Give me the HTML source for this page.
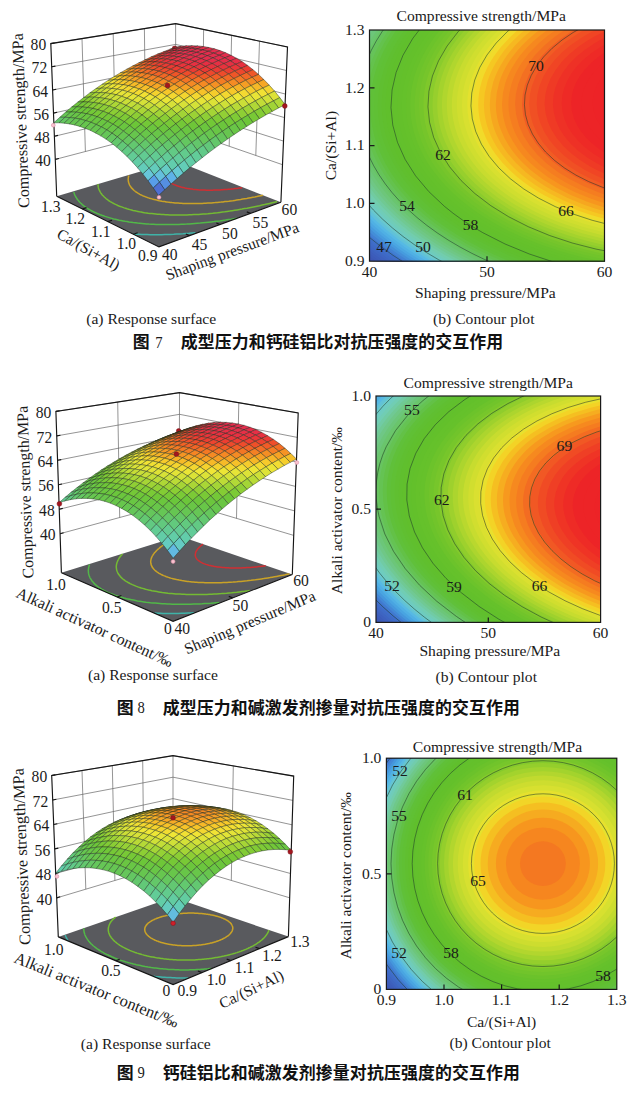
<!DOCTYPE html>
<html><head><meta charset="utf-8"><title>Figures 7-9</title>
<style>html,body{margin:0;padding:0;background:#fff}body{width:636px;height:1096px;overflow:hidden;font-family:"Liberation Serif",serif}svg{display:block;position:absolute;left:0;top:0}text{font-family:"Liberation Serif",serif}</style>
</head><body>
<svg width="636" height="1096" viewBox="0 0 636 1096" font-family="'Liberation Serif', serif" fill="#1a1a1a">
<path d="M56.7,196.3 L159.0,246.9 L280.9,202.2 L176.0,161.0 L56.7,196.3" fill="#595a5e" stroke="none"/>
<path d="M195.4,232.7 L192.2,233.0 L189.1,233.3 L186.0,233.5 L182.9,233.8 L179.8,234.0 L176.7,234.1 L173.7,234.3 L170.6,234.4 L167.6,234.5 L164.7,234.6 L161.7,234.7 L158.8,234.7 L155.9,234.7 L153.0,234.7 L150.2,234.7 L147.3,234.6 L144.6,234.5 L141.8,234.4 L139.1,234.3 L136.3,234.2 L133.7,234.0" fill="none" stroke="#3fb3a8" stroke-width="1.5"/>
<path d="M237.0,218.2 L234.1,218.7 L231.2,219.2 L228.4,219.6 L225.5,220.1 L222.7,220.5 L219.8,220.9 L217.0,221.2 L214.1,221.6 L211.3,221.9 L208.5,222.2 L205.7,222.5 L203.0,222.8 L200.2,223.1 L197.5,223.3 L194.7,223.5 L192.0,223.7 L189.3,223.9 L186.6,224.1 L183.9,224.2 L181.3,224.3 L178.7,224.4 L176.1,224.5 L173.5,224.6 L170.9,224.6 L168.4,224.6 L165.8,224.6 L163.4,224.6 L160.9,224.6 L158.4,224.5 L156.0,224.4 L153.6,224.3 L151.2,224.2 L148.9,224.1 L146.6,223.9 L144.3,223.7 L142.0,223.5 L139.8,223.3 L137.6,223.1 L135.4,222.8 L133.2,222.6 L131.1,222.3 L129.0,222.0 L127.0,221.6 L125.0,221.3 L123.0,220.9 L121.0,220.5 L119.1,220.2 L117.2,219.7 L115.4,219.3 L113.6,218.9 L111.8,218.4 L110.0,217.9 L108.3,217.4 L106.7,216.9 L105.0,216.4 L103.4,215.8 L101.9,215.3 L100.3,214.7 L98.9,214.1 L97.4,213.5 L96.0,212.9 L94.6,212.3 L94.6,212.3 L93.3,211.6 L92.0,211.0 L90.8,210.3 L89.6,209.6 L88.4,209.0 L87.3,208.3 L86.2,207.5 L85.2,206.8 L84.2,206.1 L83.2,205.3 L82.3,204.6 L81.5,203.8 L80.6,203.0 L79.8,202.2 L79.1,201.4 L78.4,200.6 L77.7,199.8 L77.1,199.0 L76.6,198.1 L76.0,197.3 L75.6,196.5 L75.1,195.6 L74.7,194.7 L74.4,193.9 L74.1,193.0 L73.8,192.1" fill="none" stroke="#52b848" stroke-width="1.5"/>
<path d="M277.1,201.6 L274.6,202.2 L272.1,202.8 L269.6,203.4 L267.1,204.0 L264.6,204.6 L262.1,205.1 L259.6,205.7 L257.1,206.2 L254.6,206.7 L252.1,207.2 L249.6,207.7 L247.1,208.2 L244.6,208.6 L242.1,209.1 L239.6,209.5 L237.1,209.9 L234.7,210.3 L232.2,210.7 L229.7,211.1 L227.2,211.4 L224.8,211.8 L222.3,212.1 L219.9,212.4 L217.5,212.7 L215.1,212.9 L212.7,213.2 L210.3,213.4 L207.9,213.7 L205.5,213.9 L203.1,214.0 L200.8,214.2 L198.5,214.4 L196.1,214.5 L193.8,214.6 L191.6,214.7 L189.3,214.8 L187.0,214.9 L184.8,215.0 L182.6,215.0 L180.4,215.0 L178.2,215.0 L176.1,215.0 L173.9,215.0 L171.8,214.9 L169.7,214.9 L167.6,214.8 L165.6,214.7 L163.6,214.6 L161.5,214.5 L159.6,214.3 L157.6,214.2 L155.7,214.0 L153.8,213.8 L151.9,213.6 L150.0,213.4 L148.2,213.2 L146.4,212.9 L144.6,212.7 L142.9,212.4 L141.2,212.1 L139.5,211.8 L137.8,211.4 L136.2,211.1 L134.6,210.7 L133.0,210.4 L131.5,210.0 L130.0,209.6 L128.5,209.2 L127.0,208.8 L125.6,208.3 L124.2,207.9 L122.9,207.4 L121.6,206.9 L120.3,206.5 L119.0,206.0 L117.8,205.5 L116.6,204.9 L116.6,204.9 L115.5,204.4 L114.4,203.8 L113.3,203.3 L112.2,202.7 L111.2,202.1 L110.3,201.6 L109.3,201.0 L108.4,200.4 L107.5,199.7 L106.7,199.1 L105.9,198.5 L105.2,197.8 L104.5,197.2 L103.8,196.5 L103.1,195.8 L102.5,195.2 L101.9,194.5 L101.4,193.8 L100.9,193.1 L100.5,192.4 L100.0,191.7 L99.7,190.9 L99.3,190.2 L99.0,189.5 L98.7,188.7 L98.5,188.0 L98.3,187.2 L98.2,186.5 L98.1,185.7 L98.0,185.0 L97.9,184.2" fill="none" stroke="#74bb33" stroke-width="1.5"/>
<path d="M262.9,195.3 L260.9,195.7 L258.9,196.1 L256.8,196.6 L254.8,197.0 L252.8,197.3 L250.8,197.7 L248.8,198.1 L246.8,198.5 L244.8,198.8 L242.7,199.1 L240.7,199.5 L238.7,199.8 L236.7,200.1 L234.8,200.4 L232.8,200.7 L230.8,200.9 L228.8,201.2 L226.9,201.4 L224.9,201.6 L223.0,201.9 L221.0,202.1 L219.1,202.2 L217.2,202.4 L215.2,202.6 L213.3,202.7 L211.5,202.9 L209.6,203.0 L207.7,203.1 L205.9,203.2 L204.0,203.3 L202.2,203.4 L200.4,203.5 L198.6,203.5 L196.8,203.5 L195.0,203.6 L193.2,203.6 L191.5,203.6 L189.8,203.6 L188.1,203.5 L186.4,203.5 L184.7,203.4 L183.0,203.4 L181.4,203.3 L179.8,203.2 L178.2,203.1 L176.6,203.0 L175.0,202.9 L173.5,202.7 L172.0,202.6 L170.5,202.4 L169.0,202.2 L167.5,202.1 L166.1,201.9 L164.7,201.6 L163.3,201.4 L161.9,201.2 L160.6,200.9 L159.3,200.7 L158.0,200.4 L156.7,200.1 L155.5,199.8 L154.2,199.5 L153.0,199.2 L151.9,198.9 L150.7,198.6 L149.6,198.2 L148.5,197.9 L147.4,197.5 L146.4,197.1 L145.4,196.8 L144.4,196.4 L143.4,196.0 L143.4,196.0 L142.5,195.6 L141.6,195.1 L140.7,194.7 L139.9,194.3 L139.1,193.8 L138.3,193.4 L137.5,192.9 L136.8,192.4 L136.1,192.0 L135.4,191.5 L134.8,191.0 L134.1,190.5 L133.6,190.0 L133.0,189.4 L132.5,188.9 L132.0,188.4 L131.5,187.9 L131.1,187.3 L130.7,186.8 L130.3,186.2 L130.0,185.6 L129.6,185.1 L129.4,184.5 L129.1,183.9 L128.9,183.3 L128.7,182.8 L128.6,182.2 L128.4,181.6 L128.3,181.0 L128.3,180.4 L128.2,179.8 L128.2,179.2 L128.3,178.5 L128.3,177.9 L128.4,177.3 L128.5,176.7 L128.7,176.0 L128.9,175.4" fill="none" stroke="#c9a227" stroke-width="1.5"/>
<path d="M242.1,187.7 L240.7,187.9 L239.3,188.1 L237.9,188.3 L236.5,188.4 L235.1,188.6 L233.7,188.8 L232.3,188.9 L231.0,189.1 L229.6,189.2 L228.2,189.3 L226.9,189.4 L225.5,189.5 L224.2,189.6 L222.8,189.7 L221.5,189.8 L220.2,189.9 L218.9,190.0 L217.6,190.0 L216.3,190.1 L215.0,190.1 L213.7,190.1 L212.5,190.2 L211.2,190.2 L210.0,190.2 L208.7,190.2 L207.5,190.2 L206.3,190.2 L205.1,190.1 L203.9,190.1 L202.8,190.0 L201.6,190.0 L200.5,189.9 L199.3,189.9 L198.2,189.8 L197.1,189.7 L196.0,189.6 L195.0,189.5 L193.9,189.4 L192.9,189.3 L191.9,189.1 L190.8,189.0 L189.9,188.8 L188.9,188.7 L187.9,188.5 L187.0,188.4 L186.1,188.2 L185.1,188.0 L184.3,187.8 L183.4,187.6 L182.5,187.4 L181.7,187.2 L180.9,187.0 L180.1,186.7 L179.3,186.5 L178.5,186.3 L177.8,186.0 L177.1,185.8 L176.3,185.5 L175.7,185.2 L175.7,185.2 L175.0,184.9 L174.3,184.7 L173.7,184.4 L173.1,184.1 L172.5,183.8 L172.0,183.5 L171.4,183.2 L170.9,182.8 L170.4,182.5 L169.9,182.2 L169.4,181.8 L169.0,181.5 L168.6,181.2 L168.2,180.8 L167.8,180.4 L167.4,180.1 L167.1,179.7 L166.8,179.3 L166.5,179.0 L166.2,178.6 L166.0,178.2 L165.8,177.8 L165.6,177.4 L165.4,177.0 L165.2,176.6 L165.1,176.2 L165.0,175.8 L164.9,175.4 L164.8,175.0 L164.8,174.6 L164.7,174.1 L164.7,173.7 L164.7,173.3 L164.8,172.9 L164.8,172.4 L164.9,172.0 L165.0,171.5 L165.2,171.1 L165.3,170.7 L165.5,170.2 L165.7,169.8 L165.9,169.3 L166.1,168.9 L166.4,168.4 L166.7,168.0 L167.0,167.5 L167.3,167.1 L167.7,166.6 L168.0,166.1 L168.4,165.7 L168.8,165.2 L169.2,164.8 L169.7,164.3 L170.2,163.8 L170.7,163.4 L171.2,162.9 L171.7,162.5" fill="none" stroke="#cf2f33" stroke-width="1.5"/>
<g stroke="#666" stroke-width="0.7"><path d="M55.3,159.4 L175.9,127.8 L282.5,164.7" fill="none"/><path d="M54.4,136.3 L175.8,107.0 L283.5,141.1" fill="none"/><path d="M53.5,113.1 L175.8,86.1 L284.5,117.6" fill="none"/><path d="M52.6,90.0 L175.7,65.3 L285.5,94.1" fill="none"/><path d="M51.7,66.8 L175.7,44.4 L286.5,70.5" fill="none"/><path d="M50.8,43.6 L175.6,23.6 L287.5,47.0" fill="none"/><path d="M85.4,151.5 L82.0,38.6" fill="none"/><path d="M115.6,143.6 L113.2,33.6" fill="none"/><path d="M145.7,135.7 L144.4,28.6" fill="none"/><path d="M255.8,155.5 L259.5,41.1" fill="none"/><path d="M229.2,146.2 L231.6,35.3" fill="none"/><path d="M202.6,137.0 L203.6,29.5" fill="none"/><path d="M175.9,127.8 L175.6,23.6" fill="none"/></g>
<g stroke="#151515" stroke-width="1.15" stroke-linejoin="miter"><path d="M56.7,196.3 L50.8,43.6 L175.6,23.6 L287.5,47.0 L280.9,202.2" fill="none"/><path d="M56.7,196.3 L159.0,246.9 L280.9,202.2" fill="none"/><path d="M55.3,159.4 L58.9,158.5" fill="none"/><path d="M54.4,136.3 L58.0,135.4" fill="none"/><path d="M53.5,113.1 L57.1,112.3" fill="none"/><path d="M52.6,90.0 L56.2,89.2" fill="none"/><path d="M51.7,66.8 L55.4,66.1" fill="none"/><path d="M50.8,43.6 L54.5,43.0" fill="none"/><path d="M189.5,235.7 L185.9,234.0" fill="none"/><path d="M219.9,224.6 L216.3,222.9" fill="none"/><path d="M250.4,213.4 L246.8,211.9" fill="none"/><path d="M133.4,234.2 L137.7,232.8" fill="none"/><path d="M107.8,221.6 L112.1,220.2" fill="none"/><path d="M82.3,209.0 L86.5,207.6" fill="none"/></g>
<circle cx="174.6" cy="48.4" r="2.4" fill="#a3161f" stroke="#7a0f15" stroke-width="0.5"/>
<g stroke="#1a2a1a" stroke-opacity="0.68" stroke-width="0.62" stroke-linejoin="round"><path d="M175.0,48.5 L181.2,46.3 L175.7,47.1 L169.5,49.4Z" fill="#e72f43"/><path d="M168.8,51.0 L175.0,48.5 L169.5,49.4 L163.3,51.8Z" fill="#e8313f"/><path d="M180.5,48.1 L186.7,45.8 L181.2,46.3 L175.0,48.5Z" fill="#e62e4a"/><path d="M162.6,53.6 L168.8,51.0 L163.3,51.8 L157.1,54.3Z" fill="#ea3738"/><path d="M174.3,50.5 L180.5,48.1 L175.0,48.5 L168.8,51.0Z" fill="#e72f46"/><path d="M186.1,48.0 L192.3,45.7 L186.7,45.8 L180.5,48.1Z" fill="#e52d4e"/><path d="M156.4,56.3 L162.6,53.6 L157.1,54.3 L150.9,57.0Z" fill="#ed4030"/><path d="M168.1,53.1 L174.3,50.5 L168.8,51.0 L162.6,53.6Z" fill="#e83041"/><path d="M179.8,50.4 L186.1,48.0 L180.5,48.1 L174.3,50.5Z" fill="#e52d4c"/><path d="M191.6,48.2 L197.9,45.9 L192.3,45.7 L186.1,48.0Z" fill="#e52d4e"/><path d="M150.2,59.2 L156.4,56.3 L150.9,57.0 L144.8,59.9Z" fill="#ef4e2a"/><path d="M161.9,55.9 L168.1,53.1 L162.6,53.6 L156.4,56.3Z" fill="#ea353a"/><path d="M173.6,53.1 L179.8,50.4 L174.3,50.5 L168.1,53.1Z" fill="#e62e47"/><path d="M185.3,50.7 L191.6,48.2 L186.1,48.0 L179.8,50.4Z" fill="#e52d4e"/><path d="M197.1,48.9 L203.4,46.5 L197.9,45.9 L191.6,48.2Z" fill="#e52d4e"/><path d="M144.0,62.2 L150.2,59.2 L144.8,59.9 L138.6,62.9Z" fill="#f16227"/><path d="M155.7,58.8 L161.9,55.9 L156.4,56.3 L150.2,59.2Z" fill="#ec3c32"/><path d="M167.3,55.8 L173.6,53.1 L168.1,53.1 L161.9,55.9Z" fill="#e83042"/><path d="M179.1,53.4 L185.3,50.7 L179.8,50.4 L173.6,53.1Z" fill="#e62e4b"/><path d="M190.9,51.4 L197.1,48.9 L191.6,48.2 L185.3,50.7Z" fill="#e52d4e"/><path d="M202.7,49.9 L209.0,47.5 L203.4,46.5 L197.1,48.9Z" fill="#e52d4e"/><path d="M137.9,65.4 L144.0,62.2 L138.6,62.9 L132.5,66.1Z" fill="#f47824"/><path d="M149.5,61.9 L155.7,58.8 L150.2,59.2 L144.0,62.2Z" fill="#ef4c2b"/><path d="M161.1,58.8 L167.3,55.8 L161.9,55.9 L155.7,58.8Z" fill="#ea353a"/><path d="M172.8,56.2 L179.1,53.4 L173.6,53.1 L167.3,55.8Z" fill="#e72f46"/><path d="M184.6,54.1 L190.9,51.4 L185.3,50.7 L179.1,53.4Z" fill="#e52d4e"/><path d="M196.4,52.4 L202.7,49.9 L197.1,48.9 L190.9,51.4Z" fill="#e52d4e"/><path d="M208.2,51.3 L214.5,48.8 L209.0,47.5 L202.7,49.9Z" fill="#e52d4e"/><path d="M131.7,68.8 L137.9,65.4 L132.5,66.1 L126.4,69.4Z" fill="#f58f24"/><path d="M143.3,65.1 L149.5,61.9 L144.0,62.2 L137.9,65.4Z" fill="#f16127"/><path d="M154.9,61.9 L161.1,58.8 L155.7,58.8 L149.5,61.9Z" fill="#ec3e31"/><path d="M166.6,59.1 L172.8,56.2 L167.3,55.8 L161.1,58.8Z" fill="#e83040"/><path d="M178.3,56.9 L184.6,54.1 L179.1,53.4 L172.8,56.2Z" fill="#e62e49"/><path d="M190.1,55.1 L196.4,52.4 L190.9,51.4 L184.6,54.1Z" fill="#e52d4e"/><path d="M201.9,53.9 L208.2,51.3 L202.7,49.9 L196.4,52.4Z" fill="#e52d4e"/><path d="M213.7,53.1 L220.1,50.6 L214.5,48.8 L208.2,51.3Z" fill="#e52d4e"/><path d="M125.6,72.3 L131.7,68.8 L126.4,69.4 L120.2,72.9Z" fill="#f6a725"/><path d="M137.1,68.5 L143.3,65.1 L137.9,65.4 L131.7,68.8Z" fill="#f47924"/><path d="M148.7,65.2 L154.9,61.9 L149.5,61.9 L143.3,65.1Z" fill="#ef4f2a"/><path d="M160.4,62.3 L166.6,59.1 L161.1,58.8 L154.9,61.9Z" fill="#eb3837"/><path d="M172.1,59.9 L178.3,56.9 L172.8,56.2 L166.6,59.1Z" fill="#e72f43"/><path d="M183.8,58.0 L190.1,55.1 L184.6,54.1 L178.3,56.9Z" fill="#e62e4b"/><path d="M195.6,56.6 L201.9,53.9 L196.4,52.4 L190.1,55.1Z" fill="#e52d4e"/><path d="M207.4,55.7 L213.7,53.1 L208.2,51.3 L201.9,53.9Z" fill="#e52d4e"/><path d="M219.3,55.3 L225.6,52.7 L220.1,50.6 L213.7,53.1Z" fill="#e52d4e"/><path d="M119.5,76.0 L125.6,72.3 L120.2,72.9 L114.1,76.6Z" fill="#f6c429"/><path d="M131.0,72.1 L137.1,68.5 L131.7,68.8 L125.6,72.3Z" fill="#f59124"/><path d="M142.5,68.6 L148.7,65.2 L143.3,65.1 L137.1,68.5Z" fill="#f26626"/><path d="M154.1,65.6 L160.4,62.3 L154.9,61.9 L148.7,65.2Z" fill="#ed442e"/><path d="M165.8,63.1 L172.1,59.9 L166.6,59.1 L160.4,62.3Z" fill="#e9343c"/><path d="M177.5,61.0 L183.8,58.0 L178.3,56.9 L172.1,59.9Z" fill="#e72f45"/><path d="M189.3,59.5 L195.6,56.6 L190.1,55.1 L183.8,58.0Z" fill="#e62e4b"/><path d="M201.1,58.5 L207.4,55.7 L201.9,53.9 L195.6,56.6Z" fill="#e52d4e"/><path d="M212.9,57.9 L219.3,55.3 L213.7,53.1 L207.4,55.7Z" fill="#e52d4e"/><path d="M224.8,57.9 L231.1,55.3 L225.6,52.7 L219.3,55.3Z" fill="#e52d4e"/><path d="M113.3,79.9 L119.5,76.0 L114.1,76.6 L108.0,80.4Z" fill="#f2db31"/><path d="M124.8,75.8 L131.0,72.1 L125.6,72.3 L119.5,76.0Z" fill="#f6ac26"/><path d="M136.3,72.2 L142.5,68.6 L137.1,68.5 L131.0,72.1Z" fill="#f48024"/><path d="M147.9,69.1 L154.1,65.6 L148.7,65.2 L142.5,68.6Z" fill="#f05828"/><path d="M159.6,66.4 L165.8,63.1 L160.4,62.3 L154.1,65.6Z" fill="#ec3d32"/><path d="M171.3,64.3 L177.5,61.0 L172.1,59.9 L165.8,63.1Z" fill="#e9323e"/><path d="M183.0,62.6 L189.3,59.5 L183.8,58.0 L177.5,61.0Z" fill="#e72f45"/><path d="M194.8,61.4 L201.1,58.5 L195.6,56.6 L189.3,59.5Z" fill="#e62e4a"/><path d="M206.6,60.8 L212.9,57.9 L207.4,55.7 L201.1,58.5Z" fill="#e52d4d"/><path d="M218.4,60.6 L224.8,57.9 L219.3,55.3 L212.9,57.9Z" fill="#e52d4e"/><path d="M230.3,60.9 L236.6,58.3 L231.1,55.3 L224.8,57.9Z" fill="#e52d4e"/><path d="M107.2,83.9 L113.3,79.9 L108.0,80.4 L101.9,84.4Z" fill="#e6e437"/><path d="M118.7,79.7 L124.8,75.8 L119.5,76.0 L113.3,79.9Z" fill="#f6ca2b"/><path d="M130.2,76.0 L136.3,72.2 L131.0,72.1 L124.8,75.8Z" fill="#f69a24"/><path d="M141.7,72.7 L147.9,69.1 L142.5,68.6 L136.3,72.2Z" fill="#f37225"/><path d="M153.4,69.9 L159.6,66.4 L154.1,65.6 L147.9,69.1Z" fill="#ef502a"/><path d="M165.0,67.6 L171.3,64.3 L165.8,63.1 L159.6,66.4Z" fill="#ec3b34"/><path d="M176.7,65.8 L183.0,62.6 L177.5,61.0 L171.3,64.3Z" fill="#e9323e"/><path d="M188.5,64.5 L194.8,61.4 L189.3,59.5 L183.0,62.6Z" fill="#e72f44"/><path d="M200.3,63.8 L206.6,60.8 L201.1,58.5 L194.8,61.4Z" fill="#e62e47"/><path d="M212.1,63.5 L218.4,60.6 L212.9,57.9 L206.6,60.8Z" fill="#e62e49"/><path d="M223.9,63.6 L230.3,60.9 L224.8,57.9 L218.4,60.6Z" fill="#e62e49"/><path d="M235.8,64.3 L242.1,61.6 L236.6,58.3 L230.3,60.9Z" fill="#e62e47"/><path d="M101.1,88.2 L107.2,83.9 L101.9,84.4 L95.9,88.6Z" fill="#d0e038"/><path d="M112.5,83.8 L118.7,79.7 L113.3,79.9 L107.2,83.9Z" fill="#f1e134"/><path d="M124.0,79.9 L130.2,76.0 L124.8,75.8 L118.7,79.7Z" fill="#f6b828"/><path d="M135.5,76.5 L141.7,72.7 L136.3,72.2 L130.2,76.0Z" fill="#f58d24"/><path d="M147.1,73.6 L153.4,69.9 L147.9,69.1 L141.7,72.7Z" fill="#f26926"/><path d="M158.8,71.2 L165.0,67.6 L159.6,66.4 L153.4,69.9Z" fill="#ef4c2b"/><path d="M170.5,69.3 L176.7,65.8 L171.3,64.3 L165.0,67.6Z" fill="#eb3a34"/><path d="M182.2,67.8 L188.5,64.5 L183.0,62.6 L176.7,65.8Z" fill="#e9333d"/><path d="M194.0,66.9 L200.3,63.8 L194.8,61.4 L188.5,64.5Z" fill="#e83042"/><path d="M205.7,66.5 L212.1,63.5 L206.6,60.8 L200.3,63.8Z" fill="#e72f44"/><path d="M217.6,66.6 L223.9,63.6 L218.4,60.6 L212.1,63.5Z" fill="#e72f44"/><path d="M229.4,67.1 L235.8,64.3 L230.3,60.9 L223.9,63.6Z" fill="#e72f43"/><path d="M241.2,68.2 L247.6,65.4 L242.1,61.6 L235.8,64.3Z" fill="#e83040"/><path d="M95.1,92.6 L101.1,88.2 L95.9,88.6 L89.8,92.9Z" fill="#b3d937"/><path d="M106.4,88.1 L112.5,83.8 L107.2,83.9 L101.1,88.2Z" fill="#dfe337"/><path d="M117.9,84.1 L124.0,79.9 L118.7,79.7 L112.5,83.8Z" fill="#f4d32f"/><path d="M129.4,80.5 L135.5,76.5 L130.2,76.0 L124.0,79.9Z" fill="#f6a925"/><path d="M140.9,77.5 L147.1,73.6 L141.7,72.7 L135.5,76.5Z" fill="#f58424"/><path d="M152.5,74.9 L158.8,71.2 L153.4,69.9 L147.1,73.6Z" fill="#f26426"/><path d="M164.2,72.8 L170.5,69.3 L165.0,67.6 L158.8,71.2Z" fill="#ef4b2c"/><path d="M175.9,71.3 L182.2,67.8 L176.7,65.8 L170.5,69.3Z" fill="#ec3c32"/><path d="M187.6,70.2 L194.0,66.9 L188.5,64.5 L182.2,67.8Z" fill="#ea3639"/><path d="M199.4,69.7 L205.7,66.5 L200.3,63.8 L194.0,66.9Z" fill="#e9333d"/><path d="M211.2,69.7 L217.6,66.6 L212.1,63.5 L205.7,66.5Z" fill="#e9323e"/><path d="M223.0,70.1 L229.4,67.1 L223.9,63.6 L217.6,66.6Z" fill="#e9333d"/><path d="M234.8,71.1 L241.2,68.2 L235.8,64.3 L229.4,67.1Z" fill="#ea3639"/><path d="M246.6,72.5 L253.0,69.7 L247.6,65.4 L241.2,68.2Z" fill="#ec3c32"/><path d="M89.0,97.1 L95.1,92.6 L89.8,92.9 L83.8,97.5Z" fill="#97d135"/><path d="M100.3,92.6 L106.4,88.1 L101.1,88.2 L95.1,92.6Z" fill="#c6dd37"/><path d="M111.7,88.4 L117.9,84.1 L112.5,83.8 L106.4,88.1Z" fill="#ebe536"/><path d="M123.2,84.7 L129.4,80.5 L124.0,79.9 L117.9,84.1Z" fill="#f6c92b"/><path d="M134.7,81.5 L140.9,77.5 L135.5,76.5 L129.4,80.5Z" fill="#f69f24"/><path d="M146.3,78.8 L152.5,74.9 L147.1,73.6 L140.9,77.5Z" fill="#f47f24"/><path d="M158.0,76.6 L164.2,72.8 L158.8,71.2 L152.5,74.9Z" fill="#f26326"/><path d="M169.6,74.9 L175.9,71.3 L170.5,69.3 L164.2,72.8Z" fill="#ef4e2a"/><path d="M181.3,73.7 L187.6,70.2 L182.2,67.8 L175.9,71.3Z" fill="#ed4230"/><path d="M193.1,73.1 L199.4,69.7 L194.0,66.9 L187.6,70.2Z" fill="#ec3b33"/><path d="M204.9,72.9 L211.2,69.7 L205.7,66.5 L199.4,69.7Z" fill="#eb3935"/><path d="M216.7,73.3 L223.0,70.1 L217.6,66.6 L211.2,69.7Z" fill="#eb3a34"/><path d="M228.5,74.1 L234.8,71.1 L229.4,67.1 L223.0,70.1Z" fill="#ec3e31"/><path d="M240.3,75.5 L246.6,72.5 L241.2,68.2 L234.8,71.1Z" fill="#ee482d"/><path d="M252.1,77.3 L258.5,74.4 L253.0,69.7 L246.6,72.5Z" fill="#f05728"/><path d="M83.0,101.9 L89.0,97.1 L83.8,97.5 L77.7,102.2Z" fill="#7ecb35"/><path d="M94.3,97.2 L100.3,92.6 L95.1,92.6 L89.0,97.1Z" fill="#a8d636"/><path d="M105.6,92.9 L111.7,88.4 L106.4,88.1 L100.3,92.6Z" fill="#d4e138"/><path d="M117.1,89.1 L123.2,84.7 L117.9,84.1 L111.7,88.4Z" fill="#f1e134"/><path d="M128.6,85.7 L134.7,81.5 L129.4,80.5 L123.2,84.7Z" fill="#f6c029"/><path d="M140.1,82.9 L146.3,78.8 L140.9,77.5 L134.7,81.5Z" fill="#f69b24"/><path d="M151.7,80.6 L158.0,76.6 L152.5,74.9 L146.3,78.8Z" fill="#f47f24"/><path d="M163.4,78.7 L169.6,74.9 L164.2,72.8 L158.0,76.6Z" fill="#f26726"/><path d="M175.1,77.4 L181.3,73.7 L175.9,71.3 L169.6,74.9Z" fill="#f05528"/><path d="M186.8,76.6 L193.1,73.1 L187.6,70.2 L181.3,73.7Z" fill="#ef4c2b"/><path d="M198.5,76.3 L204.9,72.9 L199.4,69.7 L193.1,73.1Z" fill="#ee472d"/><path d="M210.3,76.6 L216.7,73.3 L211.2,69.7 L204.9,72.9Z" fill="#ee482d"/><path d="M222.1,77.3 L228.5,74.1 L223.0,70.1 L216.7,73.3Z" fill="#ef4c2b"/><path d="M233.9,78.6 L240.3,75.5 L234.8,71.1 L228.5,74.1Z" fill="#f05628"/><path d="M245.7,80.3 L252.1,77.3 L246.6,72.5 L240.3,75.5Z" fill="#f26726"/><path d="M257.4,82.5 L263.8,79.5 L258.5,74.4 L252.1,77.3Z" fill="#f47e24"/><path d="M76.9,106.8 L83.0,101.9 L77.7,102.2 L71.7,107.0Z" fill="#6cc639"/><path d="M88.2,102.0 L94.3,97.2 L89.0,97.1 L83.0,101.9Z" fill="#8bce34"/><path d="M99.5,97.6 L105.6,92.9 L100.3,92.6 L94.3,97.2Z" fill="#b6da37"/><path d="M110.9,93.6 L117.1,89.1 L111.7,88.4 L105.6,92.9Z" fill="#dde237"/><path d="M122.4,90.2 L128.6,85.7 L123.2,84.7 L117.1,89.1Z" fill="#f2db32"/><path d="M133.9,87.2 L140.1,82.9 L134.7,81.5 L128.6,85.7Z" fill="#f6bb28"/><path d="M145.5,84.7 L151.7,80.6 L146.3,78.8 L140.1,82.9Z" fill="#f69a24"/><path d="M157.1,82.7 L163.4,78.7 L158.0,76.6 L151.7,80.6Z" fill="#f48324"/><path d="M168.8,81.3 L175.1,77.4 L169.6,74.9 L163.4,78.7Z" fill="#f37025"/><path d="M180.5,80.3 L186.8,76.6 L181.3,73.7 L175.1,77.4Z" fill="#f16227"/><path d="M192.2,79.9 L198.5,76.3 L193.1,73.1 L186.8,76.6Z" fill="#f15b27"/><path d="M204.0,80.0 L210.3,76.6 L204.9,72.9 L198.5,76.3Z" fill="#f15927"/><path d="M215.7,80.7 L222.1,77.3 L216.7,73.3 L210.3,76.6Z" fill="#f15e27"/><path d="M227.5,81.8 L233.9,78.6 L228.5,74.1 L222.1,77.3Z" fill="#f26926"/><path d="M239.3,83.5 L245.7,80.3 L240.3,75.5 L233.9,78.6Z" fill="#f47924"/><path d="M251.0,85.6 L257.4,82.5 L252.1,77.3 L245.7,80.3Z" fill="#f58d24"/><path d="M262.8,88.1 L269.2,85.1 L263.8,79.5 L257.4,82.5Z" fill="#f6a725"/><path d="M70.9,112.0 L76.9,106.8 L71.7,107.0 L65.7,112.1Z" fill="#69c646"/><path d="M82.2,107.0 L88.2,102.0 L83.0,101.9 L76.9,106.8Z" fill="#75c836"/><path d="M93.4,102.5 L99.5,97.6 L94.3,97.2 L88.2,102.0Z" fill="#98d235"/><path d="M104.8,98.4 L110.9,93.6 L105.6,92.9 L99.5,97.6Z" fill="#c2dc37"/><path d="M116.2,94.7 L122.4,90.2 L117.1,89.1 L110.9,93.6Z" fill="#e3e437"/><path d="M127.7,91.6 L133.9,87.2 L128.6,85.7 L122.4,90.2Z" fill="#f3d730"/><path d="M139.3,89.0 L145.5,84.7 L140.1,82.9 L133.9,87.2Z" fill="#f6bb28"/><path d="M150.9,86.9 L157.1,82.7 L151.7,80.6 L145.5,84.7Z" fill="#f69e24"/><path d="M162.5,85.3 L168.8,81.3 L163.4,78.7 L157.1,82.7Z" fill="#f58b24"/><path d="M174.2,84.2 L180.5,80.3 L175.1,77.4 L168.8,81.3Z" fill="#f47d24"/><path d="M185.9,83.7 L192.2,79.9 L186.8,76.6 L180.5,80.3Z" fill="#f37425"/><path d="M197.6,83.7 L204.0,80.0 L198.5,76.3 L192.2,79.9Z" fill="#f37125"/><path d="M209.4,84.2 L215.7,80.7 L210.3,76.6 L204.0,80.0Z" fill="#f37425"/><path d="M221.1,85.2 L227.5,81.8 L222.1,77.3 L215.7,80.7Z" fill="#f47d24"/><path d="M232.9,86.8 L239.3,83.5 L233.9,78.6 L227.5,81.8Z" fill="#f58b24"/><path d="M244.6,88.8 L251.0,85.6 L245.7,80.3 L239.3,83.5Z" fill="#f69e24"/><path d="M256.4,91.3 L262.8,88.1 L257.4,82.5 L251.0,85.6Z" fill="#f6b928"/><path d="M268.1,94.3 L274.5,91.1 L269.2,85.1 L262.8,88.1Z" fill="#f4d42f"/><path d="M64.9,117.3 L70.9,112.0 L65.7,112.1 L59.8,117.3Z" fill="#66c654"/><path d="M76.1,112.2 L82.2,107.0 L76.9,106.8 L70.9,112.0Z" fill="#6ac63f"/><path d="M87.4,107.5 L93.4,102.5 L88.2,102.0 L82.2,107.0Z" fill="#7eca35"/><path d="M98.7,103.3 L104.8,98.4 L99.5,97.6 L93.4,102.5Z" fill="#a2d436"/><path d="M110.1,99.5 L116.2,94.7 L110.9,93.6 L104.8,98.4Z" fill="#c9de38"/><path d="M121.6,96.3 L127.7,91.6 L122.4,90.2 L116.2,94.7Z" fill="#e6e437"/><path d="M133.1,93.5 L139.3,89.0 L133.9,87.2 L127.7,91.6Z" fill="#f3d730"/><path d="M144.6,91.2 L150.9,86.9 L145.5,84.7 L139.3,89.0Z" fill="#f6bf29"/><path d="M156.2,89.5 L162.5,85.3 L157.1,82.7 L150.9,86.9Z" fill="#f6a725"/><path d="M167.9,88.3 L174.2,84.2 L168.8,81.3 L162.5,85.3Z" fill="#f69724"/><path d="M179.6,87.6 L185.9,83.7 L180.5,80.3 L174.2,84.2Z" fill="#f58d24"/><path d="M191.3,87.5 L197.6,83.7 L192.2,79.9 L185.9,83.7Z" fill="#f58924"/><path d="M203.0,87.9 L209.4,84.2 L204.0,80.0 L197.6,83.7Z" fill="#f58a24"/><path d="M214.8,88.8 L221.1,85.2 L215.7,80.7 L209.4,84.2Z" fill="#f59124"/><path d="M226.5,90.3 L232.9,86.8 L227.5,81.8 L221.1,85.2Z" fill="#f69e24"/><path d="M238.2,92.2 L244.6,88.8 L239.3,83.5 L232.9,86.8Z" fill="#f6b227"/><path d="M250.0,94.6 L256.4,91.3 L251.0,85.6 L244.6,88.8Z" fill="#f5cb2b"/><path d="M261.7,97.5 L268.1,94.3 L262.8,88.1 L256.4,91.3Z" fill="#f1e134"/><path d="M273.4,100.9 L279.8,97.6 L274.5,91.1 L268.1,94.3Z" fill="#dde237"/><path d="M59.0,122.8 L64.9,117.3 L59.8,117.3 L53.8,122.8Z" fill="#63c76c"/><path d="M70.1,117.6 L76.1,112.2 L70.9,112.0 L64.9,117.3Z" fill="#67c64d"/><path d="M81.3,112.8 L87.4,107.5 L82.2,107.0 L76.1,112.2Z" fill="#6cc63a"/><path d="M92.6,108.4 L98.7,103.3 L93.4,102.5 L87.4,107.5Z" fill="#84cc34"/><path d="M104.0,104.5 L110.1,99.5 L104.8,98.4 L98.7,103.3Z" fill="#a9d636"/><path d="M115.4,101.1 L121.6,96.3 L116.2,94.7 L110.1,99.5Z" fill="#cddf38"/><path d="M126.9,98.2 L133.1,93.5 L127.7,91.6 L121.6,96.3Z" fill="#e6e437"/><path d="M138.4,95.7 L144.6,91.2 L139.3,89.0 L133.1,93.5Z" fill="#f2da31"/><path d="M150.0,93.9 L156.2,89.5 L150.9,86.9 L144.6,91.2Z" fill="#f6c82a"/><path d="M161.6,92.5 L167.9,88.3 L162.5,85.3 L156.2,89.5Z" fill="#f6b527"/><path d="M173.3,91.7 L179.6,87.6 L174.2,84.2 L167.9,88.3Z" fill="#f6a825"/><path d="M185.0,91.4 L191.3,87.5 L185.9,83.7 L179.6,87.6Z" fill="#f6a124"/><path d="M196.7,91.7 L203.0,87.9 L197.6,83.7 L191.3,87.5Z" fill="#f6a124"/><path d="M208.4,92.5 L214.8,88.8 L209.4,84.2 L203.0,87.9Z" fill="#f6a825"/><path d="M220.1,93.9 L226.5,90.3 L221.1,85.2 L214.8,88.8Z" fill="#f6b527"/><path d="M231.9,95.7 L238.2,92.2 L232.9,86.8 L226.5,90.3Z" fill="#f6c82a"/><path d="M243.6,98.1 L250.0,94.6 L244.6,88.8 L238.2,92.2Z" fill="#f3d931"/><path d="M255.3,100.9 L261.7,97.5 L256.4,91.3 L250.0,94.6Z" fill="#e8e437"/><path d="M267.0,104.2 L273.4,100.9 L268.1,94.3 L261.7,97.5Z" fill="#d1e038"/><path d="M278.6,108.0 L285.1,104.6 L279.8,97.6 L273.4,100.9Z" fill="#afd836"/><path d="M64.1,123.2 L70.1,117.6 L64.9,117.3 L59.0,122.8Z" fill="#64c761"/><path d="M75.3,118.2 L81.3,112.8 L76.1,112.2 L70.1,117.6Z" fill="#68c647"/><path d="M86.6,113.7 L92.6,108.4 L87.4,107.5 L81.3,112.8Z" fill="#6fc737"/><path d="M97.9,109.7 L104.0,104.5 L98.7,103.3 L92.6,108.4Z" fill="#8bce34"/><path d="M109.3,106.1 L115.4,101.1 L110.1,99.5 L104.0,104.5Z" fill="#add736"/><path d="M120.7,103.0 L126.9,98.2 L121.6,96.3 L115.4,101.1Z" fill="#cddf38"/><path d="M132.2,100.5 L138.4,95.7 L133.1,93.5 L126.9,98.2Z" fill="#e4e437"/><path d="M143.8,98.4 L150.0,93.9 L144.6,91.2 L138.4,95.7Z" fill="#f1e034"/><path d="M155.4,96.9 L161.6,92.5 L156.2,89.5 L150.0,93.9Z" fill="#f4d22e"/><path d="M167.0,96.0 L173.3,91.7 L167.9,88.3 L161.6,92.5Z" fill="#f6c72a"/><path d="M178.7,95.6 L185.0,91.4 L179.6,87.6 L173.3,91.7Z" fill="#f6bf29"/><path d="M190.4,95.7 L196.7,91.7 L191.3,87.5 L185.0,91.4Z" fill="#f6bd28"/><path d="M202.1,96.4 L208.4,92.5 L203.0,87.9 L196.7,91.7Z" fill="#f6c229"/><path d="M213.8,97.7 L220.1,93.9 L214.8,88.8 L208.4,92.5Z" fill="#f5cc2c"/><path d="M225.5,99.4 L231.9,95.7 L226.5,90.3 L220.1,93.9Z" fill="#f3d830"/><path d="M237.2,101.7 L243.6,98.1 L238.2,92.2 L231.9,95.7Z" fill="#eee636"/><path d="M248.9,104.5 L255.3,100.9 L250.0,94.6 L243.6,98.1Z" fill="#dbe237"/><path d="M260.6,107.7 L267.0,104.2 L261.7,97.5 L255.3,100.9Z" fill="#c1dc37"/><path d="M272.2,111.4 L278.6,108.0 L273.4,100.9 L267.0,104.2Z" fill="#a1d436"/><path d="M69.3,123.9 L75.3,118.2 L70.1,117.6 L64.1,123.2Z" fill="#65c658"/><path d="M80.5,119.2 L86.6,113.7 L81.3,112.8 L75.3,118.2Z" fill="#69c644"/><path d="M91.8,115.0 L97.9,109.7 L92.6,108.4 L86.6,113.7Z" fill="#73c837"/><path d="M103.2,111.3 L109.3,106.1 L104.0,104.5 L97.9,109.7Z" fill="#8ecf35"/><path d="M114.6,108.1 L120.7,103.0 L115.4,101.1 L109.3,106.1Z" fill="#add736"/><path d="M126.0,105.4 L132.2,100.5 L126.9,98.2 L120.7,103.0Z" fill="#cade38"/><path d="M137.6,103.2 L143.8,98.4 L138.4,95.7 L132.2,100.5Z" fill="#dee337"/><path d="M149.1,101.5 L155.4,96.9 L150.0,93.9 L143.8,98.4Z" fill="#ede536"/><path d="M160.7,100.4 L167.0,96.0 L161.6,92.5 L155.4,96.9Z" fill="#f2de33"/><path d="M172.4,99.9 L178.7,95.6 L173.3,91.7 L167.0,96.0Z" fill="#f3d730"/><path d="M184.0,99.9 L190.4,95.7 L185.0,91.4 L178.7,95.6Z" fill="#f3d52f"/><path d="M195.7,100.5 L202.1,96.4 L196.7,91.7 L190.4,95.7Z" fill="#f3d730"/><path d="M207.4,101.6 L213.8,97.7 L208.4,92.5 L202.1,96.4Z" fill="#f2de33"/><path d="M219.1,103.3 L225.5,99.4 L220.1,93.9 L213.8,97.7Z" fill="#ede536"/><path d="M230.8,105.4 L237.2,101.7 L231.9,95.7 L225.5,99.4Z" fill="#dfe337"/><path d="M242.5,108.1 L248.9,104.5 L243.6,98.1 L237.2,101.7Z" fill="#cbdf38"/><path d="M254.2,111.3 L260.6,107.7 L255.3,100.9 L248.9,104.5Z" fill="#b0d836"/><path d="M265.8,115.0 L272.2,111.4 L267.0,104.2 L260.6,107.7Z" fill="#92d035"/><path d="M74.5,124.9 L80.5,119.2 L75.3,118.2 L69.3,123.9Z" fill="#66c652"/><path d="M85.8,120.6 L91.8,115.0 L86.6,113.7 L80.5,119.2Z" fill="#6ac641"/><path d="M97.1,116.7 L103.2,111.3 L97.9,109.7 L91.8,115.0Z" fill="#76c836"/><path d="M108.4,113.4 L114.6,108.1 L109.3,106.1 L103.2,111.3Z" fill="#8ecf35"/><path d="M119.9,110.5 L126.0,105.4 L120.7,103.0 L114.6,108.1Z" fill="#aad636"/><path d="M131.4,108.1 L137.6,103.2 L132.2,100.5 L126.0,105.4Z" fill="#c3dd37"/><path d="M142.9,106.3 L149.1,101.5 L143.8,98.4 L137.6,103.2Z" fill="#d5e138"/><path d="M154.5,105.1 L160.7,100.4 L155.4,96.9 L149.1,101.5Z" fill="#e1e337"/><path d="M166.1,104.4 L172.4,99.9 L167.0,96.0 L160.7,100.4Z" fill="#e8e536"/><path d="M177.7,104.3 L184.0,99.9 L178.7,95.6 L172.4,99.9Z" fill="#ece536"/><path d="M189.4,104.7 L195.7,100.5 L190.4,95.7 L184.0,99.9Z" fill="#ebe536"/><path d="M201.1,105.7 L207.4,101.6 L202.1,96.4 L195.7,100.5Z" fill="#e5e437"/><path d="M212.8,107.3 L219.1,103.3 L213.8,97.7 L207.4,101.6Z" fill="#dce237"/><path d="M224.4,109.3 L230.8,105.4 L225.5,99.4 L219.1,103.3Z" fill="#cee038"/><path d="M236.1,112.0 L242.5,108.1 L237.2,101.7 L230.8,105.4Z" fill="#b9da37"/><path d="M247.8,115.1 L254.2,111.3 L248.9,104.5 L242.5,108.1Z" fill="#9fd335"/><path d="M259.4,118.7 L265.8,115.0 L260.6,107.7 L254.2,111.3Z" fill="#83cc34"/><path d="M79.7,126.4 L85.8,120.6 L80.5,119.2 L74.5,124.9Z" fill="#67c64f"/><path d="M91.0,122.3 L97.1,116.7 L91.8,115.0 L85.8,120.6Z" fill="#6ac640"/><path d="M102.3,118.8 L108.4,113.4 L103.2,111.3 L97.1,116.7Z" fill="#76c836"/><path d="M113.7,115.8 L119.9,110.5 L114.6,108.1 L108.4,113.4Z" fill="#8bce34"/><path d="M125.2,113.3 L131.4,108.1 L126.0,105.4 L119.9,110.5Z" fill="#a3d536"/><path d="M136.7,111.3 L142.9,106.3 L137.6,103.2 L131.4,108.1Z" fill="#b8da37"/><path d="M148.2,109.9 L154.5,105.1 L149.1,101.5 L142.9,106.3Z" fill="#c8de38"/><path d="M159.8,109.1 L166.1,104.4 L160.7,100.4 L154.5,105.1Z" fill="#d2e038"/><path d="M171.4,108.8 L177.7,104.3 L172.4,99.9 L166.1,104.4Z" fill="#d7e138"/><path d="M183.1,109.1 L189.4,104.7 L184.0,99.9 L177.7,104.3Z" fill="#d7e138"/><path d="M194.7,110.0 L201.1,105.7 L195.7,100.5 L189.4,104.7Z" fill="#d3e138"/><path d="M206.4,111.4 L212.8,107.3 L207.4,101.6 L201.1,105.7Z" fill="#c9de38"/><path d="M218.1,113.4 L224.4,109.3 L219.1,103.3 L212.8,107.3Z" fill="#b9da37"/><path d="M229.7,115.9 L236.1,112.0 L230.8,105.4 L224.4,109.3Z" fill="#a5d536"/><path d="M241.4,119.0 L247.8,115.1 L242.5,108.1 L236.1,112.0Z" fill="#8ecf35"/><path d="M253.0,122.5 L259.4,118.7 L254.2,111.3 L247.8,115.1Z" fill="#78c936"/><path d="M84.9,128.2 L91.0,122.3 L85.8,120.6 L79.7,126.4Z" fill="#67c64e"/><path d="M96.2,124.5 L102.3,118.8 L97.1,116.7 L91.0,122.3Z" fill="#6ac640"/><path d="M107.6,121.3 L113.7,115.8 L108.4,113.4 L102.3,118.8Z" fill="#74c837"/><path d="M119.0,118.6 L125.2,113.3 L119.9,110.5 L113.7,115.8Z" fill="#85cc34"/><path d="M130.5,116.5 L136.7,111.3 L131.4,108.1 L125.2,113.3Z" fill="#9ad235"/><path d="M142.0,114.9 L148.2,109.9 L142.9,106.3 L136.7,111.3Z" fill="#aad636"/><path d="M153.6,113.9 L159.8,109.1 L154.5,105.1 L148.2,109.9Z" fill="#b6da37"/><path d="M165.2,113.5 L171.4,108.8 L166.1,104.4 L159.8,109.1Z" fill="#bddb37"/><path d="M176.8,113.7 L183.1,109.1 L177.7,104.3 L171.4,108.8Z" fill="#bfdc37"/><path d="M188.4,114.4 L194.7,110.0 L189.4,104.7 L183.1,109.1Z" fill="#bbdb37"/><path d="M200.1,115.7 L206.4,111.4 L201.1,105.7 L194.7,110.0Z" fill="#b2d836"/><path d="M211.7,117.6 L218.1,113.4 L212.8,107.3 L206.4,111.4Z" fill="#a4d536"/><path d="M223.4,120.0 L229.7,115.9 L224.4,109.3 L218.1,113.4Z" fill="#92d035"/><path d="M235.0,123.0 L241.4,119.0 L236.1,112.0 L229.7,115.9Z" fill="#7fcb35"/><path d="M246.6,126.5 L253.0,122.5 L247.8,115.1 L241.4,119.0Z" fill="#6dc638"/><path d="M90.2,130.3 L96.2,124.5 L91.0,122.3 L84.9,128.2Z" fill="#67c64e"/><path d="M101.5,127.0 L107.6,121.3 L102.3,118.8 L96.2,124.5Z" fill="#6ac641"/><path d="M112.9,124.1 L119.0,118.6 L113.7,115.8 L107.6,121.3Z" fill="#70c737"/><path d="M124.3,121.8 L130.5,116.5 L125.2,113.3 L119.0,118.6Z" fill="#7ecb35"/><path d="M135.8,120.1 L142.0,114.9 L136.7,111.3 L130.5,116.5Z" fill="#8dce34"/><path d="M147.3,119.0 L153.6,113.9 L148.2,109.9 L142.0,114.9Z" fill="#99d235"/><path d="M158.9,118.4 L165.2,113.5 L159.8,109.1 L153.6,113.9Z" fill="#a1d436"/><path d="M170.5,118.4 L176.8,113.7 L171.4,108.8 L165.2,113.5Z" fill="#a4d536"/><path d="M182.1,119.0 L188.4,114.4 L183.1,109.1 L176.8,113.7Z" fill="#a2d436"/><path d="M193.7,120.2 L200.1,115.7 L194.7,110.0 L188.4,114.4Z" fill="#9bd235"/><path d="M205.4,121.9 L211.7,117.6 L206.4,111.4 L200.1,115.7Z" fill="#8fcf35"/><path d="M217.0,124.2 L223.4,120.0 L218.1,113.4 L211.7,117.6Z" fill="#80cb35"/><path d="M228.6,127.1 L235.0,123.0 L229.7,115.9 L223.4,120.0Z" fill="#72c837"/><path d="M240.2,130.5 L246.6,126.5 L241.4,119.0 L235.0,123.0Z" fill="#6ac63f"/><path d="M95.4,132.9 L101.5,127.0 L96.2,124.5 L90.2,130.3Z" fill="#67c64f"/><path d="M106.8,129.9 L112.9,124.1 L107.6,121.3 L101.5,127.0Z" fill="#69c643"/><path d="M118.2,127.4 L124.3,121.8 L119.0,118.6 L112.9,124.1Z" fill="#6cc639"/><path d="M129.6,125.5 L135.8,120.1 L130.5,116.5 L124.3,121.8Z" fill="#76c936"/><path d="M141.1,124.2 L147.3,119.0 L142.0,114.9 L135.8,120.1Z" fill="#7fcb35"/><path d="M152.7,123.4 L158.9,118.4 L153.6,113.9 L147.3,119.0Z" fill="#86cd34"/><path d="M164.2,123.3 L170.5,118.4 L165.2,113.5 L158.9,118.4Z" fill="#8ace34"/><path d="M175.8,123.7 L182.1,119.0 L176.8,113.7 L170.5,118.4Z" fill="#89cd34"/><path d="M187.4,124.8 L193.7,120.2 L188.4,114.4 L182.1,119.0Z" fill="#84cc34"/><path d="M199.1,126.4 L205.4,121.9 L200.1,115.7 L193.7,120.2Z" fill="#7dca35"/><path d="M210.7,128.6 L217.0,124.2 L211.7,117.6 L205.4,121.9Z" fill="#72c837"/><path d="M222.3,131.4 L228.6,127.1 L223.4,120.0 L217.0,124.2Z" fill="#6bc63c"/><path d="M233.9,134.7 L240.2,130.5 L235.0,123.0 L228.6,127.1Z" fill="#69c647"/><path d="M100.7,135.8 L106.8,129.9 L101.5,127.0 L95.4,132.9Z" fill="#66c651"/><path d="M112.0,133.2 L118.2,127.4 L112.9,124.1 L106.8,129.9Z" fill="#69c647"/><path d="M123.5,131.1 L129.6,125.5 L124.3,121.8 L118.2,127.4Z" fill="#6ac63f"/><path d="M134.9,129.6 L141.1,124.2 L135.8,120.1 L129.6,125.5Z" fill="#6cc638"/><path d="M146.4,128.7 L152.7,123.4 L147.3,119.0 L141.1,124.2Z" fill="#73c837"/><path d="M158.0,128.4 L164.2,123.3 L158.9,118.4 L152.7,123.4Z" fill="#76c936"/><path d="M169.5,128.7 L175.8,123.7 L170.5,118.4 L164.2,123.3Z" fill="#77c936"/><path d="M181.1,129.6 L187.4,124.8 L182.1,119.0 L175.8,123.7Z" fill="#74c837"/><path d="M192.7,131.0 L199.1,126.4 L193.7,120.2 L187.4,124.8Z" fill="#6ec638"/><path d="M204.3,133.1 L210.7,128.6 L205.4,121.9 L199.1,126.4Z" fill="#6bc63d"/><path d="M215.9,135.8 L222.3,131.4 L217.0,124.2 L210.7,128.6Z" fill="#69c645"/><path d="M227.5,139.1 L233.9,134.7 L228.6,127.1 L222.3,131.4Z" fill="#67c64f"/><path d="M105.9,139.1 L112.0,133.2 L106.8,129.9 L100.7,135.8Z" fill="#65c657"/><path d="M117.3,136.9 L123.5,131.1 L118.2,127.4 L112.0,133.2Z" fill="#67c64c"/><path d="M128.8,135.2 L134.9,129.6 L129.6,125.5 L123.5,131.1Z" fill="#69c645"/><path d="M140.2,134.1 L146.4,128.7 L141.1,124.2 L134.9,129.6Z" fill="#6ac640"/><path d="M151.7,133.6 L158.0,128.4 L152.7,123.4 L146.4,128.7Z" fill="#6bc63d"/><path d="M163.3,133.8 L169.5,128.7 L164.2,123.3 L158.0,128.4Z" fill="#6bc63c"/><path d="M174.9,134.5 L181.1,129.6 L175.8,123.7 L169.5,128.7Z" fill="#6bc63e"/><path d="M186.4,135.8 L192.7,131.0 L187.4,124.8 L181.1,129.6Z" fill="#6ac641"/><path d="M198.0,137.8 L204.3,133.1 L199.1,126.4 L192.7,131.0Z" fill="#69c646"/><path d="M209.6,140.4 L215.9,135.8 L210.7,128.6 L204.3,133.1Z" fill="#67c64e"/><path d="M221.2,143.5 L227.5,139.1 L222.3,131.4 L215.9,135.8Z" fill="#65c65b"/><path d="M111.2,142.8 L117.3,136.9 L112.0,133.2 L105.9,139.1Z" fill="#65c760"/><path d="M122.6,141.0 L128.8,135.2 L123.5,131.1 L117.3,136.9Z" fill="#66c653"/><path d="M134.0,139.7 L140.2,134.1 L134.9,129.6 L128.8,135.2Z" fill="#67c64d"/><path d="M145.5,139.1 L151.7,133.6 L146.4,128.7 L140.2,134.1Z" fill="#68c649"/><path d="M157.0,139.0 L163.3,133.8 L158.0,128.4 L151.7,133.6Z" fill="#68c648"/><path d="M168.6,139.6 L174.9,134.5 L169.5,128.7 L163.3,133.8Z" fill="#68c649"/><path d="M180.1,140.8 L186.4,135.8 L181.1,129.6 L174.9,134.5Z" fill="#68c64b"/><path d="M191.7,142.6 L198.0,137.8 L192.7,131.0 L186.4,135.8Z" fill="#66c650"/><path d="M203.3,145.1 L209.6,140.4 L204.3,133.1 L198.0,137.8Z" fill="#65c65b"/><path d="M214.8,148.1 L221.2,143.5 L215.9,135.8 L209.6,140.4Z" fill="#63c76a"/><path d="M116.5,147.0 L122.6,141.0 L117.3,136.9 L111.2,142.8Z" fill="#63c76b"/><path d="M127.9,145.5 L134.0,139.7 L128.8,135.2 L122.6,141.0Z" fill="#65c760"/><path d="M139.3,144.7 L145.5,139.1 L140.2,134.1 L134.0,139.7Z" fill="#65c659"/><path d="M150.8,144.5 L157.0,139.0 L151.7,133.6 L145.5,139.1Z" fill="#66c655"/><path d="M162.3,144.9 L168.6,139.6 L163.3,133.8 L157.0,139.0Z" fill="#66c655"/><path d="M173.9,145.9 L180.1,140.8 L174.9,134.5 L168.6,139.6Z" fill="#65c659"/><path d="M185.4,147.6 L191.7,142.6 L186.4,135.8 L180.1,140.8Z" fill="#64c760"/><path d="M197.0,149.9 L203.3,145.1 L198.0,137.8 L191.7,142.6Z" fill="#63c76b"/><path d="M208.5,152.8 L214.8,148.1 L209.6,140.4 L203.3,145.1Z" fill="#62c87a"/><path d="M121.7,151.5 L127.9,145.5 L122.6,141.0 L116.5,147.0Z" fill="#62c877"/><path d="M133.1,150.5 L139.3,144.7 L134.0,139.7 L127.9,145.5Z" fill="#63c86f"/><path d="M144.6,150.1 L150.8,144.5 L145.5,139.1 L139.3,144.7Z" fill="#63c76a"/><path d="M156.1,150.3 L162.3,144.9 L157.0,139.0 L150.8,144.5Z" fill="#64c76a"/><path d="M167.6,151.2 L173.9,145.9 L168.6,139.6 L162.3,144.9Z" fill="#63c76c"/><path d="M179.1,152.7 L185.4,147.6 L180.1,140.8 L173.9,145.9Z" fill="#63c873"/><path d="M190.7,154.9 L197.0,149.9 L191.7,142.6 L185.4,147.6Z" fill="#62c97c"/><path d="M202.2,157.7 L208.5,152.8 L203.3,145.1 L197.0,149.9Z" fill="#62ca89"/><path d="M127.0,156.5 L133.1,150.5 L127.9,145.5 L121.7,151.5Z" fill="#62ca85"/><path d="M138.4,155.9 L144.6,150.1 L139.3,144.7 L133.1,150.5Z" fill="#62c980"/><path d="M149.9,156.0 L156.1,150.3 L150.8,144.5 L144.6,150.1Z" fill="#62c97e"/><path d="M161.4,156.7 L167.6,151.2 L162.3,144.9 L156.1,150.3Z" fill="#62c980"/><path d="M172.9,158.0 L179.1,152.7 L173.9,145.9 L167.6,151.2Z" fill="#62ca85"/><path d="M184.4,160.0 L190.7,154.9 L185.4,147.6 L179.1,152.7Z" fill="#62cb8d"/><path d="M195.9,162.7 L202.2,157.7 L197.0,149.9 L190.7,154.9Z" fill="#62cc99"/><path d="M132.3,161.9 L138.4,155.9 L133.1,150.5 L127.0,156.5Z" fill="#62cc95"/><path d="M143.7,161.8 L149.9,156.0 L144.6,150.1 L138.4,155.9Z" fill="#62cb92"/><path d="M155.2,162.3 L161.4,156.7 L156.1,150.3 L149.9,156.0Z" fill="#62cb93"/><path d="M166.6,163.5 L172.9,158.0 L167.6,151.2 L161.4,156.7Z" fill="#62cc97"/><path d="M178.1,165.3 L184.4,160.0 L179.1,152.7 L172.9,158.0Z" fill="#62cc9d"/><path d="M189.6,167.8 L195.9,162.7 L190.7,154.9 L184.4,160.0Z" fill="#62cda7"/><path d="M137.5,167.7 L143.7,161.8 L138.4,155.9 L132.3,161.9Z" fill="#62cca5"/><path d="M149.0,168.1 L155.2,162.3 L149.9,156.0 L143.7,161.8Z" fill="#62cca5"/><path d="M160.4,169.1 L166.6,163.5 L161.4,156.7 L155.2,162.3Z" fill="#62cda7"/><path d="M171.9,170.7 L178.1,165.3 L172.9,158.0 L166.6,163.5Z" fill="#62cdad"/><path d="M183.4,173.1 L189.6,167.8 L184.4,160.0 L178.1,165.3Z" fill="#63cdb7"/><path d="M142.8,174.0 L149.0,168.1 L143.7,161.8 L137.5,167.7Z" fill="#63ccb9"/><path d="M154.2,174.8 L160.4,169.1 L155.2,162.3 L149.0,168.1Z" fill="#63ccbb"/><path d="M165.7,176.3 L171.9,170.7 L166.6,163.5 L160.4,169.1Z" fill="#65cbc4"/><path d="M177.1,178.5 L183.4,173.1 L178.1,165.3 L171.9,170.7Z" fill="#67c9d1"/><path d="M148.0,180.8 L154.2,174.8 L149.0,168.1 L142.8,174.0Z" fill="#67c6d9"/><path d="M159.5,182.1 L165.7,176.3 L160.4,169.1 L154.2,174.8Z" fill="#64bfde"/><path d="M170.9,184.1 L177.1,178.5 L171.9,170.7 L165.7,176.3Z" fill="#5eb2e7"/><path d="M153.3,188.0 L159.5,182.1 L154.2,174.8 L148.0,180.8Z" fill="#589de9"/><path d="M164.7,189.8 L170.9,184.1 L165.7,176.3 L159.5,182.1Z" fill="#558fe2"/><path d="M158.5,195.6 L164.7,189.8 L159.5,182.1 L153.3,188.0Z" fill="#4e6fd2"/></g>
<text transform="translate(50.8 166.0) scale(1 1.10)" font-size="15.6" text-anchor="end">40</text>
<text transform="translate(49.9 142.9) scale(1 1.10)" font-size="15.6" text-anchor="end">48</text>
<text transform="translate(49.0 119.7) scale(1 1.10)" font-size="15.6" text-anchor="end">56</text>
<text transform="translate(48.1 96.6) scale(1 1.10)" font-size="15.6" text-anchor="end">64</text>
<text transform="translate(47.2 73.4) scale(1 1.10)" font-size="15.6" text-anchor="end">72</text>
<text transform="translate(46.2 50.2) scale(1 1.10)" font-size="15.6" text-anchor="end">80</text>
<text transform="translate(169.7 260.4) scale(1 1.10)" font-size="15.6" text-anchor="middle">40</text>
<text transform="translate(199.5 250.1) scale(1 1.10)" font-size="15.6" text-anchor="middle">45</text>
<text transform="translate(229.9 239.0) scale(1 1.10)" font-size="15.6" text-anchor="middle">50</text>
<text transform="translate(260.4 227.8) scale(1 1.10)" font-size="15.6" text-anchor="middle">55</text>
<text transform="translate(289.4 215.4) scale(1 1.10)" font-size="15.6" text-anchor="middle">60</text>
<text transform="translate(147.7 260.7) scale(1 1.10)" font-size="15.6" text-anchor="middle">0.9</text>
<text transform="translate(126.4 249.2) scale(1 1.10)" font-size="15.6" text-anchor="middle">1.0</text>
<text transform="translate(100.8 236.5) scale(1 1.10)" font-size="15.6" text-anchor="middle">1.1</text>
<text transform="translate(75.3 223.9) scale(1 1.10)" font-size="15.6" text-anchor="middle">1.2</text>
<text transform="translate(50.8 211.6) scale(1 1.10)" font-size="15.6" text-anchor="middle">1.3</text>
<text x="234.0" y="256.0" font-size="15.6" text-anchor="middle" transform="rotate(-20.3 234.0 256.0)">Shaping pressure/MPa</text>
<text x="86.0" y="254.0" font-size="15.6" text-anchor="middle" transform="rotate(29.0 86.0 254.0)">Ca/(Si+Al)</text>
<text x="26.0" y="120.5" font-size="16.1" text-anchor="middle" transform="rotate(-92.2 26.0 120.5)">Compressive strength/MPa</text>
<circle cx="53.3" cy="125.2" r="1.9" fill="#f9c3d0" stroke="#dc8fa6" stroke-width="0.6"/><circle cx="167.5" cy="85.4" r="2.4" fill="#a3161f" stroke="#7a0f15" stroke-width="0.5"/><circle cx="284.8" cy="106.0" r="2.4" fill="#a3161f" stroke="#7a0f15" stroke-width="0.5"/><circle cx="159.0" cy="197.3" r="1.9" fill="#f9c3d0" stroke="#dc8fa6" stroke-width="0.6"/>
<clipPath id="cp1"><rect x="369.5" y="30.0" width="235.0" height="231.2"/></clipPath>
<g clip-path="url(#cp1)">
<rect x="369.5" y="30.0" width="235.0" height="231.2" fill="#3b52b0"/>
<g transform="translate(695.60 101.34) rotate(178.82)">
<ellipse rx="417.5" ry="245.9" fill="#3c56b4"/>
<ellipse rx="414.5" ry="244.2" fill="#3c5ab8"/>
<ellipse rx="411.6" ry="242.5" fill="#3d5dbb"/>
<ellipse rx="408.6" ry="240.7" fill="#3d61bf"/>
<ellipse rx="405.6" ry="238.9" fill="#3e65c2"/>
<ellipse rx="402.6" ry="237.2" fill="#3e69c6"/>
<ellipse rx="399.5" ry="235.4" fill="#3f6dc9"/>
<ellipse rx="396.5" ry="233.5" fill="#4074cd"/>
<ellipse rx="393.4" ry="231.7" fill="#4281d3"/>
<ellipse rx="390.3" ry="229.9" fill="#448ed8"/>
<ellipse rx="387.1" ry="228.0" fill="#469bde"/>
<ellipse rx="383.9" ry="226.2" fill="#4ba6e2"/>
<ellipse rx="380.7" ry="224.3" fill="#50b0e4"/>
<ellipse rx="377.5" ry="222.4" fill="#56b9e4"/>
<ellipse rx="374.3" ry="220.5" fill="#60c1d9"/>
<ellipse rx="371.0" ry="218.5" fill="#69c8cd"/>
<ellipse rx="367.7" ry="216.6" fill="#6ecbc2"/>
<ellipse rx="364.4" ry="214.6" fill="#70ccb8"/>
<ellipse rx="361.0" ry="212.6" fill="#72cdae"/>
<ellipse rx="357.6" ry="210.6" fill="#71cba0"/>
<ellipse rx="354.2" ry="208.6" fill="#70c992"/>
<ellipse rx="350.7" ry="206.6" fill="#6fc785"/>
<ellipse rx="347.2" ry="204.5" fill="#6dc67a"/>
<ellipse rx="343.6" ry="202.4" fill="#6ac56f"/>
<ellipse rx="340.1" ry="200.3" fill="#68c464"/>
<ellipse rx="336.5" ry="198.2" fill="#66c359"/>
<ellipse rx="332.8" ry="196.1" fill="#64c24d"/>
<ellipse rx="329.1" ry="193.9" fill="#62c142"/>
<ellipse rx="325.4" ry="191.7" fill="#60c038"/>
<ellipse rx="321.6" ry="189.5" fill="#60c035"/>
<ellipse rx="317.8" ry="187.2" fill="#60bf31"/>
<ellipse rx="313.9" ry="184.9" fill="#60bf2e"/>
<ellipse rx="310.0" ry="182.6" fill="#60bf2c"/>
<ellipse rx="306.0" ry="180.3" fill="#62c02c"/>
<ellipse rx="302.0" ry="177.9" fill="#63c02c"/>
<ellipse rx="298.0" ry="175.5" fill="#64c02b"/>
<ellipse rx="293.8" ry="173.1" fill="#65c12b"/>
<ellipse rx="289.6" ry="170.6" fill="#67c12b"/>
<ellipse rx="285.4" ry="168.1" fill="#6cc32b"/>
<ellipse rx="281.1" ry="165.6" fill="#71c42b"/>
<ellipse rx="276.7" ry="163.0" fill="#76c52b"/>
<ellipse rx="272.2" ry="160.4" fill="#7fc82b"/>
<ellipse rx="267.7" ry="157.7" fill="#8bcc2c"/>
<ellipse rx="263.1" ry="155.0" fill="#97cf2d"/>
<ellipse rx="258.4" ry="152.2" fill="#a4d32d"/>
<ellipse rx="253.7" ry="149.4" fill="#b0d62e"/>
<ellipse rx="248.8" ry="146.6" fill="#bcd92e"/>
<ellipse rx="243.8" ry="143.6" fill="#c8dc2f"/>
<ellipse rx="238.8" ry="140.7" fill="#d0de2f"/>
<ellipse rx="233.6" ry="137.6" fill="#d8e030"/>
<ellipse rx="228.3" ry="134.5" fill="#e4e12e"/>
<ellipse rx="222.9" ry="131.3" fill="#f1db2a"/>
<ellipse rx="217.4" ry="128.0" fill="#f5c822"/>
<ellipse rx="211.7" ry="124.7" fill="#f6b821"/>
<ellipse rx="205.8" ry="121.2" fill="#f6a71f"/>
<ellipse rx="199.8" ry="117.7" fill="#f7961e"/>
<ellipse rx="193.6" ry="114.0" fill="#f6881f"/>
<ellipse rx="187.2" ry="110.2" fill="#f57d20"/>
<ellipse rx="180.5" ry="106.3" fill="#f37022"/>
<ellipse rx="173.6" ry="102.3" fill="#f15c24"/>
<ellipse rx="166.4" ry="98.0" fill="#f05024"/>
<ellipse rx="158.9" ry="93.6" fill="#f04524"/>
<ellipse rx="151.0" ry="89.0" fill="#ef3a25"/>
<ellipse rx="142.7" ry="84.1" fill="#ee3126"/>
<ellipse rx="133.9" ry="78.9" fill="#ee2a26"/>
<ellipse rx="124.4" ry="73.3" fill="#ed2427"/>
<ellipse rx="114.2" ry="67.3" fill="#ed2427"/>
<ellipse rx="102.9" ry="60.6" fill="#ed2327"/>
<ellipse rx="90.3" ry="53.2" fill="#ed2327"/>
<ellipse rx="75.6" ry="44.5" fill="#ed2227"/>
<ellipse rx="57.1" ry="33.7" fill="#ed2227"/>
<ellipse rx="28.7" ry="16.9" fill="#ec2227"/>
<g fill="none" stroke="#1f3a2a" stroke-opacity="0.7" stroke-width="0.75">
<ellipse rx="395.4" ry="232.9"/>
<ellipse rx="367.7" ry="216.6"/>
<ellipse rx="337.7" ry="198.9"/>
<ellipse rx="304.7" ry="179.5"/>
<ellipse rx="267.7" ry="157.7"/>
<ellipse rx="224.7" ry="132.4"/>
<ellipse rx="171.2" ry="100.9"/>
</g></g></g>
<text x="536.0" y="71.4" font-size="15.6" text-anchor="middle">70</text>
<text x="443.0" y="160.4" font-size="15.6" text-anchor="middle">62</text>
<text x="407.0" y="211.4" font-size="15.6" text-anchor="middle">54</text>
<text x="470.5" y="230.4" font-size="15.6" text-anchor="middle">58</text>
<text x="566.0" y="216.4" font-size="15.6" text-anchor="middle">66</text>
<text x="384.0" y="252.4" font-size="15.6" text-anchor="middle">47</text>
<text x="423.0" y="252.4" font-size="15.6" text-anchor="middle">50</text>
<rect x="369.5" y="30.0" width="235.0" height="231.2" fill="none" stroke="#1a1a1a" stroke-width="1.2"/>
<text x="369.5" y="276.9" font-size="15.6" text-anchor="middle">40</text>
<text x="487.0" y="276.9" font-size="15.6" text-anchor="middle">50</text>
<text x="604.5" y="276.9" font-size="15.6" text-anchor="middle">60</text>
<text x="364.5" y="265.9" font-size="15.6" text-anchor="end">0.9</text>
<text x="364.5" y="208.1" font-size="15.6" text-anchor="end">1.0</text>
<text x="364.5" y="150.3" font-size="15.6" text-anchor="end">1.1</text>
<text x="364.5" y="92.5" font-size="15.6" text-anchor="end">1.2</text>
<text x="364.5" y="34.7" font-size="15.6" text-anchor="end">1.3</text>
<path d="M487.0,261.2 v-5 M369.5,203.4 h5 M369.5,145.6 h5 M369.5,87.8 h5" stroke="#1a1a1a" stroke-width="1.2" fill="none"/>
<text x="481.2" y="21.0" font-size="15.6" text-anchor="middle">Compressive strength/MPa</text>
<text x="485.4" y="297.7" font-size="15.6" text-anchor="middle">Shaping pressure/MPa</text>
<text x="336.0" y="145.6" font-size="15.6" text-anchor="middle" transform="rotate(-90.0 336.0 145.6)">Ca/(Si+Al)</text>
<path d="M61.4,572.7 L173.1,621.3 L292.3,574.5 L179.3,536.0 L61.4,572.7" fill="#595a5e" stroke="none"/>
<path d="M194.1,612.8 L190.9,613.0 L187.7,613.1 L184.5,613.2 L181.4,613.3 L178.3,613.4 L175.2,613.4 L172.1,613.5 L169.1,613.5 L166.1,613.4 L163.1,613.4 L160.2,613.3 L157.3,613.2 L154.4,613.1" fill="none" stroke="#3fb3a8" stroke-width="1.5"/>
<path d="M219.5,602.6 L216.5,602.8 L213.6,603.0 L210.7,603.3 L207.8,603.5 L204.9,603.6 L202.1,603.8 L199.3,603.9 L196.4,604.0 L193.7,604.1 L190.9,604.2 L188.2,604.3 L185.5,604.3 L182.8,604.3 L180.1,604.3 L177.5,604.3 L174.9,604.2 L172.3,604.2 L169.8,604.1 L167.3,604.0 L164.8,603.8 L162.3,603.7 L159.9,603.5 L157.5,603.3 L155.2,603.1 L152.8,602.9 L150.5,602.7 L148.3,602.4 L146.1,602.2 L143.9,601.9 L141.7,601.6 L139.6,601.2 L137.5,600.9 L135.5,600.5 L133.5,600.1 L131.5,599.7 L129.6,599.3 L127.7,598.9 L125.9,598.5 L124.0,598.0 L122.3,597.5 L120.6,597.0 L118.9,596.5 L117.2,596.0 L115.6,595.5 L114.1,594.9 L112.6,594.3 L111.1,593.8 L109.7,593.2 L108.3,592.6 L106.9,592.0 L105.6,591.3 L104.4,590.7 L104.4,590.7 L103.2,590.0 L102.0,589.4 L100.9,588.7 L99.8,588.0 L98.8,587.3 L97.8,586.6 L96.9,585.9 L96.0,585.1 L95.2,584.4 L94.4,583.6 L93.7,582.9 L93.0,582.1 L92.3,581.3 L91.7,580.5 L91.2,579.7 L90.7,578.9 L90.2,578.1 L89.8,577.3 L89.5,576.5 L89.2,575.7 L88.9,574.8 L88.7,574.0 L88.5,573.2 L88.4,572.3 L88.4,571.4 L88.3,570.6 L88.4,569.7 L88.5,568.8 L88.6,568.0 L88.8,567.1 L89.0,566.2 L89.3,565.3 L89.6,564.4" fill="none" stroke="#52b848" stroke-width="1.5"/>
<path d="M249.8,590.6 L247.2,590.9 L244.5,591.3 L241.9,591.6 L239.3,591.9 L236.8,592.2 L234.2,592.4 L231.6,592.7 L229.1,592.9 L226.6,593.2 L224.0,593.4 L221.5,593.6 L219.1,593.7 L216.6,593.9 L214.1,594.0 L211.7,594.2 L209.3,594.3 L206.9,594.4 L204.5,594.4 L202.2,594.5 L199.9,594.5 L197.6,594.5 L195.3,594.5 L193.0,594.5 L190.8,594.5 L188.6,594.5 L186.4,594.4 L184.2,594.3 L182.1,594.2 L180.0,594.1 L177.9,594.0 L175.8,593.9 L173.8,593.7 L171.8,593.5 L169.9,593.4 L167.9,593.2 L166.0,592.9 L164.1,592.7 L162.3,592.5 L160.5,592.2 L158.7,591.9 L156.9,591.6 L155.2,591.3 L153.5,591.0 L151.8,590.7 L150.2,590.3 L148.6,590.0 L147.1,589.6 L145.5,589.2 L144.1,588.8 L142.6,588.4 L141.2,588.0 L139.8,587.5 L138.5,587.1 L137.2,586.6 L135.9,586.1 L134.7,585.6 L133.5,585.1 L132.3,584.6 L131.2,584.1 L130.1,583.6 L130.1,583.6 L129.1,583.0 L128.1,582.5 L127.1,581.9 L126.2,581.4 L125.3,580.8 L124.5,580.2 L123.7,579.6 L122.9,579.0 L122.2,578.4 L121.5,577.7 L120.9,577.1 L120.3,576.5 L119.8,575.8 L119.2,575.1 L118.8,574.5 L118.3,573.8 L117.9,573.1 L117.6,572.4 L117.3,571.8 L117.0,571.1 L116.8,570.4 L116.6,569.6 L116.5,568.9 L116.4,568.2 L116.3,567.5 L116.3,566.8 L116.3,566.0 L116.4,565.3 L116.5,564.6 L116.7,563.8 L116.9,563.1 L117.1,562.3 L117.4,561.6 L117.7,560.8 L118.1,560.0 L118.5,559.3 L118.9,558.5 L119.4,557.7 L119.9,557.0 L120.5,556.2 L121.1,555.4 L121.8,554.7 L122.5,553.9" fill="none" stroke="#74bb33" stroke-width="1.5"/>
<path d="M289.5,573.9 L287.3,574.3 L285.2,574.8 L283.0,575.2 L280.9,575.6 L278.7,576.0 L276.6,576.4 L274.4,576.8 L272.3,577.2 L270.1,577.6 L268.0,577.9 L265.9,578.2 L263.7,578.6 L261.6,578.9 L259.5,579.2 L257.4,579.5 L255.3,579.8 L253.2,580.0 L251.1,580.3 L249.0,580.5 L247.0,580.8 L244.9,581.0 L242.9,581.2 L240.9,581.4 L238.8,581.6 L236.8,581.8 L234.8,581.9 L232.9,582.1 L230.9,582.2 L228.9,582.3 L227.0,582.4 L225.1,582.5 L223.2,582.6 L221.3,582.7 L219.4,582.7 L217.5,582.8 L215.7,582.8 L213.9,582.8 L212.1,582.8 L210.3,582.8 L208.5,582.8 L206.8,582.7 L205.0,582.7 L203.3,582.6 L201.7,582.6 L200.0,582.5 L198.4,582.4 L196.7,582.3 L195.1,582.2 L193.6,582.0 L192.0,581.9 L190.5,581.7 L189.0,581.6 L187.5,581.4 L186.0,581.2 L184.6,581.0 L183.2,580.8 L181.8,580.6 L180.5,580.3 L179.2,580.1 L177.9,579.8 L176.6,579.6 L175.3,579.3 L174.1,579.0 L172.9,578.7 L171.8,578.4 L170.7,578.1 L169.5,577.7 L168.5,577.4 L167.4,577.0 L166.4,576.7 L165.4,576.3 L164.5,575.9 L163.6,575.6 L162.7,575.2 L161.8,574.8 L161.8,574.8 L161.0,574.3 L160.2,573.9 L159.4,573.5 L158.7,573.1 L158.0,572.6 L157.3,572.2 L156.6,571.7 L156.0,571.2 L155.5,570.8 L154.9,570.3 L154.4,569.8 L153.9,569.3 L153.5,568.8 L153.1,568.3 L152.7,567.8 L152.3,567.3 L152.0,566.7 L151.8,566.2 L151.5,565.7 L151.3,565.1 L151.1,564.6 L151.0,564.0 L150.9,563.5 L150.8,562.9 L150.7,562.3 L150.7,561.8 L150.7,561.2 L150.8,560.6 L150.9,560.0 L151.0,559.4 L151.2,558.9 L151.3,558.3 L151.6,557.7 L151.8,557.1 L152.1,556.5 L152.4,555.9 L152.8,555.3 L153.2,554.6 L153.6,554.0 L154.1,553.4 L154.5,552.8 L155.1,552.2 L155.6,551.6 L156.2,551.0 L156.8,550.3 L157.5,549.7 L158.1,549.1 L158.9,548.5 L159.6,547.9 L160.4,547.2 L161.2,546.6 L162.0,546.0 L162.9,545.4 L163.8,544.7 L164.7,544.1 L165.7,543.5 L166.7,542.9 L167.7,542.2 L168.7,541.6 L169.8,541.0 L170.9,540.4 L172.1,539.8 L173.2,539.2 L174.4,538.5 L175.6,537.9 L176.9,537.3 L178.1,536.7 L179.4,536.1" fill="none" stroke="#c9a227" stroke-width="1.5"/>
<path d="M265.7,565.8 L264.3,566.0 L262.9,566.2 L261.5,566.3 L260.2,566.5 L258.8,566.6 L257.4,566.8 L256.0,566.9 L254.7,567.0 L253.3,567.2 L252.0,567.3 L250.7,567.4 L249.3,567.5 L248.0,567.6 L246.7,567.6 L245.4,567.7 L244.1,567.8 L242.9,567.8 L241.6,567.9 L240.3,567.9 L239.1,567.9 L237.9,568.0 L236.7,568.0 L235.5,568.0 L234.3,568.0 L233.1,568.0 L231.9,567.9 L230.8,567.9 L229.6,567.9 L228.5,567.8 L227.4,567.8 L226.3,567.7 L225.3,567.7 L224.2,567.6 L223.1,567.5 L222.1,567.4 L221.1,567.3 L220.1,567.2 L219.1,567.1 L218.2,567.0 L217.2,566.9 L216.3,566.7 L215.4,566.6 L214.5,566.4 L213.6,566.3 L212.8,566.1 L211.9,566.0 L211.1,565.8 L210.3,565.6 L209.5,565.4 L208.7,565.2 L208.0,565.0 L207.3,564.8 L206.6,564.6 L205.9,564.4 L205.2,564.1 L204.6,563.9 L204.0,563.7 L203.4,563.4 L202.8,563.2 L202.8,563.2 L202.2,562.9 L201.7,562.6 L201.2,562.4 L200.7,562.1 L200.2,561.8 L199.7,561.5 L199.3,561.2 L198.9,560.9 L198.5,560.6 L198.1,560.3 L197.8,560.0 L197.5,559.7 L197.1,559.4 L196.9,559.0 L196.6,558.7 L196.4,558.4 L196.2,558.0 L196.0,557.7 L195.8,557.3 L195.7,557.0 L195.5,556.6 L195.4,556.3 L195.4,555.9 L195.3,555.5 L195.3,555.2 L195.3,554.8 L195.3,554.4 L195.3,554.0 L195.4,553.7 L195.5,553.3 L195.6,552.9 L195.7,552.5 L195.8,552.1 L196.0,551.7 L196.2,551.3 L196.4,550.9 L196.7,550.5 L196.9,550.1 L197.2,549.7 L197.5,549.3 L197.8,548.8 L198.2,548.4 L198.6,548.0 L198.9,547.6 L199.4,547.2 L199.8,546.8 L200.3,546.3 L200.7,545.9 L201.2,545.5 L201.8,545.1 L202.3,544.7 L202.9,544.2" fill="none" stroke="#cf2f33" stroke-width="1.5"/>
<g stroke="#666" stroke-width="0.7"><path d="M60.1,533.7 L179.3,501.3 L293.7,535.4" fill="none"/><path d="M59.2,509.3 L179.4,479.6 L294.6,510.9" fill="none"/><path d="M58.4,484.8 L179.4,457.8 L295.5,486.4" fill="none"/><path d="M57.6,460.3 L179.4,436.1 L296.4,461.9" fill="none"/><path d="M56.7,435.9 L179.5,414.3 L297.3,437.4" fill="none"/><path d="M55.9,411.4 L179.5,392.6 L298.2,412.9" fill="none"/><path d="M119.7,517.5 L117.7,402.0" fill="none"/><path d="M236.5,518.4 L238.8,402.8" fill="none"/><path d="M179.3,501.3 L179.5,392.6" fill="none"/></g>
<g stroke="#151515" stroke-width="1.15" stroke-linejoin="miter"><path d="M61.4,572.7 L55.9,411.4 L179.5,392.6 L298.2,412.9 L292.3,574.5" fill="none"/><path d="M61.4,572.7 L173.1,621.3 L292.3,574.5" fill="none"/><path d="M60.1,533.7 L63.6,532.7" fill="none"/><path d="M59.2,509.3 L62.8,508.4" fill="none"/><path d="M58.4,484.8 L62.0,484.0" fill="none"/><path d="M57.6,460.3 L61.2,459.6" fill="none"/><path d="M56.7,435.9 L60.4,435.2" fill="none"/><path d="M55.9,411.4 L59.6,410.8" fill="none"/><path d="M232.7,597.9 L228.8,596.4" fill="none"/><path d="M117.2,597.0 L121.4,595.5" fill="none"/></g>
<circle cx="178.7" cy="431.0" r="2.4" fill="#a3161f" stroke="#7a0f15" stroke-width="0.5"/>
<g stroke="#1a2a1a" stroke-opacity="0.68" stroke-width="0.62" stroke-linejoin="round"><path d="M179.2,431.7 L185.3,429.6 L179.4,432.2 L173.3,434.2Z" fill="#f6aa26"/><path d="M173.1,433.9 L179.2,431.7 L173.3,434.2 L167.2,436.4Z" fill="#f6b627"/><path d="M185.1,429.5 L191.2,427.4 L185.3,429.6 L179.2,431.7Z" fill="#f48324"/><path d="M167.0,436.2 L173.1,433.9 L167.2,436.4 L161.2,438.7Z" fill="#f6c329"/><path d="M179.0,431.8 L185.1,429.5 L179.2,431.7 L173.1,433.9Z" fill="#f58d24"/><path d="M191.0,427.7 L197.1,425.6 L191.2,427.4 L185.1,429.5Z" fill="#f15f27"/><path d="M160.9,438.7 L167.0,436.2 L161.2,438.7 L155.1,441.2Z" fill="#f5ce2d"/><path d="M172.8,434.2 L179.0,431.8 L173.1,433.9 L167.0,436.2Z" fill="#f69924"/><path d="M184.8,430.0 L191.0,427.7 L185.1,429.5 L179.0,431.8Z" fill="#f26a26"/><path d="M196.8,426.4 L203.0,424.2 L197.1,425.6 L191.0,427.7Z" fill="#ed442f"/><path d="M154.8,441.4 L160.9,438.7 L155.1,441.2 L149.0,443.8Z" fill="#f3d931"/><path d="M166.7,436.7 L172.8,434.2 L167.0,436.2 L160.9,438.7Z" fill="#f6a625"/><path d="M178.7,432.4 L184.8,430.0 L179.0,431.8 L172.8,434.2Z" fill="#f47724"/><path d="M190.7,428.7 L196.8,426.4 L191.0,427.7 L184.8,430.0Z" fill="#ef4d2b"/><path d="M202.7,425.3 L208.9,423.1 L203.0,424.2 L196.8,426.4Z" fill="#ea353a"/><path d="M148.7,444.2 L154.8,441.4 L149.0,443.8 L142.9,446.6Z" fill="#f0e636"/><path d="M160.6,439.4 L166.7,436.7 L160.9,438.7 L154.8,441.4Z" fill="#f6b727"/><path d="M172.6,435.0 L178.7,432.4 L172.8,434.2 L166.7,436.7Z" fill="#f58524"/><path d="M184.6,431.1 L190.7,428.7 L184.8,430.0 L178.7,432.4Z" fill="#f05728"/><path d="M196.6,427.7 L202.7,425.3 L196.8,426.4 L190.7,428.7Z" fill="#eb3a34"/><path d="M208.6,424.7 L214.8,422.5 L208.9,423.1 L202.7,425.3Z" fill="#e72f42"/><path d="M142.6,447.2 L148.7,444.2 L142.9,446.6 L136.8,449.5Z" fill="#e4e437"/><path d="M154.5,442.2 L160.6,439.4 L154.8,441.4 L148.7,444.2Z" fill="#f6c92a"/><path d="M166.5,437.7 L172.6,435.0 L166.7,436.7 L160.6,439.4Z" fill="#f59324"/><path d="M178.4,433.7 L184.6,431.1 L178.7,432.4 L172.6,435.0Z" fill="#f26626"/><path d="M190.4,430.2 L196.6,427.7 L190.7,428.7 L184.6,431.1Z" fill="#ed422f"/><path d="M202.5,427.1 L208.6,424.7 L202.7,425.3 L196.6,427.7Z" fill="#e9323e"/><path d="M214.5,424.5 L220.7,422.2 L214.8,422.5 L208.6,424.7Z" fill="#e62e48"/><path d="M136.6,450.3 L142.6,447.2 L136.8,449.5 L130.8,452.6Z" fill="#d7e138"/><path d="M148.4,445.2 L154.5,442.2 L148.7,444.2 L142.6,447.2Z" fill="#f3d630"/><path d="M160.3,440.6 L166.5,437.7 L160.6,439.4 L154.5,442.2Z" fill="#f6a425"/><path d="M172.3,436.5 L178.4,433.7 L172.6,435.0 L166.5,437.7Z" fill="#f47724"/><path d="M184.3,432.9 L190.4,430.2 L184.6,431.1 L178.4,433.7Z" fill="#ef4e2b"/><path d="M196.3,429.7 L202.5,427.1 L196.6,427.7 L190.4,430.2Z" fill="#ea3738"/><path d="M208.4,427.0 L214.5,424.5 L208.6,424.7 L202.5,427.1Z" fill="#e72f44"/><path d="M220.4,424.7 L226.6,422.4 L220.7,422.2 L214.5,424.5Z" fill="#e62e4c"/><path d="M130.5,453.6 L136.6,450.3 L130.8,452.6 L124.7,455.8Z" fill="#c6de38"/><path d="M142.3,448.4 L148.4,445.2 L142.6,447.2 L136.6,450.3Z" fill="#f0e536"/><path d="M154.2,443.7 L160.3,440.6 L154.5,442.2 L148.4,445.2Z" fill="#f6b828"/><path d="M166.2,439.4 L172.3,436.5 L166.5,437.7 L160.3,440.6Z" fill="#f58724"/><path d="M178.2,435.7 L184.3,432.9 L178.4,433.7 L172.3,436.5Z" fill="#f15c27"/><path d="M190.2,432.4 L196.3,429.7 L190.4,430.2 L184.3,432.9Z" fill="#ec3d31"/><path d="M202.2,429.6 L208.4,427.0 L202.5,427.1 L196.3,429.7Z" fill="#e83040"/><path d="M214.3,427.2 L220.4,424.7 L214.5,424.5 L208.4,427.0Z" fill="#e62e48"/><path d="M226.3,425.4 L232.5,423.0 L226.6,422.4 L220.4,424.7Z" fill="#e52d4e"/><path d="M124.4,457.0 L130.5,453.6 L124.7,455.8 L118.7,459.2Z" fill="#b3d937"/><path d="M136.3,451.7 L142.3,448.4 L136.6,450.3 L130.5,453.6Z" fill="#e2e337"/><path d="M148.1,446.9 L154.2,443.7 L148.4,445.2 L142.3,448.4Z" fill="#f5cc2b"/><path d="M160.1,442.5 L166.2,439.4 L160.3,440.6 L154.2,443.7Z" fill="#f69924"/><path d="M172.0,438.6 L178.2,435.7 L172.3,436.5 L166.2,439.4Z" fill="#f36f25"/><path d="M184.0,435.2 L190.2,432.4 L184.3,432.9 L178.2,435.7Z" fill="#ee4a2c"/><path d="M196.0,432.3 L202.2,429.6 L196.3,429.7 L190.2,432.4Z" fill="#ea3639"/><path d="M208.1,429.9 L214.3,427.2 L208.4,427.0 L202.2,429.6Z" fill="#e72f43"/><path d="M220.2,427.9 L226.3,425.4 L220.4,424.7 L214.3,427.2Z" fill="#e62e4a"/><path d="M232.2,426.4 L238.4,424.0 L232.5,423.0 L226.3,425.4Z" fill="#e52d4e"/><path d="M118.4,460.6 L124.4,457.0 L118.7,459.2 L112.7,462.8Z" fill="#9fd436"/><path d="M130.2,455.2 L136.3,451.7 L130.5,453.6 L124.4,457.0Z" fill="#d3e138"/><path d="M142.1,450.3 L148.1,446.9 L142.3,448.4 L136.3,451.7Z" fill="#f2dc32"/><path d="M154.0,445.8 L160.1,442.5 L154.2,443.7 L148.1,446.9Z" fill="#f6ae26"/><path d="M165.9,441.8 L172.0,438.6 L166.2,439.4 L160.1,442.5Z" fill="#f48224"/><path d="M177.9,438.3 L184.0,435.2 L178.2,435.7 L172.0,438.6Z" fill="#f15a27"/><path d="M189.9,435.2 L196.0,432.3 L190.2,432.4 L184.0,435.2Z" fill="#ec3e31"/><path d="M201.9,432.7 L208.1,429.9 L202.2,429.6 L196.0,432.3Z" fill="#e9323e"/><path d="M214.0,430.6 L220.2,427.9 L214.3,427.2 L208.1,429.9Z" fill="#e72f46"/><path d="M226.0,429.0 L232.2,426.4 L226.3,425.4 L220.2,427.9Z" fill="#e62e4b"/><path d="M238.1,427.9 L244.3,425.4 L238.4,424.0 L232.2,426.4Z" fill="#e52d4e"/><path d="M112.4,464.4 L118.4,460.6 L112.7,462.8 L106.6,466.5Z" fill="#8cce34"/><path d="M124.1,458.9 L130.2,455.2 L124.4,457.0 L118.4,460.6Z" fill="#bfdc37"/><path d="M136.0,453.8 L142.1,450.3 L136.3,451.7 L130.2,455.2Z" fill="#eae536"/><path d="M147.9,449.2 L154.0,445.8 L148.1,446.9 L142.1,450.3Z" fill="#f6c62a"/><path d="M159.8,445.1 L165.9,441.8 L160.1,442.5 L154.0,445.8Z" fill="#f59524"/><path d="M171.7,441.5 L177.9,438.3 L172.0,438.6 L165.9,441.8Z" fill="#f36e25"/><path d="M183.7,438.3 L189.9,435.2 L184.0,435.2 L177.9,438.3Z" fill="#ef4c2b"/><path d="M195.8,435.6 L201.9,432.7 L196.0,432.3 L189.9,435.2Z" fill="#eb3836"/><path d="M207.8,433.5 L214.0,430.6 L208.1,429.9 L201.9,432.7Z" fill="#e83041"/><path d="M219.9,431.8 L226.0,429.0 L220.2,427.9 L214.0,430.6Z" fill="#e72f47"/><path d="M231.9,430.6 L238.1,427.9 L232.2,426.4 L226.0,429.0Z" fill="#e62e4b"/><path d="M244.0,429.9 L250.2,427.3 L244.3,425.4 L238.1,427.9Z" fill="#e52d4d"/><path d="M106.3,468.3 L112.4,464.4 L106.6,466.5 L100.6,470.4Z" fill="#7bca35"/><path d="M118.1,462.7 L124.1,458.9 L118.4,460.6 L112.4,464.4Z" fill="#a9d636"/><path d="M129.9,457.5 L136.0,453.8 L130.2,455.2 L124.1,458.9Z" fill="#d9e237"/><path d="M141.8,452.8 L147.9,449.2 L142.1,450.3 L136.0,453.8Z" fill="#f3d830"/><path d="M153.7,448.6 L159.8,445.1 L154.0,445.8 L147.9,449.2Z" fill="#f6ab26"/><path d="M165.6,444.8 L171.7,441.5 L165.9,441.8 L159.8,445.1Z" fill="#f48224"/><path d="M177.6,441.5 L183.7,438.3 L177.9,438.3 L171.7,441.5Z" fill="#f15e27"/><path d="M189.6,438.8 L195.8,435.6 L189.9,435.2 L183.7,438.3Z" fill="#ed432f"/><path d="M201.6,436.5 L207.8,433.5 L201.9,432.7 L195.8,435.6Z" fill="#ea3639"/><path d="M213.7,434.7 L219.9,431.8 L214.0,430.6 L207.8,433.5Z" fill="#e83042"/><path d="M225.7,433.4 L231.9,430.6 L226.0,429.0 L219.9,431.8Z" fill="#e72f46"/><path d="M237.8,432.6 L244.0,429.9 L238.1,427.9 L231.9,430.6Z" fill="#e62e49"/><path d="M249.8,432.2 L256.1,429.6 L250.2,427.3 L244.0,429.9Z" fill="#e62e4a"/><path d="M100.3,472.5 L106.3,468.3 L100.6,470.4 L94.7,474.5Z" fill="#6dc638"/><path d="M112.1,466.7 L118.1,462.7 L112.4,464.4 L106.3,468.3Z" fill="#94d035"/><path d="M123.8,461.4 L129.9,457.5 L124.1,458.9 L118.1,462.7Z" fill="#c5dd37"/><path d="M135.7,456.5 L141.8,452.8 L136.0,453.8 L129.9,457.5Z" fill="#ece536"/><path d="M147.6,452.2 L153.7,448.6 L147.9,449.2 L141.8,452.8Z" fill="#f6c52a"/><path d="M159.5,448.3 L165.6,444.8 L159.8,445.1 L153.7,448.6Z" fill="#f69824"/><path d="M171.5,445.0 L177.6,441.5 L171.7,441.5 L165.6,444.8Z" fill="#f37325"/><path d="M183.4,442.1 L189.6,438.8 L183.7,438.3 L177.6,441.5Z" fill="#f05328"/><path d="M195.5,439.7 L201.6,436.5 L195.8,435.6 L189.6,438.8Z" fill="#ec3e31"/><path d="M207.5,437.8 L213.7,434.7 L207.8,433.5 L201.6,436.5Z" fill="#ea353a"/><path d="M219.5,436.4 L225.7,433.4 L219.9,431.8 L213.7,434.7Z" fill="#e83041"/><path d="M231.6,435.5 L237.8,432.6 L231.9,430.6 L225.7,433.4Z" fill="#e72f44"/><path d="M243.6,435.0 L249.8,432.2 L244.0,429.9 L237.8,432.6Z" fill="#e72f46"/><path d="M255.7,435.1 L261.9,432.4 L256.1,429.6 L249.8,432.2Z" fill="#e72f46"/><path d="M94.3,476.8 L100.3,472.5 L94.7,474.5 L88.7,478.7Z" fill="#6ac641"/><path d="M106.0,470.8 L112.1,466.7 L106.3,468.3 L100.3,472.5Z" fill="#80cb35"/><path d="M117.8,465.4 L123.8,461.4 L118.1,462.7 L112.1,466.7Z" fill="#add736"/><path d="M129.6,460.5 L135.7,456.5 L129.9,457.5 L123.8,461.4Z" fill="#dae237"/><path d="M141.5,456.0 L147.6,452.2 L141.8,452.8 L135.7,456.5Z" fill="#f3d931"/><path d="M153.4,452.0 L159.5,448.3 L153.7,448.6 L147.6,452.2Z" fill="#f6b026"/><path d="M165.3,448.5 L171.5,445.0 L165.6,444.8 L159.5,448.3Z" fill="#f58a24"/><path d="M177.3,445.5 L183.4,442.1 L177.6,441.5 L171.5,445.0Z" fill="#f26926"/><path d="M189.3,443.0 L195.5,439.7 L189.6,438.8 L183.4,442.1Z" fill="#ef4e2b"/><path d="M201.3,441.0 L207.5,437.8 L201.6,436.5 L195.5,439.7Z" fill="#ec3c32"/><path d="M213.4,439.5 L219.5,436.4 L213.7,434.7 L207.5,437.8Z" fill="#ea3639"/><path d="M225.4,438.5 L231.6,435.5 L225.7,433.4 L219.5,436.4Z" fill="#e8313f"/><path d="M237.4,438.0 L243.6,435.0 L237.8,432.6 L231.6,435.5Z" fill="#e83041"/><path d="M249.5,438.0 L255.7,435.1 L249.8,432.2 L243.6,435.0Z" fill="#e83041"/><path d="M261.5,438.4 L267.7,435.7 L261.9,432.4 L255.7,435.1Z" fill="#e83040"/><path d="M88.4,481.2 L94.3,476.8 L88.7,478.7 L82.7,483.2Z" fill="#68c64b"/><path d="M100.0,475.2 L106.0,470.8 L100.3,472.5 L94.3,476.8Z" fill="#70c737"/><path d="M111.8,469.6 L117.8,465.4 L112.1,466.7 L106.0,470.8Z" fill="#96d135"/><path d="M123.6,464.6 L129.6,460.5 L123.8,461.4 L117.8,465.4Z" fill="#c5dd37"/><path d="M135.4,460.0 L141.5,456.0 L135.7,456.5 L129.6,460.5Z" fill="#eae536"/><path d="M147.3,455.9 L153.4,452.0 L147.6,452.2 L141.5,456.0Z" fill="#f5cb2b"/><path d="M159.2,452.3 L165.3,448.5 L159.5,448.3 L153.4,452.0Z" fill="#f6a124"/><path d="M171.2,449.2 L177.3,445.5 L171.5,445.0 L165.3,448.5Z" fill="#f48024"/><path d="M183.1,446.6 L189.3,443.0 L183.4,442.1 L177.3,445.5Z" fill="#f26226"/><path d="M195.2,444.4 L201.3,441.0 L195.5,439.7 L189.3,443.0Z" fill="#ef4d2b"/><path d="M207.2,442.8 L213.4,439.5 L207.5,437.8 L201.3,441.0Z" fill="#ec3e31"/><path d="M219.2,441.7 L225.4,438.5 L219.5,436.4 L213.4,439.5Z" fill="#eb3836"/><path d="M231.2,441.1 L237.4,438.0 L231.6,435.5 L225.4,438.5Z" fill="#ea353a"/><path d="M243.3,441.0 L249.5,438.0 L243.6,435.0 L237.4,438.0Z" fill="#ea353a"/><path d="M255.3,441.3 L261.5,438.4 L255.7,435.1 L249.5,438.0Z" fill="#ea3639"/><path d="M267.3,442.2 L273.5,439.4 L267.7,435.7 L261.5,438.4Z" fill="#eb3a35"/><path d="M82.4,485.9 L88.4,481.2 L82.7,483.2 L76.8,487.8Z" fill="#65c659"/><path d="M94.0,479.7 L100.0,475.2 L94.3,476.8 L88.4,481.2Z" fill="#6ac640"/><path d="M105.7,474.0 L111.8,469.6 L106.0,470.8 L100.0,475.2Z" fill="#80cb35"/><path d="M117.5,468.8 L123.6,464.6 L117.8,465.4 L111.8,469.6Z" fill="#abd736"/><path d="M129.3,464.1 L135.4,460.0 L129.6,460.5 L123.6,464.6Z" fill="#d7e138"/><path d="M141.2,459.9 L147.3,455.9 L141.5,456.0 L135.4,460.0Z" fill="#f1df33"/><path d="M153.1,456.2 L159.2,452.3 L153.4,452.0 L147.3,455.9Z" fill="#f6bc28"/><path d="M165.0,453.0 L171.2,449.2 L165.3,448.5 L159.2,452.3Z" fill="#f69724"/><path d="M177.0,450.3 L183.1,446.6 L177.3,445.5 L171.2,449.2Z" fill="#f47a24"/><path d="M189.0,448.0 L195.2,444.4 L189.3,443.0 L183.1,446.6Z" fill="#f16127"/><path d="M201.0,446.3 L207.2,442.8 L201.3,441.0 L195.2,444.4Z" fill="#ef4f2a"/><path d="M213.0,445.1 L219.2,441.7 L213.4,439.5 L207.2,442.8Z" fill="#ed442f"/><path d="M225.1,444.4 L231.2,441.1 L225.4,438.5 L219.2,441.7Z" fill="#ec3e31"/><path d="M237.1,444.1 L243.3,441.0 L237.4,438.0 L231.2,441.1Z" fill="#ec3c32"/><path d="M249.1,444.4 L255.3,441.3 L249.5,438.0 L243.3,441.0Z" fill="#ec3d32"/><path d="M261.1,445.2 L267.3,442.2 L261.5,438.4 L255.3,441.3Z" fill="#ed432f"/><path d="M273.1,446.5 L279.3,443.6 L273.5,439.4 L267.3,442.2Z" fill="#ef4e2b"/><path d="M76.5,490.7 L82.4,485.9 L76.8,487.8 L70.8,492.5Z" fill="#63c76c"/><path d="M88.1,484.4 L94.0,479.7 L88.4,481.2 L82.4,485.9Z" fill="#68c64a"/><path d="M99.7,478.6 L105.7,474.0 L100.0,475.2 L94.0,479.7Z" fill="#70c737"/><path d="M111.5,473.3 L117.5,468.8 L111.8,469.6 L105.7,474.0Z" fill="#93d035"/><path d="M123.3,468.5 L129.3,464.1 L123.6,464.6 L117.5,468.8Z" fill="#bfdc37"/><path d="M135.1,464.1 L141.2,459.9 L135.4,460.0 L129.3,464.1Z" fill="#e3e437"/><path d="M147.0,460.3 L153.1,456.2 L147.3,455.9 L141.2,459.9Z" fill="#f4d42f"/><path d="M158.9,457.0 L165.0,453.0 L159.2,452.3 L153.1,456.2Z" fill="#f6b227"/><path d="M170.9,454.1 L177.0,450.3 L171.2,449.2 L165.0,453.0Z" fill="#f59224"/><path d="M182.8,451.8 L189.0,448.0 L183.1,446.6 L177.0,450.3Z" fill="#f47924"/><path d="M194.8,450.0 L201.0,446.3 L195.2,444.4 L189.0,448.0Z" fill="#f26426"/><path d="M206.8,448.6 L213.0,445.1 L207.2,442.8 L201.0,446.3Z" fill="#f05528"/><path d="M218.9,447.8 L225.1,444.4 L219.2,441.7 L213.0,445.1Z" fill="#ef4d2b"/><path d="M230.9,447.5 L237.1,444.1 L231.2,441.1 L225.1,444.4Z" fill="#ee4a2c"/><path d="M242.9,447.7 L249.1,444.4 L243.3,441.0 L237.1,444.1Z" fill="#ef4b2c"/><path d="M254.9,448.4 L261.1,445.2 L255.3,441.3 L249.1,444.4Z" fill="#ef5029"/><path d="M266.9,449.6 L273.1,446.5 L267.3,442.2 L261.1,445.2Z" fill="#f15c27"/><path d="M278.9,451.3 L285.1,448.3 L279.3,443.6 L273.1,446.5Z" fill="#f36e25"/><path d="M70.5,495.8 L76.5,490.7 L70.8,492.5 L64.9,497.5Z" fill="#62c97f"/><path d="M82.1,489.3 L88.1,484.4 L82.4,485.9 L76.5,490.7Z" fill="#65c658"/><path d="M93.8,483.4 L99.7,478.6 L94.0,479.7 L88.1,484.4Z" fill="#6ac640"/><path d="M105.5,478.0 L111.5,473.3 L105.7,474.0 L99.7,478.6Z" fill="#7eca35"/><path d="M117.2,473.0 L123.3,468.5 L117.5,468.8 L111.5,473.3Z" fill="#a4d536"/><path d="M129.0,468.5 L135.1,464.1 L129.3,464.1 L123.3,468.5Z" fill="#cee038"/><path d="M140.9,464.6 L147.0,460.3 L141.2,459.9 L135.1,464.1Z" fill="#ede536"/><path d="M152.8,461.1 L158.9,457.0 L153.1,456.2 L147.0,460.3Z" fill="#f5cd2c"/><path d="M164.7,458.2 L170.9,454.1 L165.0,453.0 L158.9,457.0Z" fill="#f6ac26"/><path d="M176.7,455.7 L182.8,451.8 L177.0,450.3 L170.9,454.1Z" fill="#f59124"/><path d="M188.7,453.8 L194.8,450.0 L189.0,448.0 L182.8,451.8Z" fill="#f47d24"/><path d="M200.7,452.4 L206.8,448.6 L201.0,446.3 L194.8,450.0Z" fill="#f36d25"/><path d="M212.7,451.4 L218.9,447.8 L213.0,445.1 L206.8,448.6Z" fill="#f16227"/><path d="M224.7,451.0 L230.9,447.5 L225.1,444.4 L218.9,447.8Z" fill="#f15c27"/><path d="M236.7,451.1 L242.9,447.7 L237.1,444.1 L230.9,447.5Z" fill="#f15c27"/><path d="M248.7,451.7 L254.9,448.4 L249.1,444.4 L242.9,447.7Z" fill="#f16227"/><path d="M260.7,452.8 L266.9,449.6 L261.1,445.2 L254.9,448.4Z" fill="#f36d25"/><path d="M272.7,454.4 L278.9,451.3 L273.1,446.5 L266.9,449.6Z" fill="#f47e24"/><path d="M284.6,456.5 L290.8,453.4 L285.1,448.3 L278.9,451.3Z" fill="#f59324"/><path d="M64.6,501.0 L70.5,495.8 L64.9,497.5 L59.0,502.7Z" fill="#62cb92"/><path d="M76.2,494.4 L82.1,489.3 L76.5,490.7 L70.5,495.8Z" fill="#63c76c"/><path d="M87.8,488.4 L93.8,483.4 L88.1,484.4 L82.1,489.3Z" fill="#67c64c"/><path d="M99.5,482.8 L105.5,478.0 L99.7,478.6 L93.8,483.4Z" fill="#6cc638"/><path d="M111.2,477.7 L117.2,473.0 L111.5,473.3 L105.5,478.0Z" fill="#8bce34"/><path d="M123.0,473.1 L129.0,468.5 L123.3,468.5 L117.2,473.0Z" fill="#b3d937"/><path d="M134.8,469.1 L140.9,464.6 L135.1,464.1 L129.0,468.5Z" fill="#d8e138"/><path d="M146.7,465.5 L152.8,461.1 L147.0,460.3 L140.9,464.6Z" fill="#f1e335"/><path d="M158.6,462.4 L164.7,458.2 L158.9,457.0 L152.8,461.1Z" fill="#f6ca2b"/><path d="M170.6,459.9 L176.7,455.7 L170.9,454.1 L164.7,458.2Z" fill="#f6ac26"/><path d="M182.5,457.8 L188.7,453.8 L182.8,451.8 L176.7,455.7Z" fill="#f59524"/><path d="M194.5,456.3 L200.7,452.4 L194.8,450.0 L188.7,453.8Z" fill="#f58524"/><path d="M206.5,455.2 L212.7,451.4 L206.8,448.6 L200.7,452.4Z" fill="#f47924"/><path d="M218.5,454.7 L224.7,451.0 L218.9,447.8 L212.7,451.4Z" fill="#f37325"/><path d="M230.5,454.7 L236.7,451.1 L230.9,447.5 L224.7,451.0Z" fill="#f37225"/><path d="M242.5,455.2 L248.7,451.7 L242.9,447.7 L236.7,451.1Z" fill="#f47624"/><path d="M254.5,456.2 L260.7,452.8 L254.9,448.4 L248.7,451.7Z" fill="#f48024"/><path d="M266.4,457.8 L272.7,454.4 L266.9,449.6 L260.7,452.8Z" fill="#f58e24"/><path d="M278.4,459.8 L284.6,456.5 L278.9,451.3 L272.7,454.4Z" fill="#f6a224"/><path d="M290.3,462.3 L296.5,459.1 L290.8,453.4 L284.6,456.5Z" fill="#f6bf29"/><path d="M70.2,499.7 L76.2,494.4 L70.5,495.8 L64.6,501.0Z" fill="#62c980"/><path d="M81.8,493.5 L87.8,488.4 L82.1,489.3 L76.2,494.4Z" fill="#65c65b"/><path d="M93.5,487.8 L99.5,482.8 L93.8,483.4 L87.8,488.4Z" fill="#69c643"/><path d="M105.2,482.6 L111.2,477.7 L105.5,478.0 L99.5,482.8Z" fill="#77c936"/><path d="M116.9,477.9 L123.0,473.1 L117.2,473.0 L111.2,477.7Z" fill="#99d235"/><path d="M128.8,473.7 L134.8,469.1 L129.0,468.5 L123.0,473.1Z" fill="#bedc37"/><path d="M140.6,470.0 L146.7,465.5 L140.9,464.6 L134.8,469.1Z" fill="#dee337"/><path d="M152.5,466.8 L158.6,462.4 L152.8,461.1 L146.7,465.5Z" fill="#f1e033"/><path d="M164.4,464.2 L170.6,459.9 L164.7,458.2 L158.6,462.4Z" fill="#f6ca2b"/><path d="M176.4,462.0 L182.5,457.8 L176.7,455.7 L170.6,459.9Z" fill="#f6b126"/><path d="M188.3,460.4 L194.5,456.3 L188.7,453.8 L182.5,457.8Z" fill="#f69d24"/><path d="M200.3,459.2 L206.5,455.2 L200.7,452.4 L194.5,456.3Z" fill="#f59124"/><path d="M212.3,458.6 L218.5,454.7 L212.7,451.4 L206.5,455.2Z" fill="#f58a24"/><path d="M224.3,458.5 L230.5,454.7 L224.7,451.0 L218.5,454.7Z" fill="#f58824"/><path d="M236.3,458.9 L242.5,455.2 L236.7,451.1 L230.5,454.7Z" fill="#f58b24"/><path d="M248.3,459.8 L254.5,456.2 L248.7,451.7 L242.5,455.2Z" fill="#f59324"/><path d="M260.2,461.3 L266.4,457.8 L260.7,452.8 L254.5,456.2Z" fill="#f6a024"/><path d="M272.2,463.2 L278.4,459.8 L272.7,454.4 L266.4,457.8Z" fill="#f6b627"/><path d="M284.1,465.6 L290.3,462.3 L284.6,456.5 L278.4,459.8Z" fill="#f5ce2c"/><path d="M75.9,498.8 L81.8,493.5 L76.2,494.4 L70.2,499.7Z" fill="#63c870"/><path d="M87.5,493.0 L93.5,487.8 L87.8,488.4 L81.8,493.5Z" fill="#67c64f"/><path d="M99.2,487.7 L105.2,482.6 L99.5,482.8 L93.5,487.8Z" fill="#6bc63c"/><path d="M110.9,482.9 L116.9,477.9 L111.2,477.7 L105.2,482.6Z" fill="#80cb35"/><path d="M122.7,478.5 L128.8,473.7 L123.0,473.1 L116.9,477.9Z" fill="#a2d436"/><path d="M134.5,474.7 L140.6,470.0 L134.8,469.1 L128.8,473.7Z" fill="#c6dd37"/><path d="M146.4,471.4 L152.5,466.8 L146.7,465.5 L140.6,470.0Z" fill="#e1e337"/><path d="M158.3,468.7 L164.4,464.2 L158.6,462.4 L152.5,466.8Z" fill="#f1e034"/><path d="M170.2,466.4 L176.4,462.0 L170.6,459.9 L164.4,464.2Z" fill="#f5cd2c"/><path d="M182.2,464.6 L188.3,460.4 L182.5,457.8 L176.4,462.0Z" fill="#f6ba28"/><path d="M194.2,463.4 L200.3,459.2 L194.5,456.3 L188.3,460.4Z" fill="#f6ab26"/><path d="M206.1,462.7 L212.3,458.6 L206.5,455.2 L200.3,459.2Z" fill="#f6a124"/><path d="M218.1,462.5 L224.3,458.5 L218.5,454.7 L212.3,458.6Z" fill="#f69e24"/><path d="M230.1,462.8 L236.3,458.9 L230.5,454.7 L224.3,458.5Z" fill="#f6a024"/><path d="M242.1,463.6 L248.3,459.8 L242.5,455.2 L236.3,458.9Z" fill="#f6a825"/><path d="M254.0,464.9 L260.2,461.3 L254.5,456.2 L248.3,459.8Z" fill="#f6b727"/><path d="M266.0,466.8 L272.2,463.2 L266.4,457.8 L260.2,461.3Z" fill="#f6ca2b"/><path d="M277.9,469.2 L284.1,465.6 L278.4,459.8 L272.2,463.2Z" fill="#f2dc32"/><path d="M81.5,498.4 L87.5,493.0 L81.8,493.5 L75.9,498.8Z" fill="#64c762"/><path d="M93.2,493.0 L99.2,487.7 L93.5,487.8 L87.5,493.0Z" fill="#68c648"/><path d="M104.9,488.0 L110.9,482.9 L105.2,482.6 L99.2,487.7Z" fill="#6ec638"/><path d="M116.7,483.6 L122.7,478.5 L116.9,477.9 L110.9,482.9Z" fill="#88cd34"/><path d="M128.5,479.6 L134.5,474.7 L128.8,473.7 L122.7,478.5Z" fill="#a9d636"/><path d="M140.3,476.2 L146.4,471.4 L140.6,470.0 L134.5,474.7Z" fill="#c9de38"/><path d="M152.2,473.3 L158.3,468.7 L152.5,466.8 L146.4,471.4Z" fill="#e0e337"/><path d="M164.1,470.9 L170.2,466.4 L164.4,464.2 L158.3,468.7Z" fill="#f0e435"/><path d="M176.1,469.1 L182.2,464.6 L176.4,462.0 L170.2,466.4Z" fill="#f4d42f"/><path d="M188.0,467.7 L194.2,463.4 L188.3,460.4 L182.2,464.6Z" fill="#f6c92a"/><path d="M200.0,466.9 L206.1,462.7 L200.3,459.2 L194.2,463.4Z" fill="#f6be29"/><path d="M211.9,466.6 L218.1,462.5 L212.3,458.6 L206.1,462.7Z" fill="#f6b928"/><path d="M223.9,466.8 L230.1,462.8 L224.3,458.5 L218.1,462.5Z" fill="#f6ba28"/><path d="M235.9,467.5 L242.1,463.6 L236.3,458.9 L230.1,462.8Z" fill="#f6c129"/><path d="M247.8,468.8 L254.0,464.9 L248.3,459.8 L242.1,463.6Z" fill="#f5cc2c"/><path d="M259.8,470.6 L266.0,466.8 L260.2,461.3 L254.0,464.9Z" fill="#f3d931"/><path d="M271.7,472.8 L277.9,469.2 L272.2,463.2 L266.0,466.8Z" fill="#ece536"/><path d="M87.2,498.4 L93.2,493.0 L87.5,493.0 L81.5,498.4Z" fill="#65c657"/><path d="M98.9,493.4 L104.9,488.0 L99.2,487.7 L93.2,493.0Z" fill="#69c643"/><path d="M110.7,488.8 L116.7,483.6 L110.9,482.9 L104.9,488.0Z" fill="#74c837"/><path d="M122.4,484.8 L128.5,479.6 L122.7,478.5 L116.7,483.6Z" fill="#8ecf35"/><path d="M134.3,481.2 L140.3,476.2 L134.5,474.7 L128.5,479.6Z" fill="#acd736"/><path d="M146.1,478.2 L152.2,473.3 L146.4,471.4 L140.3,476.2Z" fill="#c8de38"/><path d="M158.0,475.7 L164.1,470.9 L158.3,468.7 L152.2,473.3Z" fill="#dde237"/><path d="M169.9,473.7 L176.1,469.1 L170.2,466.4 L164.1,470.9Z" fill="#ece536"/><path d="M181.9,472.3 L188.0,467.7 L182.2,464.6 L176.1,469.1Z" fill="#f2de33"/><path d="M193.8,471.3 L200.0,466.9 L194.2,463.4 L188.0,467.7Z" fill="#f3d630"/><path d="M205.8,470.9 L211.9,466.6 L206.1,462.7 L200.0,466.9Z" fill="#f4d22e"/><path d="M217.7,471.0 L223.9,466.8 L218.1,462.5 L211.9,466.6Z" fill="#f4d22e"/><path d="M229.7,471.7 L235.9,467.5 L230.1,462.8 L223.9,466.8Z" fill="#f3d62f"/><path d="M241.6,472.8 L247.8,468.8 L242.1,463.6 L235.9,467.5Z" fill="#f2de33"/><path d="M253.5,474.5 L259.8,470.6 L254.0,464.9 L247.8,468.8Z" fill="#ece536"/><path d="M265.5,476.7 L271.7,472.8 L266.0,466.8 L259.8,470.6Z" fill="#dee337"/><path d="M92.9,498.9 L98.9,493.4 L93.2,493.0 L87.2,498.4Z" fill="#67c650"/><path d="M104.6,494.2 L110.7,488.8 L104.9,488.0 L98.9,493.4Z" fill="#6ac63f"/><path d="M116.4,490.0 L122.4,484.8 L116.7,483.6 L110.7,488.8Z" fill="#78c936"/><path d="M128.2,486.4 L134.3,481.2 L128.5,479.6 L122.4,484.8Z" fill="#90cf35"/><path d="M140.0,483.3 L146.1,478.2 L140.3,476.2 L134.3,481.2Z" fill="#abd736"/><path d="M151.9,480.6 L158.0,475.7 L152.2,473.3 L146.1,478.2Z" fill="#c3dd37"/><path d="M163.8,478.6 L169.9,473.7 L164.1,470.9 L158.0,475.7Z" fill="#d6e138"/><path d="M175.7,477.0 L181.9,472.3 L176.1,469.1 L169.9,473.7Z" fill="#e2e337"/><path d="M187.7,476.0 L193.8,471.3 L188.0,467.7 L181.9,472.3Z" fill="#eae536"/><path d="M199.6,475.4 L205.8,470.9 L200.0,466.9 L193.8,471.3Z" fill="#efe636"/><path d="M211.6,475.5 L217.7,471.0 L211.9,466.6 L205.8,470.9Z" fill="#f0e636"/><path d="M223.5,476.0 L229.7,471.7 L223.9,466.8 L217.7,471.0Z" fill="#ede536"/><path d="M235.4,477.1 L241.6,472.8 L235.9,467.5 L229.7,471.7Z" fill="#e6e437"/><path d="M247.3,478.6 L253.5,474.5 L247.8,468.8 L241.6,472.8Z" fill="#dce237"/><path d="M259.3,480.8 L265.5,476.7 L259.8,470.6 L253.5,474.5Z" fill="#cddf38"/><path d="M98.7,499.8 L104.6,494.2 L98.9,493.4 L92.9,498.9Z" fill="#67c64c"/><path d="M110.4,495.5 L116.4,490.0 L110.7,488.8 L104.6,494.2Z" fill="#6bc63d"/><path d="M122.2,491.8 L128.2,486.4 L122.4,484.8 L116.4,490.0Z" fill="#79c936"/><path d="M134.0,488.5 L140.0,483.3 L134.3,481.2 L128.2,486.4Z" fill="#8fcf35"/><path d="M145.8,485.8 L151.9,480.6 L146.1,478.2 L140.0,483.3Z" fill="#a6d536"/><path d="M157.7,483.6 L163.8,478.6 L158.0,475.7 L151.9,480.6Z" fill="#badb37"/><path d="M169.6,481.9 L175.7,477.0 L169.9,473.7 L163.8,478.6Z" fill="#cbdf38"/><path d="M181.5,480.8 L187.7,476.0 L181.9,472.3 L175.7,477.0Z" fill="#d5e138"/><path d="M193.5,480.2 L199.6,475.4 L193.8,471.3 L187.7,476.0Z" fill="#dae237"/><path d="M205.4,480.1 L211.6,475.5 L205.8,470.9 L199.6,475.4Z" fill="#dce237"/><path d="M217.3,480.5 L223.5,476.0 L217.7,471.0 L211.6,475.5Z" fill="#dae237"/><path d="M229.2,481.5 L235.4,477.1 L229.7,471.7 L223.5,476.0Z" fill="#d4e138"/><path d="M241.2,483.0 L247.3,478.6 L241.6,472.8 L235.4,477.1Z" fill="#c9de38"/><path d="M253.1,485.0 L259.3,480.8 L253.5,474.5 L247.3,478.6Z" fill="#b9da37"/><path d="M104.4,501.2 L110.4,495.5 L104.6,494.2 L98.7,499.8Z" fill="#68c64a"/><path d="M116.1,497.3 L122.2,491.8 L116.4,490.0 L110.4,495.5Z" fill="#6bc63c"/><path d="M127.9,494.0 L134.0,488.5 L128.2,486.4 L122.2,491.8Z" fill="#78c936"/><path d="M139.8,491.1 L145.8,485.8 L140.0,483.3 L134.0,488.5Z" fill="#8ace34"/><path d="M151.6,488.8 L157.7,483.6 L151.9,480.6 L145.8,485.8Z" fill="#9ed335"/><path d="M163.5,487.0 L169.6,481.9 L163.8,478.6 L157.7,483.6Z" fill="#aed736"/><path d="M175.4,485.8 L181.5,480.8 L175.7,477.0 L169.6,481.9Z" fill="#badb37"/><path d="M187.3,485.1 L193.5,480.2 L187.7,476.0 L181.5,480.8Z" fill="#c2dd37"/><path d="M199.2,484.9 L205.4,480.1 L199.6,475.4 L193.5,480.2Z" fill="#c5dd37"/><path d="M211.1,485.2 L217.3,480.5 L211.6,475.5 L205.4,480.1Z" fill="#c4dd37"/><path d="M223.1,486.1 L229.2,481.5 L223.5,476.0 L217.3,480.5Z" fill="#bddb37"/><path d="M235.0,487.5 L241.2,483.0 L235.4,477.1 L229.2,481.5Z" fill="#b2d937"/><path d="M246.9,489.4 L253.1,485.0 L247.3,478.6 L241.2,483.0Z" fill="#a3d536"/><path d="M110.1,503.1 L116.1,497.3 L110.4,495.5 L104.4,501.2Z" fill="#68c649"/><path d="M121.9,499.6 L127.9,494.0 L122.2,491.8 L116.1,497.3Z" fill="#6bc63d"/><path d="M133.7,496.7 L139.8,491.1 L134.0,488.5 L127.9,494.0Z" fill="#75c837"/><path d="M145.5,494.2 L151.6,488.8 L145.8,485.8 L139.8,491.1Z" fill="#82cc34"/><path d="M157.4,492.3 L163.5,487.0 L157.7,483.6 L151.6,488.8Z" fill="#92d035"/><path d="M169.3,491.0 L175.4,485.8 L169.6,481.9 L163.5,487.0Z" fill="#9ed335"/><path d="M181.2,490.1 L187.3,485.1 L181.5,480.8 L175.4,485.8Z" fill="#a6d536"/><path d="M193.1,489.9 L199.2,484.9 L193.5,480.2 L187.3,485.1Z" fill="#aad636"/><path d="M205.0,490.1 L211.1,485.2 L205.4,480.1 L199.2,484.9Z" fill="#a9d636"/><path d="M216.9,490.9 L223.1,486.1 L217.3,480.5 L211.1,485.2Z" fill="#a4d536"/><path d="M228.8,492.2 L235.0,487.5 L229.2,481.5 L223.1,486.1Z" fill="#9bd335"/><path d="M240.7,494.0 L246.9,489.4 L241.2,483.0 L235.0,487.5Z" fill="#8ecf35"/><path d="M115.9,505.5 L121.9,499.6 L116.1,497.3 L110.1,503.1Z" fill="#68c64a"/><path d="M127.7,502.4 L133.7,496.7 L127.9,494.0 L121.9,499.6Z" fill="#6ac63f"/><path d="M139.5,499.9 L145.5,494.2 L139.8,491.1 L133.7,496.7Z" fill="#6fc738"/><path d="M151.3,497.9 L157.4,492.3 L151.6,488.8 L145.5,494.2Z" fill="#7aca36"/><path d="M163.2,496.4 L169.3,491.0 L163.5,487.0 L157.4,492.3Z" fill="#83cc34"/><path d="M175.1,495.4 L181.2,490.1 L175.4,485.8 L169.3,491.0Z" fill="#8bce34"/><path d="M186.9,495.0 L193.1,489.9 L187.3,485.1 L181.2,490.1Z" fill="#90cf35"/><path d="M198.8,495.2 L205.0,490.1 L199.2,484.9 L193.1,489.9Z" fill="#90cf35"/><path d="M210.7,495.9 L216.9,490.9 L211.1,485.2 L205.0,490.1Z" fill="#8dce34"/><path d="M222.6,497.1 L228.8,492.2 L223.1,486.1 L216.9,490.9Z" fill="#84cc34"/><path d="M234.5,498.8 L240.7,494.0 L235.0,487.5 L228.8,492.2Z" fill="#7cca35"/><path d="M121.6,508.4 L127.7,502.4 L121.9,499.6 L115.9,505.5Z" fill="#67c64c"/><path d="M133.4,505.7 L139.5,499.9 L133.7,496.7 L127.7,502.4Z" fill="#69c643"/><path d="M145.2,503.6 L151.3,497.9 L145.5,494.2 L139.5,499.9Z" fill="#6bc63b"/><path d="M157.1,502.0 L163.2,496.4 L157.4,492.3 L151.3,497.9Z" fill="#70c737"/><path d="M168.9,500.9 L175.1,495.4 L169.3,491.0 L163.2,496.4Z" fill="#76c936"/><path d="M180.8,500.4 L186.9,495.0 L181.2,490.1 L175.1,495.4Z" fill="#7aca36"/><path d="M192.7,500.5 L198.8,495.2 L193.1,489.9 L186.9,495.0Z" fill="#7bca36"/><path d="M204.6,501.1 L210.7,495.9 L205.0,490.1 L198.8,495.2Z" fill="#79c936"/><path d="M216.5,502.2 L222.6,497.1 L216.9,490.9 L210.7,495.9Z" fill="#74c837"/><path d="M228.3,503.8 L234.5,498.8 L228.8,492.2 L222.6,497.1Z" fill="#6dc638"/><path d="M127.4,511.7 L133.4,505.7 L127.7,502.4 L121.6,508.4Z" fill="#66c650"/><path d="M139.2,509.5 L145.2,503.6 L139.5,499.9 L133.4,505.7Z" fill="#68c648"/><path d="M151.0,507.8 L157.1,502.0 L151.3,497.9 L145.2,503.6Z" fill="#6ac642"/><path d="M162.8,506.6 L168.9,500.9 L163.2,496.4 L157.1,502.0Z" fill="#6bc63e"/><path d="M174.7,506.0 L180.8,500.4 L175.1,495.4 L168.9,500.9Z" fill="#6bc63b"/><path d="M186.6,506.0 L192.7,500.5 L186.9,495.0 L180.8,500.4Z" fill="#6cc63a"/><path d="M198.4,506.4 L204.6,501.1 L198.8,495.2 L192.7,500.5Z" fill="#6bc63b"/><path d="M210.3,507.5 L216.5,502.2 L210.7,495.9 L204.6,501.1Z" fill="#6bc63d"/><path d="M222.1,509.0 L228.3,503.8 L222.6,497.1 L216.5,502.2Z" fill="#6ac642"/><path d="M133.1,515.6 L139.2,509.5 L133.4,505.7 L127.4,511.7Z" fill="#65c658"/><path d="M144.9,513.8 L151.0,507.8 L145.2,503.6 L139.2,509.5Z" fill="#67c64f"/><path d="M156.8,512.6 L162.8,506.6 L157.1,502.0 L151.0,507.8Z" fill="#68c64a"/><path d="M168.6,511.8 L174.7,506.0 L168.9,500.9 L162.8,506.6Z" fill="#69c647"/><path d="M180.4,511.7 L186.6,506.0 L180.8,500.4 L174.7,506.0Z" fill="#69c646"/><path d="M192.3,512.0 L198.4,506.4 L192.7,500.5 L186.6,506.0Z" fill="#69c646"/><path d="M204.1,513.0 L210.3,507.5 L204.6,501.1 L198.4,506.4Z" fill="#68c648"/><path d="M216.0,514.4 L222.1,509.0 L216.5,502.2 L210.3,507.5Z" fill="#67c64c"/><path d="M138.9,520.1 L144.9,513.8 L139.2,509.5 L133.1,515.6Z" fill="#64c764"/><path d="M150.7,518.7 L156.8,512.6 L151.0,507.8 L144.9,513.8Z" fill="#65c65b"/><path d="M162.5,517.9 L168.6,511.8 L162.8,506.6 L156.8,512.6Z" fill="#66c655"/><path d="M174.3,517.6 L180.4,511.7 L174.7,506.0 L168.6,511.8Z" fill="#66c652"/><path d="M186.2,517.8 L192.3,512.0 L186.6,506.0 L180.4,511.7Z" fill="#66c652"/><path d="M198.0,518.7 L204.1,513.0 L198.4,506.4 L192.3,512.0Z" fill="#66c655"/><path d="M209.8,520.0 L216.0,514.4 L210.3,507.5 L204.1,513.0Z" fill="#65c75c"/><path d="M144.6,525.0 L150.7,518.7 L144.9,513.8 L138.9,520.1Z" fill="#63c872"/><path d="M156.4,524.1 L162.5,517.9 L156.8,512.6 L150.7,518.7Z" fill="#63c76b"/><path d="M168.2,523.7 L174.3,517.6 L168.6,511.8 L162.5,517.9Z" fill="#64c768"/><path d="M180.1,523.9 L186.2,517.8 L180.4,511.7 L174.3,517.6Z" fill="#64c767"/><path d="M191.9,524.6 L198.0,518.7 L192.3,512.0 L186.2,517.8Z" fill="#63c76a"/><path d="M203.7,525.9 L209.8,520.0 L204.1,513.0 L198.0,518.7Z" fill="#63c870"/><path d="M150.4,530.5 L156.4,524.1 L150.7,518.7 L144.6,525.0Z" fill="#62c982"/><path d="M162.2,530.0 L168.2,523.7 L162.5,517.9 L156.4,524.1Z" fill="#62c97e"/><path d="M174.0,530.1 L180.1,523.9 L174.3,517.6 L168.2,523.7Z" fill="#62c97d"/><path d="M185.8,530.7 L191.9,524.6 L186.2,517.8 L180.1,523.9Z" fill="#62c97f"/><path d="M197.6,531.9 L203.7,525.9 L198.0,518.7 L191.9,524.6Z" fill="#62c984"/><path d="M156.1,536.6 L162.2,530.0 L156.4,524.1 L150.4,530.5Z" fill="#62cc94"/><path d="M167.9,536.5 L174.0,530.1 L168.2,523.7 L162.2,530.0Z" fill="#62cb93"/><path d="M179.7,537.1 L185.8,530.7 L180.1,523.9 L174.0,530.1Z" fill="#62cb94"/><path d="M191.5,538.1 L197.6,531.9 L191.9,524.6 L185.8,530.7Z" fill="#62cc98"/><path d="M161.8,543.2 L167.9,536.5 L162.2,530.0 L156.1,536.6Z" fill="#62cda7"/><path d="M173.6,543.6 L179.7,537.1 L174.0,530.1 L167.9,536.5Z" fill="#62cda7"/><path d="M185.4,544.6 L191.5,538.1 L185.8,530.7 L179.7,537.1Z" fill="#62cdaa"/><path d="M167.5,550.4 L173.6,543.6 L167.9,536.5 L161.8,543.2Z" fill="#64cbbf"/><path d="M179.3,551.3 L185.4,544.6 L179.7,537.1 L173.6,543.6Z" fill="#65cbc3"/><path d="M173.2,558.2 L179.3,551.3 L173.6,543.6 L167.5,550.4Z" fill="#62bae2"/></g>
<text transform="translate(55.6 540.3) scale(1 1.10)" font-size="15.6" text-anchor="end">40</text>
<text transform="translate(54.7 515.9) scale(1 1.10)" font-size="15.6" text-anchor="end">48</text>
<text transform="translate(53.9 491.4) scale(1 1.10)" font-size="15.6" text-anchor="end">56</text>
<text transform="translate(53.1 466.9) scale(1 1.10)" font-size="15.6" text-anchor="end">64</text>
<text transform="translate(52.2 442.5) scale(1 1.10)" font-size="15.6" text-anchor="end">72</text>
<text transform="translate(51.4 418.0) scale(1 1.10)" font-size="15.6" text-anchor="end">80</text>
<text transform="translate(182.3 633.9) scale(1 1.10)" font-size="15.6" text-anchor="middle">40</text>
<text transform="translate(240.4 610.7) scale(1 1.10)" font-size="15.6" text-anchor="middle">50</text>
<text transform="translate(301.0 586.1) scale(1 1.10)" font-size="15.6" text-anchor="middle">60</text>
<text transform="translate(167.8 634.1) scale(1 1.10)" font-size="15.6" text-anchor="middle">0</text>
<text transform="translate(111.8 612.9) scale(1 1.10)" font-size="15.6" text-anchor="middle">0.5</text>
<text transform="translate(56.0 589.8) scale(1 1.10)" font-size="15.6" text-anchor="middle">1.0</text>
<text x="251.9" y="627.1" font-size="15.6" text-anchor="middle" transform="rotate(-22.9 251.9 627.1)">Shaping pressure/MPa</text>
<text x="92.6" y="632.0" font-size="15.9" text-anchor="middle" transform="rotate(24.5 92.6 632.0)">Alkali activator content/‰</text>
<text x="30.5" y="492.0" font-size="15.9" text-anchor="middle" transform="rotate(-92.0 30.5 492.0)">Compressive strength/MPa</text>
<circle cx="59.4" cy="503.8" r="2.4" fill="#a3161f" stroke="#7a0f15" stroke-width="0.5"/><circle cx="176.4" cy="454.1" r="2.4" fill="#a3161f" stroke="#7a0f15" stroke-width="0.5"/><circle cx="296.8" cy="462.5" r="1.9" fill="#f9c3d0" stroke="#dc8fa6" stroke-width="0.6"/><circle cx="173.1" cy="561.5" r="1.9" fill="#f9c3d0" stroke="#dc8fa6" stroke-width="0.6"/>
<clipPath id="cp2"><rect x="376.0" y="396.0" width="224.6" height="226.4"/></clipPath>
<g clip-path="url(#cp2)">
<rect x="376.0" y="396.0" width="224.6" height="226.4" fill="#3b52b0"/>
<g transform="translate(693.33 513.73) rotate(-174.08)">
<ellipse rx="394.2" ry="221.4" fill="#3b54b2"/>
<ellipse rx="391.1" ry="219.7" fill="#3c58b6"/>
<ellipse rx="388.0" ry="217.9" fill="#3c5cba"/>
<ellipse rx="384.8" ry="216.1" fill="#3d60be"/>
<ellipse rx="381.7" ry="214.4" fill="#3e65c2"/>
<ellipse rx="378.5" ry="212.6" fill="#3e6ac6"/>
<ellipse rx="375.2" ry="210.8" fill="#3f6eca"/>
<ellipse rx="372.0" ry="208.9" fill="#4179d0"/>
<ellipse rx="368.7" ry="207.1" fill="#4388d6"/>
<ellipse rx="365.4" ry="205.3" fill="#4597dc"/>
<ellipse rx="362.1" ry="203.4" fill="#49a4e1"/>
<ellipse rx="358.7" ry="201.5" fill="#50afe4"/>
<ellipse rx="355.3" ry="199.6" fill="#57b9e4"/>
<ellipse rx="351.9" ry="197.7" fill="#62c2d6"/>
<ellipse rx="348.4" ry="195.7" fill="#6ccbc9"/>
<ellipse rx="344.9" ry="193.7" fill="#6fccbe"/>
<ellipse rx="341.4" ry="191.8" fill="#71cdb3"/>
<ellipse rx="337.8" ry="189.7" fill="#71cba4"/>
<ellipse rx="334.2" ry="187.7" fill="#70c994"/>
<ellipse rx="330.6" ry="185.7" fill="#6fc786"/>
<ellipse rx="326.9" ry="183.6" fill="#6cc679"/>
<ellipse rx="323.1" ry="181.5" fill="#6ac56c"/>
<ellipse rx="319.4" ry="179.4" fill="#68c460"/>
<ellipse rx="315.5" ry="177.2" fill="#65c353"/>
<ellipse rx="311.7" ry="175.1" fill="#63c147"/>
<ellipse rx="307.7" ry="172.9" fill="#60c03a"/>
<ellipse rx="303.8" ry="170.6" fill="#60c035"/>
<ellipse rx="299.8" ry="168.4" fill="#60bf31"/>
<ellipse rx="295.7" ry="166.1" fill="#60bf2e"/>
<ellipse rx="291.6" ry="163.8" fill="#61bf2c"/>
<ellipse rx="287.4" ry="161.4" fill="#62c02c"/>
<ellipse rx="283.1" ry="159.0" fill="#63c02b"/>
<ellipse rx="278.8" ry="156.6" fill="#65c12b"/>
<ellipse rx="274.4" ry="154.1" fill="#66c12b"/>
<ellipse rx="269.9" ry="151.6" fill="#6cc32b"/>
<ellipse rx="265.4" ry="149.1" fill="#71c42b"/>
<ellipse rx="260.8" ry="146.5" fill="#77c62b"/>
<ellipse rx="256.1" ry="143.9" fill="#82c92c"/>
<ellipse rx="251.3" ry="141.2" fill="#90cd2c"/>
<ellipse rx="246.5" ry="138.4" fill="#9ed12d"/>
<ellipse rx="241.5" ry="135.6" fill="#acd52e"/>
<ellipse rx="236.4" ry="132.8" fill="#b9d82e"/>
<ellipse rx="231.2" ry="129.9" fill="#c7dc2f"/>
<ellipse rx="225.9" ry="126.9" fill="#d1de2f"/>
<ellipse rx="220.5" ry="123.8" fill="#dae030"/>
<ellipse rx="214.9" ry="120.7" fill="#e9e02d"/>
<ellipse rx="209.2" ry="117.5" fill="#f3d326"/>
<ellipse rx="203.3" ry="114.2" fill="#f5bf21"/>
<ellipse rx="197.2" ry="110.8" fill="#f6ad20"/>
<ellipse rx="191.0" ry="107.3" fill="#f7991e"/>
<ellipse rx="184.5" ry="103.6" fill="#f6891f"/>
<ellipse rx="177.8" ry="99.9" fill="#f57c20"/>
<ellipse rx="170.9" ry="96.0" fill="#f36c22"/>
<ellipse rx="163.6" ry="91.9" fill="#f15824"/>
<ellipse rx="156.0" ry="87.6" fill="#f04b24"/>
<ellipse rx="148.0" ry="83.2" fill="#ef3f25"/>
<ellipse rx="139.6" ry="78.4" fill="#ef3425"/>
<ellipse rx="130.6" ry="73.4" fill="#ee2b26"/>
<ellipse rx="121.0" ry="68.0" fill="#ed2427"/>
<ellipse rx="110.5" ry="62.1" fill="#ed2427"/>
<ellipse rx="98.9" ry="55.6" fill="#ed2327"/>
<ellipse rx="85.8" ry="48.2" fill="#ed2327"/>
<ellipse rx="70.2" ry="39.5" fill="#ed2227"/>
<ellipse rx="50.1" ry="28.1" fill="#ec2227"/>
<ellipse rx="9.0" ry="5.0" fill="#ec2127"/>
<g fill="none" stroke="#1f3a2a" stroke-opacity="0.7" stroke-width="0.75">
<ellipse rx="372.4" ry="209.2"/>
<ellipse rx="346.5" ry="194.6"/>
<ellipse rx="318.5" ry="178.9"/>
<ellipse rx="287.8" ry="161.7"/>
<ellipse rx="253.5" ry="142.4"/>
<ellipse rx="213.6" ry="120.0"/>
<ellipse rx="164.4" ry="92.4"/>
</g></g></g>
<text x="411.9" y="415.1" font-size="15.6" text-anchor="middle">55</text>
<text x="441.7" y="504.6" font-size="15.6" text-anchor="middle">62</text>
<text x="564.4" y="450.9" font-size="15.6" text-anchor="middle">69</text>
<text x="392.0" y="591.4" font-size="15.6" text-anchor="middle">52</text>
<text x="454.1" y="591.5" font-size="15.6" text-anchor="middle">59</text>
<text x="539.6" y="590.5" font-size="15.6" text-anchor="middle">66</text>
<rect x="376.0" y="396.0" width="224.6" height="226.4" fill="none" stroke="#1a1a1a" stroke-width="1.2"/>
<text x="376.0" y="638.1" font-size="15.6" text-anchor="middle">40</text>
<text x="488.3" y="638.1" font-size="15.6" text-anchor="middle">50</text>
<text x="600.6" y="638.1" font-size="15.6" text-anchor="middle">60</text>
<text x="371.0" y="627.1" font-size="15.6" text-anchor="end">0</text>
<text x="371.0" y="513.9" font-size="15.6" text-anchor="end">0.5</text>
<text x="371.0" y="400.7" font-size="15.6" text-anchor="end">1.0</text>
<path d="M488.3,622.4 v-5 M376.0,509.2 h5" stroke="#1a1a1a" stroke-width="1.2" fill="none"/>
<text x="488.3" y="388.0" font-size="15.6" text-anchor="middle">Compressive strength/MPa</text>
<text x="489.8" y="656.4" font-size="15.6" text-anchor="middle">Shaping pressure/MPa</text>
<text x="342.2" y="510.6" font-size="15.6" text-anchor="middle" transform="rotate(-90.0 342.2 510.6)">Alkali activator content/‰</text>
<path d="M58.3,936.9 L173.1,984.6 L288.4,936.6 L173.0,897.3 L58.3,936.9" fill="#595a5e" stroke="none"/>
<path d="M65.2,935.0 L65.5,935.7 L65.8,936.5 L66.1,937.2 L66.5,937.9 L66.9,938.7 L67.3,939.4 L67.8,940.2 L68.3,940.9" fill="none" stroke="#3fb3a8" stroke-width="1.5"/>
<path d="M153.4,976.2 L155.3,976.5 L157.2,976.7 L159.1,976.8 L161.0,977.0 L162.9,977.2 L164.8,977.3 L166.8,977.4 L168.7,977.5 L170.6,977.6 L172.6,977.7 L174.5,977.8 L176.5,977.9 L178.4,977.9 L180.4,977.9 L182.4,978.0 L184.3,978.0 L186.3,978.0 L188.3,977.9" fill="none" stroke="#3fb3a8" stroke-width="1.5"/>
<path d="M83.8,928.2 L83.8,928.8 L83.8,929.4 L83.8,930.0 L83.9,930.6 L84.0,931.3 L84.1,931.9 L84.2,932.5 L84.4,933.1 L84.6,933.7 L84.8,934.4 L85.0,935.0 L85.3,935.6 L85.5,936.2 L85.9,936.8 L86.2,937.5 L86.6,938.1 L86.9,938.7 L87.4,939.3 L87.8,939.9 L88.3,940.5 L88.7,941.2 L89.3,941.8 L89.8,942.4 L90.4,943.0 L90.9,943.6 L91.6,944.2 L92.2,944.8 L92.8,945.4 L93.5,946.0 L94.2,946.5 L95.0,947.1 L95.7,947.7 L96.5,948.3 L97.3,948.9 L98.1,949.4 L99.0,950.0 L99.8,950.5 L100.7,951.1 L101.6,951.6 L102.5,952.2 L103.5,952.7 L104.5,953.3 L105.5,953.8 L106.5,954.3 L107.5,954.8 L108.6,955.3 L109.6,955.8 L110.7,956.3 L111.8,956.8 L113.0,957.3 L114.1,957.8 L115.3,958.3 L116.5,958.7 L117.7,959.2 L118.9,959.6 L120.2,960.1 L121.4,960.5 L122.7,960.9 L124.0,961.3 L125.3,961.7 L126.6,962.1 L127.9,962.5 L129.3,962.9 L130.7,963.3 L132.1,963.6 L133.4,964.0 L134.9,964.3 L136.3,964.7 L137.7,965.0 L139.2,965.3 L140.6,965.6 L142.1,965.9 L143.6,966.2 L145.1,966.5 L146.6,966.7 L148.1,967.0 L149.6,967.2 L151.2,967.5 L152.7,967.7 L154.3,967.9 L155.9,968.1 L157.4,968.3 L159.0,968.5 L160.6,968.7 L162.2,968.8 L163.8,969.0 L165.4,969.1 L167.0,969.2 L168.6,969.4 L170.3,969.5 L171.9,969.6 L173.5,969.6 L175.2,969.7 L176.8,969.8 L178.4,969.8 L180.1,969.9 L181.7,969.9 L183.4,969.9 L185.0,969.9 L186.7,969.9 L188.4,969.9 L190.0,969.8 L191.7,969.8 L193.3,969.7 L195.0,969.7 L196.6,969.6 L198.3,969.5 L199.9,969.4 L201.6,969.3 L203.2,969.2 L204.8,969.0 L206.5,968.9 L208.1,968.8 L209.7,968.6 L211.3,968.4" fill="none" stroke="#52b848" stroke-width="1.5"/>
<path d="M181.9,900.5 L180.6,900.5 L179.4,900.6 L178.1,900.7 L176.9,900.8 L175.6,900.8 L174.4,900.9 L173.1,901.0 L171.9,901.1 L170.6,901.2 L169.4,901.3 L168.2,901.5 L166.9,901.6 L165.7,901.7 L164.5,901.8 L163.3,902.0 L162.1,902.1 L160.9,902.3 L159.7,902.5 L158.6,902.6 L157.4,902.8" fill="none" stroke="#74bb33" stroke-width="1.5"/>
<path d="M115.6,917.1 L115.1,917.5 L114.6,917.9 L114.1,918.4 L113.7,918.8 L113.2,919.2 L112.8,919.6 L112.4,920.1 L112.0,920.5 L111.6,920.9 L111.3,921.4 L110.9,921.8 L110.6,922.3 L110.3,922.7 L110.1,923.2 L109.8,923.6 L109.6,924.1 L109.3,924.5 L109.2,925.0 L109.0,925.5 L108.8,925.9 L108.7,926.4 L108.6,926.9 L108.5,927.3 L108.4,927.8 L108.3,928.3 L108.3,928.7 L108.3,929.2 L108.3,929.7 L108.3,930.1 L108.3,930.6 L108.4,931.1 L108.5,931.6 L108.6,932.0 L108.7,932.5 L108.8,933.0 L109.0,933.4 L109.2,933.9 L109.4,934.4 L109.6,934.9 L109.8,935.3 L110.1,935.8 L110.4,936.3 L110.7,936.7 L111.0,937.2 L111.3,937.7 L111.7,938.1 L112.1,938.6 L112.5,939.1 L112.9,939.5 L113.3,940.0 L113.7,940.4 L114.2,940.9 L114.7,941.3 L115.2,941.8 L115.7,942.2 L116.3,942.7 L116.8,943.1 L117.4,943.5 L118.0,944.0 L118.6,944.4 L119.2,944.8 L119.9,945.3 L120.6,945.7 L121.2,946.1 L121.9,946.5 L122.6,946.9 L123.4,947.3 L124.1,947.7 L124.9,948.1 L125.7,948.5 L126.5,948.9 L127.3,949.3 L128.1,949.6 L128.9,950.0 L129.8,950.4 L130.7,950.7 L131.5,951.1 L132.4,951.4 L133.3,951.8 L134.3,952.1 L135.2,952.5 L136.2,952.8 L137.1,953.1 L138.1,953.4 L139.1,953.7 L140.1,954.0 L141.1,954.3 L142.1,954.6 L143.2,954.9 L144.2,955.2 L145.3,955.4 L146.4,955.7 L147.4,956.0 L148.5,956.2 L149.6,956.5 L150.7,956.7 L151.9,956.9 L153.0,957.1 L154.1,957.3 L155.3,957.6 L156.4,957.8 L157.6,957.9 L158.8,958.1 L160.0,958.3 L161.1,958.5 L162.3,958.6 L163.5,958.8 L164.7,958.9 L166.0,959.0 L167.2,959.2 L168.4,959.3 L169.6,959.4 L170.9,959.5 L172.1,959.6 L173.3,959.7 L174.6,959.8 L175.8,959.8 L177.1,959.9 L178.4,959.9 L179.6,960.0 L180.9,960.0 L182.1,960.0 L183.4,960.1 L184.7,960.1 L185.9,960.1 L187.2,960.1 L188.5,960.1 L189.7,960.0 L191.0,960.0 L192.3,960.0 L193.5,959.9 L194.8,959.9 L196.1,959.8 L197.3,959.7 L198.6,959.6 L199.8,959.5 L201.1,959.4 L202.4,959.3 L203.6,959.2 L204.9,959.1 L206.1,959.0 L207.3,958.8 L208.6,958.7 L209.8,958.5 L211.0,958.4 L212.2,958.2 L213.4,958.0 L214.6,957.8 L215.8,957.6 L217.0,957.4 L218.2,957.2 L219.4,957.0 L220.6,956.8 L221.7,956.5 L222.9,956.3 L224.0,956.1 L225.2,955.8 L226.3,955.5 L227.4,955.3 L228.5,955.0 L229.6,954.7 L230.7,954.4 L231.8,954.1 L232.9,953.8 L233.9,953.5 L235.0,953.2 L236.0,952.9 L237.0,952.6 L238.0,952.2 L239.0,951.9 L240.0,951.5 L241.0,951.2 L242.0,950.8 L242.9,950.5 L243.8,950.1 L244.8,949.7 L245.7,949.4 L246.6,949.0 L247.4,948.6 L248.3,948.2 L249.1,947.8 L250.0,947.4 L250.8,947.0 L251.6,946.6 L252.4,946.2 L253.2,945.8 L253.9,945.3 L254.7,944.9 L255.4,944.5 L256.1,944.1 L256.8,943.6 L257.4,943.2 L258.1,942.7 L258.7,942.3 L259.4,941.9 L260.0,941.4 L260.6,940.9 L261.1,940.5 L261.7,940.0 L262.2,939.6 L262.7,939.1 L263.2,938.7 L263.7,938.2 L264.1,937.7 L264.6,937.2 L265.0,936.8 L265.4,936.3 L265.8,935.8 L266.2,935.4 L266.5,934.9 L266.8,934.4 L267.1,933.9 L267.4,933.5 L267.7,933.0 L267.9,932.5 L268.2,932.0 L268.4,931.6 L268.6,931.1 L268.7,930.6 L268.9,930.1" fill="none" stroke="#74bb33" stroke-width="1.5"/>
<path d="M220.2,917.2 L219.8,917.1 L219.3,916.9 L218.8,916.8 L218.2,916.6 L217.7,916.4 L217.2,916.3 L216.7,916.2 L216.1,916.0 L215.6,915.9 L215.0,915.7 L214.5,915.6 L213.9,915.5 L213.3,915.3 L212.7,915.2 L212.2,915.1 L211.6,915.0 L211.0,914.9 L210.4,914.8 L209.8,914.6 L209.2,914.5 L208.5,914.4 L207.9,914.3 L207.3,914.3 L206.7,914.2 L206.0,914.1 L205.4,914.0 L204.7,913.9 L204.1,913.8 L203.4,913.8 L202.8,913.7 L202.1,913.6 L201.5,913.6 L200.8,913.5 L200.1,913.5 L199.5,913.4 L198.8,913.4 L198.1,913.3 L197.4,913.3 L196.7,913.3 L196.1,913.2 L195.4,913.2 L194.7,913.2 L194.0,913.1 L193.3,913.1 L192.6,913.1 L191.9,913.1 L191.2,913.1 L190.6,913.1 L189.9,913.1 L189.2,913.1 L188.5,913.1 L187.8,913.1 L187.1,913.2 L186.4,913.2 L185.7,913.2 L185.0,913.2 L184.3,913.3 L183.6,913.3 L182.9,913.3 L182.3,913.4 L181.6,913.4 L180.9,913.5 L180.2,913.5 L179.5,913.6 L178.9,913.7 L178.2,913.7 L177.5,913.8 L176.8,913.9 L176.2,913.9 L175.5,914.0 L174.9,914.1 L174.2,914.2 L173.5,914.3 L172.9,914.4 L172.3,914.5 L171.6,914.6 L171.0,914.7 L170.3,914.8 L169.7,914.9 L169.1,915.0 L168.5,915.1 L167.9,915.3 L167.3,915.4 L166.7,915.5 L166.1,915.6 L165.5,915.8 L164.9,915.9 L164.3,916.1 L163.7,916.2 L163.2,916.3 L162.6,916.5 L162.1,916.6 L161.5,916.8 L161.0,917.0 L160.4,917.1 L159.9,917.3 L159.4,917.5 L158.9,917.6 L158.4,917.8 L157.9,918.0 L157.4,918.2 L156.9,918.3 L156.4,918.5 L156.0,918.7 L155.5,918.9 L155.1,919.1 L154.6,919.3 L154.2,919.5 L153.8,919.7 L153.3,919.9 L152.9,920.1 L152.5,920.3 L152.1,920.5 L151.8,920.7 L151.4,921.0 L151.0,921.2 L150.7,921.4 L150.3,921.6 L150.0,921.8 L149.7,922.1 L149.4,922.3 L149.1,922.5 L148.8,922.7 L148.5,923.0 L148.2,923.2 L147.9,923.4 L147.7,923.7 L147.4,923.9 L147.2,924.2 L147.0,924.4 L146.8,924.6 L146.6,924.9 L146.4,925.1 L146.2,925.4 L146.0,925.6 L145.9,925.9 L145.7,926.1 L145.6,926.4 L145.4,926.6 L145.3,926.9 L145.2,927.1 L145.1,927.4 L145.0,927.6 L145.0,927.9 L144.9,928.1 L144.8,928.4 L144.8,928.7 L144.8,928.9 L144.8,929.2 L144.7,929.4 L144.7,929.7 L144.8,929.9 L144.8,930.2 L144.8,930.5 L144.9,930.7 L144.9,931.0 L145.0,931.2 L145.1,931.5 L145.1,931.7 L145.2,932.0 L145.4,932.3 L145.5,932.5 L145.6,932.8 L145.7,933.0 L145.9,933.3 L146.1,933.5 L146.2,933.8 L146.4,934.0 L146.6,934.3 L146.8,934.5 L147.0,934.8 L147.3,935.0 L147.5,935.3 L147.7,935.5 L148.0,935.7 L148.3,936.0 L148.5,936.2 L148.8,936.5 L149.1,936.7 L149.4,936.9 L149.7,937.2 L150.1,937.4 L150.4,937.6 L150.7,937.8 L151.1,938.1 L151.5,938.3 L151.8,938.5 L152.2,938.7 L152.6,938.9 L153.0,939.2 L153.4,939.4 L153.8,939.6 L154.3,939.8 L154.7,940.0 L155.1,940.2 L155.6,940.4 L156.0,940.6 L156.5,940.8 L157.0,941.0 L157.5,941.1 L158.0,941.3 L158.5,941.5 L159.0,941.7 L159.5,941.9 L160.0,942.0 L160.5,942.2 L161.1,942.4 L161.6,942.5 L162.2,942.7 L162.7,942.8 L163.3,943.0 L163.8,943.1 L164.4,943.3 L165.0,943.4 L165.6,943.5 L166.2,943.7 L166.8,943.8 L167.4,943.9 L168.0,944.1 L168.6,944.2 L169.2,944.3 L169.8,944.4 L170.5,944.5 L171.1,944.6 L171.7,944.7 L172.4,944.8 L173.0,944.9 L173.7,945.0 L174.3,945.1 L175.0,945.1 L175.6,945.2 L176.3,945.3 L177.0,945.3 L177.6,945.4 L178.3,945.5 L179.0,945.5 L179.7,945.6 L180.3,945.6 L181.0,945.6 L181.7,945.7 L182.4,945.7 L183.1,945.7 L183.8,945.8 L184.5,945.8 L185.1,945.8 L185.8,945.8 L186.5,945.8 L187.2,945.8 L187.9,945.8 L188.6,945.8 L189.3,945.8 L190.0,945.8 L190.7,945.7 L191.4,945.7 L192.1,945.7 L192.8,945.6 L193.5,945.6 L194.1,945.6 L194.8,945.5 L195.5,945.5 L196.2,945.4 L196.9,945.3 L197.6,945.3 L198.2,945.2 L198.9,945.1 L199.6,945.1 L200.3,945.0 L200.9,944.9 L201.6,944.8 L202.3,944.7 L202.9,944.6 L203.6,944.5 L204.2,944.4 L204.9,944.3 L205.5,944.2 L206.1,944.1 L206.8,944.0 L207.4,943.8 L208.0,943.7 L208.7,943.6 L209.3,943.4 L209.9,943.3 L210.5,943.1 L211.1,943.0 L211.7,942.9 L212.3,942.7 L212.9,942.5 L213.4,942.4 L214.0,942.2 L214.6,942.0 L215.1,941.9 L215.7,941.7 L216.2,941.5 L216.8,941.3 L217.3,941.2 L217.8,941.0 L218.3,940.8 L218.9,940.6 L219.4,940.4 L219.8,940.2 L220.3,940.0 L220.8,939.8 L221.3,939.6 L221.7,939.4 L222.2,939.2 L222.7,939.0 L223.1,938.7 L223.5,938.5 L223.9,938.3 L224.4,938.1 L224.8,937.9 L225.2,937.6 L225.5,937.4 L225.9,937.2 L226.3,936.9 L226.6,936.7 L227.0,936.5 L227.3,936.2 L227.7,936.0 L228.0,935.8 L228.3,935.5 L228.6,935.3 L228.9,935.0 L229.2,934.8 L229.4,934.5 L229.7,934.3 L229.9,934.0 L230.2,933.8 L230.4,933.5 L230.6,933.3 L230.8,933.0 L231.0,932.8 L231.2,932.5 L231.4,932.3 L231.6,932.0 L231.7,931.7 L231.9,931.5 L232.0,931.2 L232.1,931.0 L232.2,930.7 L232.3,930.4 L232.4,930.2 L232.5,929.9 L232.6,929.7 L232.6,929.4 L232.7,929.2 L232.7,928.9 L232.8,928.6 L232.8,928.4 L232.8,928.1 L232.8,927.9 L232.8,927.6 L232.7,927.4 L232.7,927.1 L232.6,926.8 L232.6,926.6 L232.5,926.3 L232.4,926.1 L232.3,925.8 L232.2,925.6 L232.1,925.3 L232.0,925.1 L231.8,924.8 L231.7,924.6 L231.5,924.4 L231.4,924.1 L231.2,923.9 L231.0,923.6 L230.8,923.4 L230.6,923.2 L230.4,922.9 L230.1,922.7 L229.9,922.5 L229.6,922.2 L229.4,922.0 L229.1,921.8 L228.8,921.6 L228.5,921.3 L228.2,921.1 L227.9,920.9 L227.6,920.7 L227.3,920.5 L226.9,920.3 L226.6,920.1 L226.2,919.9 L225.8,919.6 L225.5,919.4 L225.1,919.3 L224.7,919.1 L224.3,918.9 L223.9,918.7 L223.4,918.5 L223.0,918.3 L222.6,918.1 L222.1,917.9 L221.7,917.8 L221.2,917.6 L220.7,917.4 L220.2,917.2" fill="none" stroke="#c9a227" stroke-width="1.5"/>
<g stroke="#666" stroke-width="0.7"><path d="M56.7,897.9 L173.0,863.1 L289.7,897.8" fill="none"/><path d="M55.7,873.4 L173.0,841.6 L290.5,873.5" fill="none"/><path d="M54.7,848.9 L173.0,820.1 L291.3,849.1" fill="none"/><path d="M53.7,824.5 L173.0,798.6 L292.1,824.8" fill="none"/><path d="M52.7,800.0 L173.0,777.2 L292.9,800.4" fill="none"/><path d="M51.7,775.5 L173.0,755.7 L293.7,776.1" fill="none"/><path d="M85.8,889.2 L82.0,770.5" fill="none"/><path d="M114.9,880.5 L112.3,765.6" fill="none"/><path d="M143.9,871.8 L142.7,760.7" fill="none"/><path d="M231.3,880.4 L233.3,765.9" fill="none"/><path d="M173.0,863.1 L173.0,755.7" fill="none"/></g>
<g stroke="#151515" stroke-width="1.15" stroke-linejoin="miter"><path d="M58.3,936.9 L51.7,775.5 L173.0,755.7 L293.7,776.1 L288.4,936.6" fill="none"/><path d="M58.3,936.9 L173.1,984.6 L288.4,936.6" fill="none"/><path d="M56.7,897.9 L60.2,896.8" fill="none"/><path d="M55.7,873.4 L59.2,872.5" fill="none"/><path d="M54.7,848.9 L58.3,848.1" fill="none"/><path d="M53.7,824.5 L57.3,823.7" fill="none"/><path d="M52.7,800.0 L56.3,799.3" fill="none"/><path d="M51.7,775.5 L55.3,774.9" fill="none"/><path d="M201.9,972.6 L197.9,971.0" fill="none"/><path d="M230.8,960.6 L226.7,959.1" fill="none"/><path d="M259.6,948.6 L255.5,947.2" fill="none"/><path d="M115.7,960.8 L119.7,959.2" fill="none"/></g>

<g stroke="#1a2a1a" stroke-opacity="0.68" stroke-width="0.62" stroke-linejoin="round"><path d="M173.0,811.3 L178.9,812.2 L173.0,814.2 L167.1,813.4Z" fill="#83cc34"/><path d="M167.0,810.7 L173.0,811.3 L167.1,813.4 L161.1,812.9Z" fill="#95d135"/><path d="M178.9,809.5 L184.9,810.4 L178.9,812.2 L173.0,811.3Z" fill="#a0d436"/><path d="M161.1,810.6 L167.0,810.7 L161.1,812.9 L155.2,812.7Z" fill="#a4d536"/><path d="M173.0,809.0 L178.9,809.5 L173.0,811.3 L167.0,810.7Z" fill="#b4d937"/><path d="M184.9,808.2 L190.8,809.1 L184.9,810.4 L178.9,809.5Z" fill="#bcdb37"/><path d="M155.1,810.8 L161.1,810.6 L155.2,812.7 L149.2,812.9Z" fill="#b1d836"/><path d="M167.0,808.8 L173.0,809.0 L167.0,810.7 L161.1,810.6Z" fill="#c4dd37"/><path d="M178.9,807.6 L184.9,808.2 L178.9,809.5 L173.0,809.0Z" fill="#d0e038"/><path d="M190.8,807.2 L196.8,808.1 L190.8,809.1 L184.9,808.2Z" fill="#d3e138"/><path d="M149.2,811.4 L155.1,810.8 L149.2,812.9 L143.3,813.5Z" fill="#badb37"/><path d="M161.1,809.0 L167.0,808.8 L161.1,810.6 L155.1,810.8Z" fill="#d1e038"/><path d="M173.0,807.4 L178.9,807.6 L173.0,809.0 L167.0,808.8Z" fill="#dde337"/><path d="M184.9,806.6 L190.8,807.2 L184.9,808.2 L178.9,807.6Z" fill="#e4e437"/><path d="M196.8,806.6 L202.8,807.6 L196.8,808.1 L190.8,807.2Z" fill="#e4e437"/><path d="M143.2,812.3 L149.2,811.4 L143.3,813.5 L137.3,814.5Z" fill="#bfdc37"/><path d="M155.1,809.6 L161.1,809.0 L155.1,810.8 L149.2,811.4Z" fill="#d8e237"/><path d="M167.0,807.6 L173.0,807.4 L167.0,808.8 L161.1,809.0Z" fill="#e8e437"/><path d="M178.9,806.4 L184.9,806.6 L178.9,807.6 L173.0,807.4Z" fill="#f0e536"/><path d="M190.9,806.0 L196.8,806.6 L190.8,807.2 L184.9,806.6Z" fill="#f1e234"/><path d="M202.8,806.4 L208.7,807.4 L202.8,807.6 L196.8,806.6Z" fill="#f0e536"/><path d="M137.3,813.7 L143.2,812.3 L137.3,814.5 L131.4,815.9Z" fill="#c1dc37"/><path d="M149.1,810.6 L155.1,809.6 L149.2,811.4 L143.2,812.3Z" fill="#dde237"/><path d="M161.1,808.2 L167.0,807.6 L161.1,809.0 L155.1,809.6Z" fill="#efe636"/><path d="M173.0,806.6 L178.9,806.4 L173.0,807.4 L167.0,807.6Z" fill="#f2da31"/><path d="M184.9,805.8 L190.9,806.0 L184.9,806.6 L178.9,806.4Z" fill="#f4d32f"/><path d="M196.8,805.8 L202.8,806.4 L196.8,806.6 L190.9,806.0Z" fill="#f4d32f"/><path d="M208.8,806.6 L214.7,807.6 L208.7,807.4 L202.8,806.4Z" fill="#f2da31"/><path d="M131.3,815.5 L137.3,813.7 L131.4,815.9 L125.4,817.7Z" fill="#bfdc37"/><path d="M143.2,811.9 L149.1,810.6 L143.2,812.3 L137.3,813.7Z" fill="#dee337"/><path d="M155.1,809.2 L161.1,808.2 L155.1,809.6 L149.1,810.6Z" fill="#f1e235"/><path d="M167.0,807.2 L173.0,806.6 L167.0,807.6 L161.1,808.2Z" fill="#f4d22e"/><path d="M178.9,806.0 L184.9,805.8 L178.9,806.4 L173.0,806.6Z" fill="#f6c82a"/><path d="M190.9,805.6 L196.8,805.8 L190.9,806.0 L184.9,805.8Z" fill="#f6c429"/><path d="M202.8,806.0 L208.8,806.6 L202.8,806.4 L196.8,805.8Z" fill="#f6c92a"/><path d="M214.7,807.2 L220.6,808.2 L214.7,807.6 L208.8,806.6Z" fill="#f4d32e"/><path d="M125.4,817.7 L131.3,815.5 L125.4,817.7 L119.5,819.9Z" fill="#b9da37"/><path d="M137.2,813.7 L143.2,811.9 L137.3,813.7 L131.3,815.5Z" fill="#dce237"/><path d="M149.1,810.5 L155.1,809.2 L149.1,810.6 L143.2,811.9Z" fill="#f1e134"/><path d="M161.0,808.2 L167.0,807.2 L161.1,808.2 L155.1,809.2Z" fill="#f5cd2c"/><path d="M173.0,806.6 L178.9,806.0 L173.0,806.6 L167.0,807.2Z" fill="#f6bd28"/><path d="M184.9,805.8 L190.9,805.6 L184.9,805.8 L178.9,806.0Z" fill="#f6b427"/><path d="M196.9,805.8 L202.8,806.0 L196.8,805.8 L190.9,805.6Z" fill="#f6b427"/><path d="M208.8,806.7 L214.7,807.2 L208.8,806.6 L202.8,806.0Z" fill="#f6bf29"/><path d="M220.7,808.3 L226.6,809.2 L220.6,808.2 L214.7,807.2Z" fill="#f5cf2d"/><path d="M119.5,820.3 L125.4,817.7 L119.5,819.9 L113.6,822.5Z" fill="#afd836"/><path d="M131.3,815.9 L137.2,813.7 L131.3,815.5 L125.4,817.7Z" fill="#d7e138"/><path d="M143.2,812.3 L149.1,810.5 L143.2,811.9 L137.2,813.7Z" fill="#f1e335"/><path d="M155.1,809.5 L161.0,808.2 L155.1,809.2 L149.1,810.5Z" fill="#f5cc2c"/><path d="M167.0,807.6 L173.0,806.6 L167.0,807.2 L161.0,808.2Z" fill="#f6b627"/><path d="M178.9,806.4 L184.9,805.8 L178.9,806.0 L173.0,806.6Z" fill="#f6a825"/><path d="M190.9,806.0 L196.9,805.8 L190.9,805.6 L184.9,805.8Z" fill="#f6a425"/><path d="M202.8,806.5 L208.8,806.7 L202.8,806.0 L196.9,805.8Z" fill="#f6aa25"/><path d="M214.8,807.7 L220.7,808.3 L214.7,807.2 L208.8,806.7Z" fill="#f6b928"/><path d="M226.6,809.8 L232.6,810.7 L226.6,809.2 L220.7,808.3Z" fill="#f5cf2d"/><path d="M113.6,823.3 L119.5,820.3 L113.6,822.5 L107.7,825.5Z" fill="#a2d436"/><path d="M125.4,818.5 L131.3,815.9 L125.4,817.7 L119.5,820.3Z" fill="#cfe038"/><path d="M137.2,814.5 L143.2,812.3 L137.2,813.7 L131.3,815.9Z" fill="#eee636"/><path d="M149.1,811.3 L155.1,809.5 L149.1,810.5 L143.2,812.3Z" fill="#f5ce2c"/><path d="M161.0,809.0 L167.0,807.6 L161.0,808.2 L155.1,809.5Z" fill="#f6b427"/><path d="M173.0,807.4 L178.9,806.4 L173.0,806.6 L167.0,807.6Z" fill="#f6a124"/><path d="M184.9,806.6 L190.9,806.0 L184.9,805.8 L178.9,806.4Z" fill="#f69a24"/><path d="M196.9,806.7 L202.8,806.5 L196.9,805.8 L190.9,806.0Z" fill="#f69a24"/><path d="M208.8,807.5 L214.8,807.7 L208.8,806.7 L202.8,806.5Z" fill="#f6a425"/><path d="M220.7,809.2 L226.6,809.8 L220.7,808.3 L214.8,807.7Z" fill="#f6b828"/><path d="M232.6,811.7 L238.5,812.6 L232.6,810.7 L226.6,809.8Z" fill="#f4d22e"/><path d="M107.7,826.8 L113.6,823.3 L107.7,825.5 L101.8,829.0Z" fill="#93d035"/><path d="M119.4,821.6 L125.4,818.5 L119.5,820.3 L113.6,823.3Z" fill="#c2dc37"/><path d="M131.3,817.2 L137.2,814.5 L131.3,815.9 L125.4,818.5Z" fill="#e6e437"/><path d="M143.2,813.5 L149.1,811.3 L143.2,812.3 L137.2,814.5Z" fill="#f4d32e"/><path d="M155.1,810.7 L161.0,809.0 L155.1,809.5 L149.1,811.3Z" fill="#f6b727"/><path d="M167.0,808.8 L173.0,807.4 L167.0,807.6 L161.0,809.0Z" fill="#f6a024"/><path d="M179.0,807.6 L184.9,806.6 L178.9,806.4 L173.0,807.4Z" fill="#f59424"/><path d="M190.9,807.3 L196.9,806.7 L190.9,806.0 L184.9,806.6Z" fill="#f59024"/><path d="M202.9,807.7 L208.8,807.5 L202.8,806.5 L196.9,806.7Z" fill="#f59524"/><path d="M214.8,809.0 L220.7,809.2 L214.8,807.7 L208.8,807.5Z" fill="#f6a325"/><path d="M226.7,811.1 L232.6,811.7 L226.6,809.8 L220.7,809.2Z" fill="#f6bd28"/><path d="M238.5,814.0 L244.4,814.9 L238.5,812.6 L232.6,811.7Z" fill="#f3d831"/><path d="M101.8,830.7 L107.7,826.8 L101.8,829.0 L95.9,832.9Z" fill="#81cb34"/><path d="M113.5,825.1 L119.4,821.6 L113.6,823.3 L107.7,826.8Z" fill="#b1d836"/><path d="M125.3,820.2 L131.3,817.2 L125.4,818.5 L119.4,821.6Z" fill="#dbe237"/><path d="M137.2,816.2 L143.2,813.5 L137.2,814.5 L131.3,817.2Z" fill="#f2db32"/><path d="M149.1,813.0 L155.1,810.7 L149.1,811.3 L143.2,813.5Z" fill="#f6be29"/><path d="M161.0,810.6 L167.0,808.8 L161.0,809.0 L155.1,810.7Z" fill="#f6a224"/><path d="M173.0,809.0 L179.0,807.6 L173.0,807.4 L167.0,808.8Z" fill="#f59224"/><path d="M184.9,808.3 L190.9,807.3 L184.9,806.6 L179.0,807.6Z" fill="#f58a24"/><path d="M196.9,808.3 L202.9,807.7 L196.9,806.7 L190.9,807.3Z" fill="#f58b24"/><path d="M208.8,809.2 L214.8,809.0 L208.8,807.5 L202.9,807.7Z" fill="#f59524"/><path d="M220.7,810.9 L226.7,811.1 L220.7,809.2 L214.8,809.0Z" fill="#f6a825"/><path d="M232.6,813.5 L238.5,814.0 L232.6,811.7 L226.7,811.1Z" fill="#f6c62a"/><path d="M244.5,816.8 L250.4,817.7 L244.4,814.9 L238.5,814.0Z" fill="#f1e235"/><path d="M95.9,835.1 L101.8,830.7 L95.9,832.9 L90.1,837.2Z" fill="#72c837"/><path d="M107.6,829.0 L113.5,825.1 L107.7,826.8 L101.8,830.7Z" fill="#9dd335"/><path d="M119.4,823.7 L125.3,820.2 L119.4,821.6 L113.5,825.1Z" fill="#cddf38"/><path d="M131.3,819.3 L137.2,816.2 L131.3,817.2 L125.3,820.2Z" fill="#efe636"/><path d="M143.2,815.6 L149.1,813.0 L143.2,813.5 L137.2,816.2Z" fill="#f6ca2b"/><path d="M155.1,812.8 L161.0,810.6 L155.1,810.7 L149.1,813.0Z" fill="#f6aa25"/><path d="M167.0,810.8 L173.0,809.0 L167.0,808.8 L161.0,810.6Z" fill="#f59424"/><path d="M179.0,809.7 L184.9,808.3 L179.0,807.6 L173.0,809.0Z" fill="#f58924"/><path d="M190.9,809.3 L196.9,808.3 L190.9,807.3 L184.9,808.3Z" fill="#f58624"/><path d="M202.9,809.8 L208.8,809.2 L202.9,807.7 L196.9,808.3Z" fill="#f58b24"/><path d="M214.8,811.2 L220.7,810.9 L214.8,809.0 L208.8,809.2Z" fill="#f69924"/><path d="M226.7,813.3 L232.6,813.5 L226.7,811.1 L220.7,810.9Z" fill="#f6b127"/><path d="M238.6,816.3 L244.5,816.8 L238.5,814.0 L232.6,813.5Z" fill="#f4d12d"/><path d="M250.4,820.1 L256.3,821.0 L250.4,817.7 L244.5,816.8Z" fill="#e7e437"/><path d="M90.1,840.0 L95.9,835.1 L90.1,837.2 L84.3,842.1Z" fill="#6ac63f"/><path d="M101.8,833.4 L107.6,829.0 L101.8,830.7 L95.9,835.1Z" fill="#86cd34"/><path d="M113.5,827.7 L119.4,823.7 L113.5,825.1 L107.6,829.0Z" fill="#b8da37"/><path d="M125.4,822.8 L131.3,819.3 L125.3,820.2 L119.4,823.7Z" fill="#e1e337"/><path d="M137.2,818.7 L143.2,815.6 L137.2,816.2 L131.3,819.3Z" fill="#f3d62f"/><path d="M149.1,815.5 L155.1,812.8 L149.1,813.0 L143.2,815.6Z" fill="#f6b627"/><path d="M161.0,813.1 L167.0,810.8 L161.0,810.6 L155.1,812.8Z" fill="#f69b24"/><path d="M173.0,811.5 L179.0,809.7 L173.0,809.0 L167.0,810.8Z" fill="#f58b24"/><path d="M185.0,810.8 L190.9,809.3 L184.9,808.3 L179.0,809.7Z" fill="#f58424"/><path d="M196.9,810.9 L202.9,809.8 L196.9,808.3 L190.9,809.3Z" fill="#f58524"/><path d="M208.8,811.8 L214.8,811.2 L208.8,809.2 L202.9,809.8Z" fill="#f58f24"/><path d="M220.8,813.6 L226.7,813.3 L220.7,810.9 L214.8,811.2Z" fill="#f6a124"/><path d="M232.6,816.1 L238.6,816.3 L232.6,813.5 L226.7,813.3Z" fill="#f6c029"/><path d="M244.5,819.6 L250.4,820.1 L244.5,816.8 L238.6,816.3Z" fill="#f2de33"/><path d="M256.3,823.8 L262.2,824.7 L256.3,821.0 L250.4,820.1Z" fill="#d7e138"/><path d="M84.3,845.3 L90.1,840.0 L84.3,842.1 L78.5,847.4Z" fill="#68c64b"/><path d="M95.9,838.3 L101.8,833.4 L95.9,835.1 L90.1,840.0Z" fill="#74c837"/><path d="M107.7,832.1 L113.5,827.7 L107.6,829.0 L101.8,833.4Z" fill="#a0d436"/><path d="M119.4,826.7 L125.4,822.8 L119.4,823.7 L113.5,827.7Z" fill="#d0e038"/><path d="M131.3,822.2 L137.2,818.7 L131.3,819.3 L125.4,822.8Z" fill="#f0e535"/><path d="M143.2,818.6 L149.1,815.5 L143.2,815.6 L137.2,818.7Z" fill="#f6c72a"/><path d="M155.1,815.8 L161.0,813.1 L155.1,812.8 L149.1,815.5Z" fill="#f6a625"/><path d="M167.0,813.8 L173.0,811.5 L167.0,810.8 L161.0,813.1Z" fill="#f59224"/><path d="M179.0,812.6 L185.0,810.8 L179.0,809.7 L173.0,811.5Z" fill="#f58624"/><path d="M190.9,812.3 L196.9,810.9 L190.9,809.3 L185.0,810.8Z" fill="#f48324"/><path d="M202.9,812.9 L208.8,811.8 L202.9,809.8 L196.9,810.9Z" fill="#f58924"/><path d="M214.8,814.2 L220.8,813.6 L214.8,811.2 L208.8,811.8Z" fill="#f69724"/><path d="M226.7,816.4 L232.6,816.1 L226.7,813.3 L220.8,813.6Z" fill="#f6af26"/><path d="M238.6,819.4 L244.5,819.6 L238.6,816.3 L232.6,816.1Z" fill="#f4d02d"/><path d="M250.4,823.3 L256.3,823.8 L250.4,820.1 L244.5,819.6Z" fill="#e8e437"/><path d="M262.2,828.0 L268.0,828.9 L262.2,824.7 L256.3,823.8Z" fill="#c2dc37"/><path d="M78.5,851.1 L84.3,845.3 L78.5,847.4 L72.7,853.1Z" fill="#65c75e"/><path d="M90.1,843.6 L95.9,838.3 L90.1,840.0 L84.3,845.3Z" fill="#6ac63f"/><path d="M101.8,837.0 L107.7,832.1 L101.8,833.4 L95.9,838.3Z" fill="#86cd34"/><path d="M113.6,831.2 L119.4,826.7 L113.5,827.7 L107.7,832.1Z" fill="#b7da37"/><path d="M125.4,826.2 L131.3,822.2 L125.4,822.8 L119.4,826.7Z" fill="#e0e337"/><path d="M137.2,822.1 L143.2,818.6 L137.2,818.7 L131.3,822.2Z" fill="#f3d630"/><path d="M149.1,818.9 L155.1,815.8 L149.1,815.5 L143.2,818.6Z" fill="#f6b728"/><path d="M161.1,816.5 L167.0,813.8 L161.0,813.1 L155.1,815.8Z" fill="#f69c24"/><path d="M173.0,814.9 L179.0,812.6 L173.0,811.5 L167.0,813.8Z" fill="#f58d24"/><path d="M185.0,814.2 L190.9,812.3 L185.0,810.8 L179.0,812.6Z" fill="#f58624"/><path d="M196.9,814.3 L202.9,812.9 L196.9,810.9 L190.9,812.3Z" fill="#f58724"/><path d="M208.8,815.3 L214.8,814.2 L208.8,811.8 L202.9,812.9Z" fill="#f59124"/><path d="M220.8,817.1 L226.7,816.4 L220.8,813.6 L214.8,814.2Z" fill="#f6a425"/><path d="M232.6,819.7 L238.6,819.4 L232.6,816.1 L226.7,816.4Z" fill="#f6c329"/><path d="M244.5,823.2 L250.4,823.3 L244.5,819.6 L238.6,819.4Z" fill="#f1e034"/><path d="M256.3,827.5 L262.2,828.0 L256.3,823.8 L250.4,823.3Z" fill="#d5e138"/><path d="M268.0,832.7 L273.9,833.5 L268.0,828.9 L262.2,828.0Z" fill="#a7d636"/><path d="M72.8,857.3 L78.5,851.1 L72.7,853.1 L67.0,859.4Z" fill="#62c878"/><path d="M84.3,849.4 L90.1,843.6 L84.3,845.3 L78.5,851.1Z" fill="#67c64d"/><path d="M96.0,842.3 L101.8,837.0 L95.9,838.3 L90.1,843.6Z" fill="#72c737"/><path d="M107.7,836.1 L113.6,831.2 L107.7,832.1 L101.8,837.0Z" fill="#9cd335"/><path d="M119.5,830.7 L125.4,826.2 L119.4,826.7 L113.6,831.2Z" fill="#ccdf38"/><path d="M131.3,826.2 L137.2,822.1 L131.3,822.2 L125.4,826.2Z" fill="#eee636"/><path d="M143.2,822.5 L149.1,818.9 L143.2,818.6 L137.2,822.1Z" fill="#f5cc2b"/><path d="M155.1,819.6 L161.1,816.5 L155.1,815.8 L149.1,818.9Z" fill="#f6ad26"/><path d="M167.0,817.7 L173.0,814.9 L167.0,813.8 L161.1,816.5Z" fill="#f69824"/><path d="M179.0,816.5 L185.0,814.2 L179.0,812.6 L173.0,814.9Z" fill="#f58c24"/><path d="M190.9,816.2 L196.9,814.3 L190.9,812.3 L185.0,814.2Z" fill="#f58a24"/><path d="M202.9,816.8 L208.8,815.3 L202.9,812.9 L196.9,814.3Z" fill="#f58f24"/><path d="M214.8,818.2 L220.8,817.1 L214.8,814.2 L208.8,815.3Z" fill="#f69e24"/><path d="M226.7,820.4 L232.6,819.7 L226.7,816.4 L220.8,817.1Z" fill="#f6b728"/><path d="M238.6,823.5 L244.5,823.2 L238.6,819.4 L232.6,819.7Z" fill="#f3d52f"/><path d="M250.4,827.5 L256.3,827.5 L250.4,823.3 L244.5,823.2Z" fill="#e2e337"/><path d="M262.1,832.3 L268.0,832.7 L262.2,828.0 L256.3,827.5Z" fill="#bbdb37"/><path d="M273.8,837.9 L279.7,838.7 L273.9,833.5 L268.0,832.7Z" fill="#8ace34"/><path d="M67.1,864.1 L72.8,857.3 L67.0,859.4 L61.3,866.1Z" fill="#62cb92"/><path d="M78.6,855.7 L84.3,849.4 L78.5,851.1 L72.8,857.3Z" fill="#64c763"/><path d="M90.2,848.2 L96.0,842.3 L90.1,843.6 L84.3,849.4Z" fill="#6ac642"/><path d="M101.9,841.5 L107.7,836.1 L101.8,837.0 L96.0,842.3Z" fill="#80cb35"/><path d="M113.6,835.6 L119.5,830.7 L113.6,831.2 L107.7,836.1Z" fill="#afd836"/><path d="M125.4,830.7 L131.3,826.2 L125.4,826.2 L119.5,830.7Z" fill="#dae237"/><path d="M137.3,826.5 L143.2,822.5 L137.2,822.1 L131.3,826.2Z" fill="#f2de33"/><path d="M149.2,823.3 L155.1,819.6 L149.1,818.9 L143.2,822.5Z" fill="#f6c329"/><path d="M161.1,820.8 L167.0,817.7 L161.1,816.5 L155.1,819.6Z" fill="#f6a725"/><path d="M173.0,819.3 L179.0,816.5 L173.0,814.9 L167.0,817.7Z" fill="#f69724"/><path d="M185.0,818.6 L190.9,816.2 L185.0,814.2 L179.0,816.5Z" fill="#f59024"/><path d="M196.9,818.7 L202.9,816.8 L196.9,814.3 L190.9,816.2Z" fill="#f59224"/><path d="M208.9,819.7 L214.8,818.2 L208.8,815.3 L202.9,816.8Z" fill="#f69c24"/><path d="M220.8,821.6 L226.7,820.4 L220.8,817.1 L214.8,818.2Z" fill="#f6b127"/><path d="M232.6,824.3 L238.6,823.5 L232.6,819.7 L226.7,820.4Z" fill="#f5cd2c"/><path d="M244.5,827.8 L250.4,827.5 L244.5,823.2 L238.6,823.5Z" fill="#ede536"/><path d="M256.3,832.2 L262.1,832.3 L256.3,827.5 L250.4,827.5Z" fill="#ccdf38"/><path d="M268.0,837.5 L273.8,837.9 L268.0,832.7 L262.1,832.3Z" fill="#9dd335"/><path d="M279.7,843.5 L285.5,844.3 L279.7,838.7 L273.8,837.9Z" fill="#73c837"/><path d="M61.4,871.4 L67.1,864.1 L61.3,866.1 L55.7,873.3Z" fill="#62cdac"/><path d="M72.9,862.5 L78.6,855.7 L72.8,857.3 L67.1,864.1Z" fill="#62c97e"/><path d="M84.4,854.5 L90.2,848.2 L84.3,849.4 L78.6,855.7Z" fill="#66c651"/><path d="M96.0,847.3 L101.9,841.5 L96.0,842.3 L90.2,848.2Z" fill="#6cc639"/><path d="M107.8,841.0 L113.6,835.6 L107.7,836.1 L101.9,841.5Z" fill="#91d035"/><path d="M119.5,835.6 L125.4,830.7 L119.5,830.7 L113.6,835.6Z" fill="#bfdc37"/><path d="M131.4,831.0 L137.3,826.5 L131.3,826.2 L125.4,830.7Z" fill="#e4e437"/><path d="M143.2,827.3 L149.2,823.3 L143.2,822.5 L137.3,826.5Z" fill="#f3d730"/><path d="M155.1,824.5 L161.1,820.8 L155.1,819.6 L149.2,823.3Z" fill="#f6bd28"/><path d="M167.1,822.5 L173.0,819.3 L167.0,817.7 L161.1,820.8Z" fill="#f6a725"/><path d="M179.0,821.4 L185.0,818.6 L179.0,816.5 L173.0,819.3Z" fill="#f69b24"/><path d="M191.0,821.1 L196.9,818.7 L190.9,816.2 L185.0,818.6Z" fill="#f69824"/><path d="M202.9,821.7 L208.9,819.7 L202.9,816.8 L196.9,818.7Z" fill="#f69e24"/><path d="M214.8,823.1 L220.8,821.6 L214.8,818.2 L208.9,819.7Z" fill="#f6af26"/><path d="M226.7,825.4 L232.6,824.3 L226.7,820.4 L220.8,821.6Z" fill="#f6c92a"/><path d="M238.5,828.6 L244.5,827.8 L238.6,823.5 L232.6,824.3Z" fill="#f1e234"/><path d="M250.4,832.6 L256.3,832.2 L250.4,827.5 L244.5,827.8Z" fill="#d7e138"/><path d="M262.1,837.5 L268.0,837.5 L262.1,832.3 L256.3,832.2Z" fill="#acd736"/><path d="M273.8,843.2 L279.7,843.5 L273.8,837.9 L268.0,837.5Z" fill="#7fcb35"/><path d="M285.4,849.7 L291.2,850.5 L285.5,844.3 L279.7,843.5Z" fill="#6ac642"/><path d="M67.2,869.8 L72.9,862.5 L67.1,864.1 L61.4,871.4Z" fill="#62cc9b"/><path d="M78.7,861.3 L84.4,854.5 L78.6,855.7 L72.9,862.5Z" fill="#63c76d"/><path d="M90.3,853.7 L96.0,847.3 L90.2,848.2 L84.4,854.5Z" fill="#68c648"/><path d="M101.9,846.9 L107.8,841.0 L101.9,841.5 L96.0,847.3Z" fill="#77c936"/><path d="M113.7,841.1 L119.5,835.6 L113.6,835.6 L107.8,841.0Z" fill="#a0d436"/><path d="M125.5,836.0 L131.4,831.0 L125.4,830.7 L119.5,835.6Z" fill="#ccdf38"/><path d="M137.3,831.9 L143.2,827.3 L137.3,826.5 L131.4,831.0Z" fill="#eae536"/><path d="M149.2,828.6 L155.1,824.5 L149.2,823.3 L143.2,827.3Z" fill="#f4d32e"/><path d="M161.1,826.2 L167.1,822.5 L161.1,820.8 L155.1,824.5Z" fill="#f6bc28"/><path d="M173.1,824.6 L179.0,821.4 L173.0,819.3 L167.1,822.5Z" fill="#f6ab26"/><path d="M185.0,823.9 L191.0,821.1 L185.0,818.6 L179.0,821.4Z" fill="#f6a425"/><path d="M196.9,824.1 L202.9,821.7 L196.9,818.7 L191.0,821.1Z" fill="#f6a625"/><path d="M208.8,825.1 L214.8,823.1 L208.9,819.7 L202.9,821.7Z" fill="#f6b227"/><path d="M220.7,827.0 L226.7,825.4 L220.8,821.6 L214.8,823.1Z" fill="#f6c72a"/><path d="M232.6,829.8 L238.5,828.6 L232.6,824.3 L226.7,825.4Z" fill="#f2dd32"/><path d="M244.4,833.4 L250.4,832.6 L244.5,827.8 L238.5,828.6Z" fill="#dee337"/><path d="M256.2,837.9 L262.1,837.5 L256.3,832.2 L250.4,832.6Z" fill="#b9da37"/><path d="M267.9,843.2 L273.8,843.2 L268.0,837.5 L262.1,837.5Z" fill="#8cce34"/><path d="M279.6,849.4 L285.4,849.7 L279.7,843.5 L273.8,843.2Z" fill="#6bc63b"/><path d="M73.0,868.6 L78.7,861.3 L72.9,862.5 L67.2,869.8Z" fill="#62ca8a"/><path d="M84.5,860.6 L90.3,853.7 L84.4,854.5 L78.7,861.3Z" fill="#65c75d"/><path d="M96.1,853.3 L101.9,846.9 L96.0,847.3 L90.3,853.7Z" fill="#6ac640"/><path d="M107.8,847.0 L113.7,841.1 L107.8,841.0 L101.9,846.9Z" fill="#81cb35"/><path d="M119.6,841.5 L125.5,836.0 L119.5,835.6 L113.7,841.1Z" fill="#abd736"/><path d="M131.4,836.9 L137.3,831.9 L131.4,831.0 L125.5,836.0Z" fill="#d3e138"/><path d="M143.3,833.2 L149.2,828.6 L143.2,827.3 L137.3,831.9Z" fill="#eee636"/><path d="M155.2,830.3 L161.1,826.2 L155.1,824.5 L149.2,828.6Z" fill="#f4d22e"/><path d="M167.1,828.3 L173.1,824.6 L167.1,822.5 L161.1,826.2Z" fill="#f6c129"/><path d="M179.0,827.2 L185.0,823.9 L179.0,821.4 L173.1,824.6Z" fill="#f6b427"/><path d="M191.0,827.0 L196.9,824.1 L191.0,821.1 L185.0,823.9Z" fill="#f6b227"/><path d="M202.9,827.6 L208.8,825.1 L202.9,821.7 L196.9,824.1Z" fill="#f6b928"/><path d="M214.8,829.1 L220.7,827.0 L214.8,823.1 L208.8,825.1Z" fill="#f6c92b"/><path d="M226.7,831.4 L232.6,829.8 L226.7,825.4 L220.7,827.0Z" fill="#f2dc32"/><path d="M238.5,834.7 L244.4,833.4 L238.5,828.6 L232.6,829.8Z" fill="#e2e337"/><path d="M250.3,838.7 L256.2,837.9 L250.4,832.6 L244.4,833.4Z" fill="#c2dd37"/><path d="M262.1,843.7 L267.9,843.2 L262.1,837.5 L256.2,837.9Z" fill="#97d135"/><path d="M273.7,849.5 L279.6,849.4 L273.8,843.2 L267.9,843.2Z" fill="#72c737"/><path d="M78.8,867.9 L84.5,860.6 L78.7,861.3 L73.0,868.6Z" fill="#62c87b"/><path d="M90.4,860.2 L96.1,853.3 L90.3,853.7 L84.5,860.6Z" fill="#66c651"/><path d="M102.0,853.4 L107.8,847.0 L101.9,846.9 L96.1,853.3Z" fill="#6cc63a"/><path d="M113.8,847.5 L119.6,841.5 L113.7,841.1 L107.8,847.0Z" fill="#8ace34"/><path d="M125.5,842.4 L131.4,836.9 L125.5,836.0 L119.6,841.5Z" fill="#b4d937"/><path d="M137.4,838.3 L143.3,833.2 L137.3,831.9 L131.4,836.9Z" fill="#d7e138"/><path d="M149.3,835.0 L155.2,830.3 L149.2,828.6 L143.3,833.2Z" fill="#eee636"/><path d="M161.2,832.5 L167.1,828.3 L161.1,826.2 L155.2,830.3Z" fill="#f3d52f"/><path d="M173.1,831.0 L179.0,827.2 L173.1,824.6 L167.1,828.3Z" fill="#f6c92b"/><path d="M185.0,830.3 L191.0,827.0 L185.0,823.9 L179.0,827.2Z" fill="#f6c329"/><path d="M196.9,830.5 L202.9,827.6 L196.9,824.1 L191.0,827.0Z" fill="#f6c52a"/><path d="M208.8,831.6 L214.8,829.1 L208.8,825.1 L202.9,827.6Z" fill="#f5ce2d"/><path d="M220.7,833.5 L226.7,831.4 L220.7,827.0 L214.8,829.1Z" fill="#f2de33"/><path d="M232.6,836.3 L238.5,834.7 L232.6,829.8 L226.7,831.4Z" fill="#e4e437"/><path d="M244.4,840.0 L250.3,838.7 L244.4,833.4 L238.5,834.7Z" fill="#c7de38"/><path d="M256.2,844.6 L262.1,843.7 L256.2,837.9 L250.3,838.7Z" fill="#a0d436"/><path d="M267.9,850.0 L273.7,849.5 L267.9,843.2 L262.1,843.7Z" fill="#79c936"/><path d="M84.6,867.7 L90.4,860.2 L84.5,860.6 L78.8,867.9Z" fill="#63c76e"/><path d="M96.2,860.4 L102.0,853.4 L96.1,853.3 L90.4,860.2Z" fill="#68c64a"/><path d="M107.9,854.0 L113.8,847.5 L107.8,847.0 L102.0,853.4Z" fill="#70c737"/><path d="M119.7,848.5 L125.5,842.4 L119.6,841.5 L113.8,847.5Z" fill="#92d035"/><path d="M131.5,843.8 L137.4,838.3 L131.4,836.9 L125.5,842.4Z" fill="#b8da37"/><path d="M143.4,840.1 L149.3,835.0 L143.3,833.2 L137.4,838.3Z" fill="#d7e138"/><path d="M155.2,837.2 L161.2,832.5 L155.2,830.3 L149.3,835.0Z" fill="#ece536"/><path d="M167.1,835.2 L173.1,831.0 L167.1,828.3 L161.2,832.5Z" fill="#f2dc32"/><path d="M179.1,834.1 L185.0,830.3 L179.0,827.2 L173.1,831.0Z" fill="#f4d32f"/><path d="M191.0,833.9 L196.9,830.5 L191.0,827.0 L185.0,830.3Z" fill="#f4d22e"/><path d="M202.9,834.5 L208.8,831.6 L202.9,827.6 L196.9,830.5Z" fill="#f3d730"/><path d="M214.8,836.0 L220.7,833.5 L214.8,829.1 L208.8,831.6Z" fill="#f1e335"/><path d="M226.6,838.4 L232.6,836.3 L226.7,831.4 L220.7,833.5Z" fill="#e2e337"/><path d="M238.5,841.7 L244.4,840.0 L238.5,834.7 L232.6,836.3Z" fill="#c9de38"/><path d="M250.2,845.9 L256.2,844.6 L250.3,838.7 L244.4,840.0Z" fill="#a4d536"/><path d="M262.0,850.9 L267.9,850.0 L262.1,843.7 L256.2,844.6Z" fill="#7fcb35"/><path d="M90.5,867.8 L96.2,860.4 L90.4,860.2 L84.6,867.7Z" fill="#64c764"/><path d="M102.1,861.0 L107.9,854.0 L102.0,853.4 L96.2,860.4Z" fill="#69c646"/><path d="M113.9,855.0 L119.7,848.5 L113.8,847.5 L107.9,854.0Z" fill="#75c836"/><path d="M125.6,849.9 L131.5,843.8 L125.5,842.4 L119.7,848.5Z" fill="#96d135"/><path d="M137.5,845.7 L143.4,840.1 L137.4,838.3 L131.5,843.8Z" fill="#b9da37"/><path d="M149.3,842.3 L155.2,837.2 L149.3,835.0 L143.4,840.1Z" fill="#d5e138"/><path d="M161.2,839.9 L167.1,835.2 L161.2,832.5 L155.2,837.2Z" fill="#e6e437"/><path d="M173.1,838.4 L179.1,834.1 L173.1,831.0 L167.1,835.2Z" fill="#f0e636"/><path d="M185.0,837.7 L191.0,833.9 L185.0,830.3 L179.1,834.1Z" fill="#f1e134"/><path d="M196.9,837.9 L202.9,834.5 L196.9,830.5 L191.0,833.9Z" fill="#f1e335"/><path d="M208.8,839.0 L214.8,836.0 L208.8,831.6 L202.9,834.5Z" fill="#ebe536"/><path d="M220.7,841.0 L226.6,838.4 L220.7,833.5 L214.8,836.0Z" fill="#dde237"/><path d="M232.5,843.9 L238.5,841.7 L232.6,836.3 L226.6,838.4Z" fill="#c7de38"/><path d="M244.3,847.7 L250.2,845.9 L244.4,840.0 L238.5,841.7Z" fill="#a6d536"/><path d="M256.1,852.3 L262.0,850.9 L256.2,844.6 L250.2,845.9Z" fill="#82cb34"/><path d="M96.4,868.5 L102.1,861.0 L96.2,860.4 L90.5,867.8Z" fill="#65c75c"/><path d="M108.1,862.0 L113.9,855.0 L107.9,854.0 L102.1,861.0Z" fill="#6ac643"/><path d="M119.8,856.4 L125.6,849.9 L119.7,848.5 L113.9,855.0Z" fill="#78c936"/><path d="M131.6,851.8 L137.5,845.7 L131.5,843.8 L125.6,849.9Z" fill="#96d135"/><path d="M143.4,848.0 L149.3,842.3 L143.4,840.1 L137.5,845.7Z" fill="#b5d937"/><path d="M155.3,845.1 L161.2,839.9 L155.2,837.2 L149.3,842.3Z" fill="#cee038"/><path d="M167.2,843.1 L173.1,838.4 L167.1,835.2 L161.2,839.9Z" fill="#dce237"/><path d="M179.1,842.0 L185.0,837.7 L179.1,834.1 L173.1,838.4Z" fill="#e4e437"/><path d="M191.0,841.8 L196.9,837.9 L191.0,833.9 L185.0,837.7Z" fill="#e5e437"/><path d="M202.9,842.5 L208.8,839.0 L202.9,834.5 L196.9,837.9Z" fill="#e0e337"/><path d="M214.7,844.1 L220.7,841.0 L214.8,836.0 L208.8,839.0Z" fill="#d5e138"/><path d="M226.6,846.5 L232.5,843.9 L226.6,838.4 L220.7,841.0Z" fill="#c1dc37"/><path d="M238.4,849.9 L244.3,847.7 L238.5,841.7 L232.5,843.9Z" fill="#a4d536"/><path d="M250.2,854.1 L256.1,852.3 L250.2,845.9 L244.3,847.7Z" fill="#83cc34"/><path d="M102.3,869.6 L108.1,862.0 L102.1,861.0 L96.4,868.5Z" fill="#66c656"/><path d="M114.0,863.5 L119.8,856.4 L113.9,855.0 L108.1,862.0Z" fill="#6ac641"/><path d="M125.7,858.4 L131.6,851.8 L125.6,849.9 L119.8,856.4Z" fill="#78c936"/><path d="M137.5,854.2 L143.4,848.0 L137.5,845.7 L131.6,851.8Z" fill="#93d035"/><path d="M149.4,850.8 L155.3,845.1 L149.3,842.3 L143.4,848.0Z" fill="#aed736"/><path d="M161.3,848.4 L167.2,843.1 L161.2,839.9 L155.3,845.1Z" fill="#c3dd37"/><path d="M173.1,846.8 L179.1,842.0 L173.1,838.4 L167.2,843.1Z" fill="#d0e038"/><path d="M185.0,846.2 L191.0,841.8 L185.0,837.7 L179.1,842.0Z" fill="#d4e138"/><path d="M196.9,846.4 L202.9,842.5 L196.9,837.9 L191.0,841.8Z" fill="#d2e038"/><path d="M208.8,847.6 L214.7,844.1 L208.8,839.0 L202.9,842.5Z" fill="#c9de38"/><path d="M220.6,849.6 L226.6,846.5 L220.7,841.0 L214.7,844.1Z" fill="#b7da37"/><path d="M232.5,852.6 L238.4,849.9 L232.5,843.9 L226.6,846.5Z" fill="#9ed335"/><path d="M244.2,856.4 L250.2,854.1 L244.3,847.7 L238.4,849.9Z" fill="#82cb34"/><path d="M108.2,871.1 L114.0,863.5 L108.1,862.0 L102.3,869.6Z" fill="#66c653"/><path d="M119.9,865.5 L125.7,858.4 L119.8,856.4 L114.0,863.5Z" fill="#6ac641"/><path d="M131.7,860.8 L137.5,854.2 L131.6,851.8 L125.7,858.4Z" fill="#76c936"/><path d="M143.5,857.0 L149.4,850.8 L143.4,848.0 L137.5,854.2Z" fill="#8dce34"/><path d="M155.4,854.1 L161.3,848.4 L155.3,845.1 L149.4,850.8Z" fill="#a3d536"/><path d="M167.2,852.1 L173.1,846.8 L167.2,843.1 L161.3,848.4Z" fill="#b3d937"/><path d="M179.1,851.0 L185.0,846.2 L179.1,842.0 L173.1,846.8Z" fill="#bcdb37"/><path d="M191.0,850.9 L196.9,846.4 L191.0,841.8 L185.0,846.2Z" fill="#bedb37"/><path d="M202.9,851.6 L208.8,847.6 L202.9,842.5 L196.9,846.4Z" fill="#b8da37"/><path d="M214.7,853.2 L220.6,849.6 L214.7,844.1 L208.8,847.6Z" fill="#a9d636"/><path d="M226.5,855.7 L232.5,852.6 L226.6,846.5 L220.6,849.6Z" fill="#96d135"/><path d="M238.3,859.1 L244.2,856.4 L238.4,849.9 L232.5,852.6Z" fill="#7eca35"/><path d="M114.1,873.2 L119.9,865.5 L114.0,863.5 L108.2,871.1Z" fill="#66c653"/><path d="M125.9,868.0 L131.7,860.8 L125.7,858.4 L119.9,865.5Z" fill="#6ac642"/><path d="M137.6,863.8 L143.5,857.0 L137.5,854.2 L131.7,860.8Z" fill="#72c737"/><path d="M149.5,860.4 L155.4,854.1 L149.4,850.8 L143.5,857.0Z" fill="#83cc34"/><path d="M161.3,857.9 L167.2,852.1 L161.3,848.4 L155.4,854.1Z" fill="#95d135"/><path d="M173.2,856.4 L179.1,851.0 L173.1,846.8 L167.2,852.1Z" fill="#a1d436"/><path d="M185.0,855.8 L191.0,850.9 L185.0,846.2 L179.1,851.0Z" fill="#a5d536"/><path d="M196.9,856.1 L202.9,851.6 L196.9,846.4 L191.0,850.9Z" fill="#a3d536"/><path d="M208.8,857.2 L214.7,853.2 L208.8,847.6 L202.9,851.6Z" fill="#9ad235"/><path d="M220.6,859.3 L226.5,855.7 L220.6,849.6 L214.7,853.2Z" fill="#89ce34"/><path d="M232.4,862.3 L238.3,859.1 L232.5,852.6 L226.5,855.7Z" fill="#78c936"/><path d="M120.0,875.7 L125.9,868.0 L119.9,865.5 L114.1,873.2Z" fill="#66c655"/><path d="M131.8,871.0 L137.6,863.8 L131.7,860.8 L125.9,868.0Z" fill="#69c645"/><path d="M143.6,867.2 L149.5,860.4 L143.5,857.0 L137.6,863.8Z" fill="#6cc639"/><path d="M155.4,864.3 L161.3,857.9 L155.4,854.1 L149.5,860.4Z" fill="#7ac936"/><path d="M167.3,862.3 L173.2,856.4 L167.2,852.1 L161.3,857.9Z" fill="#84cc34"/><path d="M179.1,861.2 L185.0,855.8 L179.1,851.0 L173.2,856.4Z" fill="#8bce34"/><path d="M191.0,861.0 L196.9,856.1 L191.0,850.9 L185.0,855.8Z" fill="#8dce34"/><path d="M202.8,861.8 L208.8,857.2 L202.9,851.6 L196.9,856.1Z" fill="#87cd34"/><path d="M214.7,863.4 L220.6,859.3 L214.7,853.2 L208.8,857.2Z" fill="#7dca35"/><path d="M226.5,866.0 L232.4,862.3 L226.5,855.7 L220.6,859.3Z" fill="#70c737"/><path d="M126.0,878.8 L131.8,871.0 L125.9,868.0 L120.0,875.7Z" fill="#65c65a"/><path d="M137.7,874.5 L143.6,867.2 L137.6,863.8 L131.8,871.0Z" fill="#68c649"/><path d="M149.5,871.1 L155.4,864.3 L149.5,860.4 L143.6,867.2Z" fill="#6ac63f"/><path d="M161.4,868.7 L167.3,862.3 L161.3,857.9 L155.4,864.3Z" fill="#6ec638"/><path d="M173.2,867.1 L179.1,861.2 L173.2,856.4 L167.3,862.3Z" fill="#76c836"/><path d="M185.0,866.5 L191.0,861.0 L185.0,855.8 L179.1,861.2Z" fill="#79c936"/><path d="M196.9,866.8 L202.8,861.8 L196.9,856.1 L191.0,861.0Z" fill="#77c936"/><path d="M208.7,868.0 L214.7,863.4 L208.8,857.2 L202.8,861.8Z" fill="#71c737"/><path d="M220.5,870.2 L226.5,866.0 L220.6,859.3 L214.7,863.4Z" fill="#6bc63c"/><path d="M131.9,882.3 L137.7,874.5 L131.8,871.0 L126.0,878.8Z" fill="#64c762"/><path d="M143.7,878.5 L149.5,871.1 L143.6,867.2 L137.7,874.5Z" fill="#67c64f"/><path d="M155.5,875.6 L161.4,868.7 L155.4,864.3 L149.5,871.1Z" fill="#69c646"/><path d="M167.3,873.6 L173.2,867.1 L167.3,862.3 L161.4,868.7Z" fill="#6ac640"/><path d="M179.1,872.5 L185.0,866.5 L179.1,861.2 L173.2,867.1Z" fill="#6bc63c"/><path d="M191.0,872.4 L196.9,866.8 L191.0,861.0 L185.0,866.5Z" fill="#6bc63c"/><path d="M202.8,873.1 L208.7,868.0 L202.8,861.8 L196.9,866.8Z" fill="#6bc63e"/><path d="M214.6,874.9 L220.5,870.2 L214.7,863.4 L208.7,868.0Z" fill="#69c644"/><path d="M137.8,886.4 L143.7,878.5 L137.7,874.5 L131.9,882.3Z" fill="#63c76c"/><path d="M149.6,883.0 L155.5,875.6 L149.5,871.1 L143.7,878.5Z" fill="#65c659"/><path d="M161.4,880.6 L167.3,873.6 L161.4,868.7 L155.5,875.6Z" fill="#67c64f"/><path d="M173.2,879.0 L179.1,872.5 L173.2,867.1 L167.3,873.6Z" fill="#68c64a"/><path d="M185.0,878.4 L191.0,872.4 L185.0,866.5 L179.1,872.5Z" fill="#68c648"/><path d="M196.9,878.8 L202.8,873.1 L196.9,866.8 L191.0,872.4Z" fill="#68c649"/><path d="M208.7,880.0 L214.6,874.9 L208.7,868.0 L202.8,873.1Z" fill="#67c64d"/><path d="M143.8,891.0 L149.6,883.0 L143.7,878.5 L137.8,886.4Z" fill="#62c878"/><path d="M155.5,888.1 L161.4,880.6 L155.5,875.6 L149.6,883.0Z" fill="#64c769"/><path d="M167.3,886.1 L173.2,879.0 L167.3,873.6 L161.4,880.6Z" fill="#65c75e"/><path d="M179.1,885.0 L185.0,878.4 L179.1,872.5 L173.2,879.0Z" fill="#65c658"/><path d="M190.9,884.9 L196.9,878.8 L191.0,872.4 L185.0,878.4Z" fill="#65c658"/><path d="M202.7,885.7 L208.7,880.0 L202.8,873.1 L196.9,878.8Z" fill="#65c75c"/><path d="M149.7,896.1 L155.5,888.1 L149.6,883.0 L143.8,891.0Z" fill="#62ca86"/><path d="M161.5,893.7 L167.3,886.1 L161.4,880.6 L155.5,888.1Z" fill="#62c87a"/><path d="M173.2,892.2 L179.1,885.0 L173.2,879.0 L167.3,886.1Z" fill="#63c872"/><path d="M185.0,891.6 L190.9,884.9 L185.0,878.4 L179.1,885.0Z" fill="#63c86f"/><path d="M196.8,891.9 L202.7,885.7 L196.9,878.8 L190.9,884.9Z" fill="#63c871"/><path d="M155.6,901.8 L161.5,893.7 L155.5,888.1 L149.7,896.1Z" fill="#62cc97"/><path d="M167.4,899.8 L173.2,892.2 L167.3,886.1 L161.5,893.7Z" fill="#62cb8d"/><path d="M179.1,898.8 L185.0,891.6 L179.1,885.0 L173.2,892.2Z" fill="#62ca88"/><path d="M190.9,898.7 L196.8,891.9 L190.9,884.9 L185.0,891.6Z" fill="#62ca88"/><path d="M161.5,908.0 L167.4,899.8 L161.5,893.7 L155.6,901.8Z" fill="#62cda7"/><path d="M173.2,906.5 L179.1,898.8 L173.2,892.2 L167.4,899.8Z" fill="#62cca1"/><path d="M185.0,906.0 L190.9,898.7 L185.0,891.6 L179.1,898.8Z" fill="#62cc9f"/><path d="M167.4,914.8 L173.2,906.5 L167.4,899.8 L161.5,908.0Z" fill="#64ccbe"/><path d="M179.1,913.8 L185.0,906.0 L179.1,898.8 L173.2,906.5Z" fill="#62cdb7"/><path d="M173.2,922.2 L179.1,913.8 L173.2,906.5 L167.4,914.8Z" fill="#63bddf"/></g>
<text transform="translate(52.2 904.5) scale(1 1.10)" font-size="15.6" text-anchor="end">40</text>
<text transform="translate(51.2 880.0) scale(1 1.10)" font-size="15.6" text-anchor="end">48</text>
<text transform="translate(50.2 855.5) scale(1 1.10)" font-size="15.6" text-anchor="end">56</text>
<text transform="translate(49.2 831.1) scale(1 1.10)" font-size="15.6" text-anchor="end">64</text>
<text transform="translate(48.2 806.6) scale(1 1.10)" font-size="15.6" text-anchor="end">72</text>
<text transform="translate(47.2 782.1) scale(1 1.10)" font-size="15.6" text-anchor="end">80</text>
<text transform="translate(187.3 995.8) scale(1 1.10)" font-size="15.6" text-anchor="middle">0.9</text>
<text transform="translate(216.4 984.5) scale(1 1.10)" font-size="15.6" text-anchor="middle">1.0</text>
<text transform="translate(244.6 973.2) scale(1 1.10)" font-size="15.6" text-anchor="middle">1.1</text>
<text transform="translate(272.1 960.8) scale(1 1.10)" font-size="15.6" text-anchor="middle">1.2</text>
<text transform="translate(299.9 947.0) scale(1 1.10)" font-size="15.6" text-anchor="middle">1.3</text>
<text transform="translate(166.5 996.3) scale(1 1.10)" font-size="15.6" text-anchor="middle">0</text>
<text transform="translate(110.9 976.4) scale(1 1.10)" font-size="15.6" text-anchor="middle">0.5</text>
<text transform="translate(53.8 954.6) scale(1 1.10)" font-size="15.6" text-anchor="middle">1.0</text>
<text x="253.5" y="994.0" font-size="15.6" text-anchor="middle" transform="rotate(-25.5 253.5 994.0)">Ca/(Si+Al)</text>
<text x="94.5" y="994.9" font-size="16.4" text-anchor="middle" transform="rotate(22.0 94.5 994.9)">Alkali activator content/‰</text>
<text x="27.0" y="856.3" font-size="16.3" text-anchor="middle" transform="rotate(-92.3 27.0 856.3)">Compressive strength/MPa</text>
<circle cx="56.9" cy="876.4" r="1.9" fill="#f9c3d0" stroke="#dc8fa6" stroke-width="0.6"/><circle cx="173.0" cy="817.8" r="2.4" fill="#a3161f" stroke="#7a0f15" stroke-width="0.5"/><circle cx="290.3" cy="851.8" r="2.4" fill="#a3161f" stroke="#7a0f15" stroke-width="0.5"/><circle cx="173.1" cy="923.3" r="2.3" fill="#cf1f2a" stroke="#8a1018" stroke-width="0.5"/>
<clipPath id="cp3"><rect x="386.4" y="758.2" width="230.4" height="231.2"/></clipPath>
<g clip-path="url(#cp3)">
<rect x="386.4" y="758.2" width="230.4" height="231.2" fill="#3b52b0"/>
<g transform="translate(542.91 863.61) rotate(0.00)">
<ellipse rx="202.4" ry="197.7" fill="#3b54b2"/>
<ellipse rx="200.3" ry="195.7" fill="#3c58b6"/>
<ellipse rx="198.2" ry="193.6" fill="#3c5cba"/>
<ellipse rx="196.0" ry="191.5" fill="#3d60be"/>
<ellipse rx="193.9" ry="189.4" fill="#3e65c2"/>
<ellipse rx="191.7" ry="187.3" fill="#3e6ac6"/>
<ellipse rx="189.5" ry="185.1" fill="#3f6eca"/>
<ellipse rx="187.2" ry="182.9" fill="#4179d0"/>
<ellipse rx="185.0" ry="180.7" fill="#4388d6"/>
<ellipse rx="182.7" ry="178.5" fill="#4597dc"/>
<ellipse rx="180.4" ry="176.2" fill="#4aa5e1"/>
<ellipse rx="178.0" ry="173.9" fill="#51b0e4"/>
<ellipse rx="175.6" ry="171.6" fill="#59bbe1"/>
<ellipse rx="173.2" ry="169.3" fill="#65c4d2"/>
<ellipse rx="170.8" ry="166.9" fill="#6ecbc4"/>
<ellipse rx="168.3" ry="164.4" fill="#70ccb9"/>
<ellipse rx="165.8" ry="162.0" fill="#72ccac"/>
<ellipse rx="163.2" ry="159.5" fill="#71ca9a"/>
<ellipse rx="160.6" ry="156.9" fill="#6fc889"/>
<ellipse rx="157.9" ry="154.3" fill="#6dc67b"/>
<ellipse rx="155.3" ry="151.7" fill="#6ac56e"/>
<ellipse rx="152.5" ry="149.0" fill="#68c460"/>
<ellipse rx="149.7" ry="146.3" fill="#65c352"/>
<ellipse rx="146.9" ry="143.5" fill="#62c145"/>
<ellipse rx="144.0" ry="140.7" fill="#60c038"/>
<ellipse rx="141.0" ry="137.8" fill="#60c034"/>
<ellipse rx="138.0" ry="134.9" fill="#60bf30"/>
<ellipse rx="134.9" ry="131.9" fill="#60bf2c"/>
<ellipse rx="131.8" ry="128.8" fill="#61bf2c"/>
<ellipse rx="128.6" ry="125.6" fill="#63c02c"/>
<ellipse rx="125.2" ry="122.4" fill="#64c02b"/>
<ellipse rx="121.8" ry="119.0" fill="#66c12b"/>
<ellipse rx="118.3" ry="115.6" fill="#6bc22b"/>
<ellipse rx="114.7" ry="112.1" fill="#71c42b"/>
<ellipse rx="111.0" ry="108.4" fill="#77c62b"/>
<ellipse rx="107.1" ry="104.7" fill="#85ca2c"/>
<ellipse rx="103.1" ry="100.7" fill="#94ce2c"/>
<ellipse rx="98.9" ry="96.7" fill="#a3d32d"/>
<ellipse rx="94.6" ry="92.4" fill="#b2d62e"/>
<ellipse rx="90.0" ry="88.0" fill="#c1da2f"/>
<ellipse rx="85.2" ry="83.3" fill="#cddd2f"/>
<ellipse rx="80.1" ry="78.3" fill="#d7e030"/>
<ellipse rx="74.7" ry="73.0" fill="#e6e12e"/>
<ellipse rx="68.8" ry="67.2" fill="#f2d527"/>
<ellipse rx="62.4" ry="61.0" fill="#f5bf21"/>
<ellipse rx="55.2" ry="54.0" fill="#f6ab20"/>
<ellipse rx="47.0" ry="45.9" fill="#f7961e"/>
<ellipse rx="37.0" ry="36.1" fill="#f6861f"/>
<ellipse rx="22.9" ry="22.4" fill="#f47821"/>
<g fill="none" stroke="#1f3a2a" stroke-opacity="0.7" stroke-width="0.75">
<ellipse rx="187.2" ry="182.9"/>
<ellipse rx="170.5" ry="166.6"/>
<ellipse rx="151.9" ry="148.4"/>
<ellipse rx="130.7" ry="127.7"/>
<ellipse rx="105.3" ry="102.9"/>
<ellipse rx="71.5" ry="69.8"/>
</g></g></g>
<text x="400.0" y="776.4" font-size="15.6" text-anchor="middle">52</text>
<text x="399.0" y="821.4" font-size="15.6" text-anchor="middle">55</text>
<text x="465.0" y="799.9" font-size="15.6" text-anchor="middle">61</text>
<text x="478.0" y="886.4" font-size="15.6" text-anchor="middle">65</text>
<text x="399.0" y="958.4" font-size="15.6" text-anchor="middle">52</text>
<text x="451.0" y="958.4" font-size="15.6" text-anchor="middle">58</text>
<text x="603.0" y="981.4" font-size="15.6" text-anchor="middle">58</text>
<rect x="386.4" y="758.2" width="230.4" height="231.2" fill="none" stroke="#1a1a1a" stroke-width="1.2"/>
<text x="386.4" y="1005.1" font-size="15.6" text-anchor="middle">0.9</text>
<text x="444.0" y="1005.1" font-size="15.6" text-anchor="middle">1.0</text>
<text x="501.6" y="1005.1" font-size="15.6" text-anchor="middle">1.1</text>
<text x="559.2" y="1005.1" font-size="15.6" text-anchor="middle">1.2</text>
<text x="616.8" y="1005.1" font-size="15.6" text-anchor="middle">1.3</text>
<text x="381.4" y="994.1" font-size="15.6" text-anchor="end">0</text>
<text x="381.4" y="878.5" font-size="15.6" text-anchor="end">0.5</text>
<text x="381.4" y="762.9" font-size="15.6" text-anchor="end">1.0</text>
<path d="M444.0,989.4 v-5 M501.6,989.4 v-5 M559.2,989.4 v-5 M386.4,873.8 h5" stroke="#1a1a1a" stroke-width="1.2" fill="none"/>
<text x="497.5" y="751.6" font-size="15.6" text-anchor="middle">Compressive strength/MPa</text>
<text x="501.6" y="1027.0" font-size="15.6" text-anchor="middle">Ca/(Si+Al)</text>
<text x="351.0" y="875.7" font-size="15.6" text-anchor="middle" transform="rotate(-90.0 351.0 875.7)">Alkali activator content/‰</text>
<text x="151.2" y="323.6" font-size="15.6" text-anchor="middle">(a) Response surface</text>
<text x="483.8" y="324.4" font-size="15.6" text-anchor="middle">(b) Contour plot</text>
<text x="152.9" y="680.4" font-size="15.6" text-anchor="middle">(a) Response surface</text>
<text x="486.3" y="681.5" font-size="15.6" text-anchor="middle">(b) Contour plot</text>
<text x="145.8" y="1049.0" font-size="15.6" text-anchor="middle">(a) Response surface</text>
<text x="500.2" y="1047.5" font-size="15.6" text-anchor="middle">(b) Contour plot</text>
<text transform="translate(155.2 348.0) scale(0.86 1)" font-size="17" text-anchor="start">7</text>
<text transform="translate(137.4 713.2) scale(0.86 1)" font-size="17" text-anchor="start">8</text>
<text transform="translate(137.4 1078.3) scale(0.86 1)" font-size="17" text-anchor="start">9</text>
<text x="132.7" y="348.4" font-size="16.9" font-weight="bold" fill="#111" style="font-family:'Liberation Sans','Noto Sans CJK SC',sans-serif">图</text>
<text x="180.8" y="348.4" font-size="16.9" font-weight="bold" fill="#111" textLength="322.3" lengthAdjust="spacing" style="font-family:'Liberation Sans','Noto Sans CJK SC',sans-serif">成型压力和钙硅铝比对抗压强度的交互作用</text>
<text x="116.7" y="713.6" font-size="16.9" font-weight="bold" fill="#111" style="font-family:'Liberation Sans','Noto Sans CJK SC',sans-serif">图</text>
<text x="162.7" y="713.6" font-size="16.9" font-weight="bold" fill="#111" textLength="357.2" lengthAdjust="spacing" style="font-family:'Liberation Sans','Noto Sans CJK SC',sans-serif">成型压力和碱激发剂掺量对抗压强度的交互作用</text>
<text x="116.7" y="1078.7" font-size="16.9" font-weight="bold" fill="#111" style="font-family:'Liberation Sans','Noto Sans CJK SC',sans-serif">图</text>
<text x="162.7" y="1078.7" font-size="16.9" font-weight="bold" fill="#111" textLength="357.2" lengthAdjust="spacing" style="font-family:'Liberation Sans','Noto Sans CJK SC',sans-serif">钙硅铝比和碱激发剂掺量对抗压强度的交互作用</text>
</svg>
</body></html>
